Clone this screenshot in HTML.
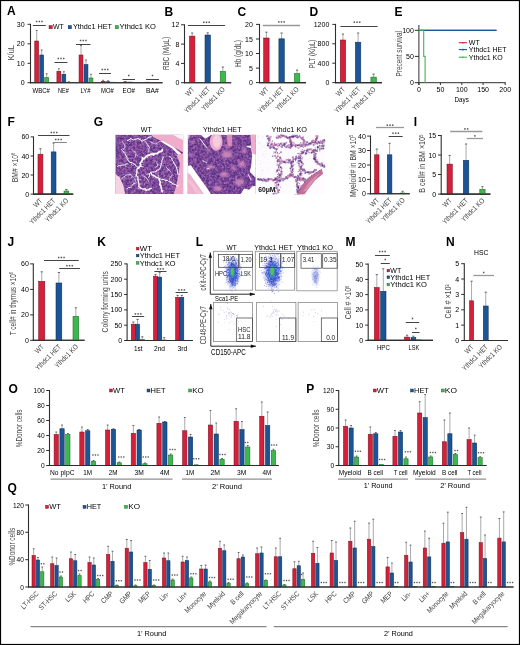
<!DOCTYPE html>
<html><head><meta charset="utf-8"><style>
html,body{margin:0;padding:0;background:#fff;}
svg{display:block; will-change:transform;}
text{font-family:"Liberation Sans", sans-serif;}
</style></head><body>
<svg width="520" height="645" viewBox="0 0 520 645">
<rect x="0" y="0" width="520" height="645" fill="#fff"/>
<text x="7.10" y="15.00" font-size="12" fill="#000" font-weight="bold">A</text>
<line x1="30.50" y1="23.80" x2="30.50" y2="83.20" stroke="#2e2e2e" stroke-width="1.1"/>
<line x1="27.50" y1="24.30" x2="30.50" y2="24.30" stroke="#2e2e2e" stroke-width="1"/>
<text x="24.60" y="26.80" font-size="7" text-anchor="end">30</text>
<line x1="27.50" y1="43.80" x2="30.50" y2="43.80" stroke="#2e2e2e" stroke-width="1"/>
<text x="24.60" y="46.30" font-size="7" text-anchor="end">20</text>
<line x1="27.50" y1="63.30" x2="30.50" y2="63.30" stroke="#2e2e2e" stroke-width="1"/>
<text x="24.60" y="65.80" font-size="7" text-anchor="end">10</text>
<line x1="27.50" y1="82.70" x2="30.50" y2="82.70" stroke="#2e2e2e" stroke-width="1"/>
<text x="24.60" y="85.20" font-size="7" text-anchor="end">0</text>
<line x1="30.00" y1="82.70" x2="162.60" y2="82.70" stroke="#2e2e2e" stroke-width="1.1"/>
<text x="14.30" y="52.70" font-size="8.5" text-anchor="middle" fill="#444" textLength="15.30" lengthAdjust="spacingAndGlyphs" transform="rotate(-90 14.30 52.70)">K/uL</text>
<line x1="36.70" y1="41.00" x2="36.70" y2="30.50" stroke="#707070" stroke-width="0.6"/>
<line x1="35.80" y1="30.50" x2="37.60" y2="30.50" stroke="#444" stroke-width="0.8"/>
<rect x="34.75" y="41.00" width="3.90" height="41.70" fill="#d4203a" stroke="#7a1020" stroke-width="0.55"/>
<line x1="41.70" y1="55.00" x2="41.70" y2="50.00" stroke="#707070" stroke-width="0.6"/>
<line x1="40.80" y1="50.00" x2="42.60" y2="50.00" stroke="#444" stroke-width="0.8"/>
<rect x="39.75" y="55.00" width="3.90" height="27.70" fill="#1c5595" stroke="#0e2f55" stroke-width="0.55"/>
<line x1="46.70" y1="77.50" x2="46.70" y2="73.75" stroke="#707070" stroke-width="0.6"/>
<line x1="45.80" y1="73.75" x2="47.60" y2="73.75" stroke="#444" stroke-width="0.8"/>
<rect x="44.75" y="77.50" width="3.90" height="5.20" fill="#3db84c" stroke="#1d6a27" stroke-width="0.55"/>
<line x1="58.85" y1="71.25" x2="58.85" y2="68.75" stroke="#707070" stroke-width="0.6"/>
<line x1="57.95" y1="68.75" x2="59.75" y2="68.75" stroke="#444" stroke-width="0.8"/>
<rect x="56.90" y="71.25" width="3.90" height="11.45" fill="#d4203a" stroke="#7a1020" stroke-width="0.55"/>
<line x1="63.85" y1="74.25" x2="63.85" y2="71.75" stroke="#707070" stroke-width="0.6"/>
<line x1="62.95" y1="71.75" x2="64.75" y2="71.75" stroke="#444" stroke-width="0.8"/>
<rect x="61.90" y="74.25" width="3.90" height="8.45" fill="#1c5595" stroke="#0e2f55" stroke-width="0.55"/>
<line x1="68.85" y1="82.20" x2="68.85" y2="81.80" stroke="#707070" stroke-width="0.6"/>
<line x1="67.95" y1="81.80" x2="69.75" y2="81.80" stroke="#444" stroke-width="0.8"/>
<rect x="66.90" y="82.20" width="3.90" height="0.50" fill="#3db84c" stroke="#1d6a27" stroke-width="0.55"/>
<line x1="81.00" y1="55.00" x2="81.00" y2="45.50" stroke="#707070" stroke-width="0.6"/>
<line x1="80.10" y1="45.50" x2="81.90" y2="45.50" stroke="#444" stroke-width="0.8"/>
<rect x="79.05" y="55.00" width="3.90" height="27.70" fill="#d4203a" stroke="#7a1020" stroke-width="0.55"/>
<line x1="86.00" y1="64.50" x2="86.00" y2="60.00" stroke="#707070" stroke-width="0.6"/>
<line x1="85.10" y1="60.00" x2="86.90" y2="60.00" stroke="#444" stroke-width="0.8"/>
<rect x="84.05" y="64.50" width="3.90" height="18.20" fill="#1c5595" stroke="#0e2f55" stroke-width="0.55"/>
<line x1="91.00" y1="78.00" x2="91.00" y2="74.25" stroke="#707070" stroke-width="0.6"/>
<line x1="90.10" y1="74.25" x2="91.90" y2="74.25" stroke="#444" stroke-width="0.8"/>
<rect x="89.05" y="78.00" width="3.90" height="4.70" fill="#3db84c" stroke="#1d6a27" stroke-width="0.55"/>
<line x1="103.15" y1="81.30" x2="103.15" y2="80.30" stroke="#707070" stroke-width="0.6"/>
<line x1="102.25" y1="80.30" x2="104.05" y2="80.30" stroke="#444" stroke-width="0.8"/>
<rect x="101.20" y="81.30" width="3.90" height="1.40" fill="#d4203a" stroke="#7a1020" stroke-width="0.55"/>
<line x1="108.15" y1="81.80" x2="108.15" y2="80.80" stroke="#707070" stroke-width="0.6"/>
<line x1="107.25" y1="80.80" x2="109.05" y2="80.80" stroke="#444" stroke-width="0.8"/>
<rect x="106.20" y="81.80" width="3.90" height="0.90" fill="#1c5595" stroke="#0e2f55" stroke-width="0.55"/>
<rect x="111.20" y="82.20" width="3.90" height="0.50" fill="#3db84c" stroke="#1d6a27" stroke-width="0.55"/>
<line x1="125.30" y1="82.00" x2="125.30" y2="81.50" stroke="#707070" stroke-width="0.6"/>
<line x1="124.40" y1="81.50" x2="126.20" y2="81.50" stroke="#444" stroke-width="0.8"/>
<rect x="123.35" y="82.00" width="3.90" height="0.70" fill="#d4203a" stroke="#7a1020" stroke-width="0.55"/>
<rect x="128.35" y="82.10" width="3.90" height="0.60" fill="#1c5595" stroke="#0e2f55" stroke-width="0.55"/>
<rect x="145.50" y="82.20" width="3.90" height="0.50" fill="#d4203a" stroke="#7a1020" stroke-width="0.55"/>
<line x1="32.80" y1="25.50" x2="45.80" y2="25.50" stroke="#444" stroke-width="1.0"/>
<rect x="35.85" y="20.75" width="1.50" height="1.50" fill="#555"/>
<rect x="38.55" y="20.75" width="1.50" height="1.50" fill="#555"/>
<rect x="41.25" y="20.75" width="1.50" height="1.50" fill="#555"/>
<line x1="54.50" y1="62.50" x2="67.50" y2="62.50" stroke="#444" stroke-width="1.0"/>
<rect x="57.55" y="57.75" width="1.50" height="1.50" fill="#555"/>
<rect x="60.25" y="57.75" width="1.50" height="1.50" fill="#555"/>
<rect x="62.95" y="57.75" width="1.50" height="1.50" fill="#555"/>
<line x1="76.00" y1="44.50" x2="90.50" y2="44.50" stroke="#444" stroke-width="1.0"/>
<rect x="79.80" y="39.75" width="1.50" height="1.50" fill="#555"/>
<rect x="82.50" y="39.75" width="1.50" height="1.50" fill="#555"/>
<rect x="85.20" y="39.75" width="1.50" height="1.50" fill="#555"/>
<line x1="99.00" y1="73.50" x2="111.00" y2="73.50" stroke="#444" stroke-width="1.0"/>
<rect x="101.55" y="68.75" width="1.50" height="1.50" fill="#555"/>
<rect x="104.25" y="68.75" width="1.50" height="1.50" fill="#555"/>
<rect x="106.95" y="68.75" width="1.50" height="1.50" fill="#555"/>
<line x1="122.50" y1="79.50" x2="135.00" y2="79.50" stroke="#444" stroke-width="1.0"/>
<rect x="128.00" y="74.75" width="1.50" height="1.50" fill="#555"/>
<line x1="146.00" y1="79.50" x2="159.00" y2="79.50" stroke="#444" stroke-width="1.0"/>
<rect x="151.75" y="74.75" width="1.50" height="1.50" fill="#555"/>
<text x="32.50" y="92.60" font-size="7" textLength="17.50" lengthAdjust="spacingAndGlyphs">WBC#</text>
<text x="58.00" y="92.60" font-size="7" textLength="10.75" lengthAdjust="spacingAndGlyphs">NE#</text>
<text x="80.50" y="92.60" font-size="7" textLength="10.00" lengthAdjust="spacingAndGlyphs">LY#</text>
<text x="101.00" y="92.60" font-size="7" textLength="12.75" lengthAdjust="spacingAndGlyphs">MO#</text>
<text x="122.50" y="92.60" font-size="7" textLength="12.50" lengthAdjust="spacingAndGlyphs">EO#</text>
<text x="146.00" y="92.60" font-size="7" textLength="12.75" lengthAdjust="spacingAndGlyphs">BA#</text>
<rect x="49.00" y="25.50" width="3.30" height="3.30" fill="#d4203a" stroke="#7a1020" stroke-width="0.4"/>
<text x="53.00" y="29.40" font-size="7.5" textLength="10.80" lengthAdjust="spacingAndGlyphs">WT</text>
<rect x="68.20" y="25.50" width="3.30" height="3.30" fill="#1c5595" stroke="#0e2f55" stroke-width="0.4"/>
<text x="72.90" y="29.40" font-size="7.5" textLength="39.10" lengthAdjust="spacingAndGlyphs">Ythdc1 HET</text>
<rect x="115.20" y="25.50" width="3.30" height="3.30" fill="#3db84c" stroke="#1d6a27" stroke-width="0.4"/>
<text x="119.50" y="29.40" font-size="7.5" textLength="36.50" lengthAdjust="spacingAndGlyphs">Ythdc1 KO</text>
<text x="164.50" y="15.50" font-size="12" fill="#000" font-weight="bold">B</text>
<line x1="184.50" y1="24.30" x2="184.50" y2="83.20" stroke="#2e2e2e" stroke-width="1.1"/>
<line x1="181.00" y1="24.80" x2="184.50" y2="24.80" stroke="#2e2e2e" stroke-width="1"/>
<text x="179.30" y="27.30" font-size="7" text-anchor="end">12</text>
<line x1="181.00" y1="44.10" x2="184.50" y2="44.10" stroke="#2e2e2e" stroke-width="1"/>
<text x="179.30" y="46.60" font-size="7" text-anchor="end">8</text>
<line x1="181.00" y1="63.40" x2="184.50" y2="63.40" stroke="#2e2e2e" stroke-width="1"/>
<text x="179.30" y="65.90" font-size="7" text-anchor="end">4</text>
<line x1="181.00" y1="82.70" x2="184.50" y2="82.70" stroke="#2e2e2e" stroke-width="1"/>
<text x="179.30" y="85.20" font-size="7" text-anchor="end">0</text>
<line x1="184.00" y1="82.70" x2="231.20" y2="82.70" stroke="#2e2e2e" stroke-width="1.1"/>
<text x="169.30" y="53.50" font-size="8.7" text-anchor="middle" fill="#444" textLength="33.20" lengthAdjust="spacingAndGlyphs" transform="rotate(-90 169.30 53.50)">RBC (M/μL)</text>
<line x1="192.20" y1="36.10" x2="192.20" y2="33.00" stroke="#707070" stroke-width="0.6"/>
<line x1="191.10" y1="33.00" x2="193.30" y2="33.00" stroke="#444" stroke-width="0.8"/>
<rect x="189.50" y="36.10" width="5.40" height="46.60" fill="#d4203a" stroke="#7a1020" stroke-width="0.55"/>
<line x1="207.70" y1="35.00" x2="207.70" y2="32.80" stroke="#707070" stroke-width="0.6"/>
<line x1="206.60" y1="32.80" x2="208.80" y2="32.80" stroke="#444" stroke-width="0.8"/>
<rect x="205.00" y="35.00" width="5.40" height="47.70" fill="#1c5595" stroke="#0e2f55" stroke-width="0.55"/>
<line x1="222.85" y1="71.30" x2="222.85" y2="67.00" stroke="#707070" stroke-width="0.6"/>
<line x1="221.75" y1="67.00" x2="223.95" y2="67.00" stroke="#444" stroke-width="0.8"/>
<rect x="220.20" y="71.30" width="5.30" height="11.40" fill="#3db84c" stroke="#1d6a27" stroke-width="0.55"/>
<line x1="187.90" y1="25.50" x2="225.10" y2="25.50" stroke="#444" stroke-width="1.0"/>
<rect x="203.05" y="21.55" width="1.50" height="1.50" fill="#555"/>
<rect x="205.75" y="21.55" width="1.50" height="1.50" fill="#555"/>
<rect x="208.45" y="21.55" width="1.50" height="1.50" fill="#555"/>
<text x="195.05" y="89.90" font-size="7.3" text-anchor="end" fill="#444" textLength="9.64" lengthAdjust="spacingAndGlyphs" transform="rotate(-45 195.05 89.90)">WT</text>
<text x="210.55" y="89.90" font-size="7.3" text-anchor="end" fill="#444" textLength="33.42" lengthAdjust="spacingAndGlyphs" transform="rotate(-45 210.55 89.90)">Ythdc1 HET</text>
<text x="225.55" y="89.90" font-size="7.3" text-anchor="end" fill="#444" textLength="29.98" lengthAdjust="spacingAndGlyphs" transform="rotate(-45 225.55 89.90)">Ythdc1 KO</text>
<text x="237.50" y="15.50" font-size="12" fill="#000" font-weight="bold">C</text>
<line x1="259.50" y1="23.90" x2="259.50" y2="83.10" stroke="#2e2e2e" stroke-width="1.1"/>
<line x1="256.00" y1="24.40" x2="259.50" y2="24.40" stroke="#2e2e2e" stroke-width="1"/>
<text x="252.90" y="26.90" font-size="7" text-anchor="end">20</text>
<line x1="256.00" y1="39.00" x2="259.50" y2="39.00" stroke="#2e2e2e" stroke-width="1"/>
<text x="252.90" y="41.50" font-size="7" text-anchor="end">15</text>
<line x1="256.00" y1="53.50" x2="259.50" y2="53.50" stroke="#2e2e2e" stroke-width="1"/>
<text x="252.90" y="56.00" font-size="7" text-anchor="end">10</text>
<line x1="256.00" y1="68.10" x2="259.50" y2="68.10" stroke="#2e2e2e" stroke-width="1"/>
<text x="252.90" y="70.60" font-size="7" text-anchor="end">5</text>
<line x1="256.00" y1="82.60" x2="259.50" y2="82.60" stroke="#2e2e2e" stroke-width="1"/>
<text x="252.90" y="85.10" font-size="7" text-anchor="end">0</text>
<line x1="259.00" y1="82.60" x2="306.00" y2="82.60" stroke="#2e2e2e" stroke-width="1.1"/>
<text x="241.30" y="53.50" font-size="8.7" text-anchor="middle" fill="#444" textLength="27.00" lengthAdjust="spacingAndGlyphs" transform="rotate(-90 241.30 53.50)">Hb (g/dL)</text>
<line x1="266.40" y1="38.00" x2="266.40" y2="32.20" stroke="#707070" stroke-width="0.6"/>
<line x1="265.30" y1="32.20" x2="267.50" y2="32.20" stroke="#444" stroke-width="0.8"/>
<rect x="263.70" y="38.00" width="5.40" height="44.60" fill="#d4203a" stroke="#7a1020" stroke-width="0.55"/>
<line x1="281.60" y1="38.80" x2="281.60" y2="33.00" stroke="#707070" stroke-width="0.6"/>
<line x1="280.50" y1="33.00" x2="282.70" y2="33.00" stroke="#444" stroke-width="0.8"/>
<rect x="278.90" y="38.80" width="5.40" height="43.80" fill="#1c5595" stroke="#0e2f55" stroke-width="0.55"/>
<line x1="297.10" y1="73.60" x2="297.10" y2="70.10" stroke="#707070" stroke-width="0.6"/>
<line x1="296.00" y1="70.10" x2="298.20" y2="70.10" stroke="#444" stroke-width="0.8"/>
<rect x="294.40" y="73.60" width="5.40" height="9.00" fill="#3db84c" stroke="#1d6a27" stroke-width="0.55"/>
<line x1="262.90" y1="25.50" x2="300.10" y2="25.50" stroke="#999" stroke-width="1.3"/>
<rect x="278.05" y="21.15" width="1.50" height="1.50" fill="#555"/>
<rect x="280.75" y="21.15" width="1.50" height="1.50" fill="#555"/>
<rect x="283.45" y="21.15" width="1.50" height="1.50" fill="#555"/>
<text x="269.30" y="89.90" font-size="7.3" text-anchor="end" fill="#444" textLength="9.64" lengthAdjust="spacingAndGlyphs" transform="rotate(-45 269.30 89.90)">WT</text>
<text x="284.40" y="89.90" font-size="7.3" text-anchor="end" fill="#444" textLength="33.42" lengthAdjust="spacingAndGlyphs" transform="rotate(-45 284.40 89.90)">Ythdc1 HET</text>
<text x="299.40" y="89.90" font-size="7.3" text-anchor="end" fill="#444" textLength="29.98" lengthAdjust="spacingAndGlyphs" transform="rotate(-45 299.40 89.90)">Ythdc1 KO</text>
<text x="309.50" y="15.50" font-size="12" fill="#000" font-weight="bold">D</text>
<line x1="335.50" y1="23.90" x2="335.50" y2="83.10" stroke="#2e2e2e" stroke-width="1.1"/>
<line x1="332.30" y1="24.40" x2="335.50" y2="24.40" stroke="#2e2e2e" stroke-width="1"/>
<text x="329.30" y="26.90" font-size="7" text-anchor="end">1200</text>
<line x1="332.30" y1="43.80" x2="335.50" y2="43.80" stroke="#2e2e2e" stroke-width="1"/>
<text x="329.30" y="46.30" font-size="7" text-anchor="end">800</text>
<line x1="332.30" y1="63.20" x2="335.50" y2="63.20" stroke="#2e2e2e" stroke-width="1"/>
<text x="329.30" y="65.70" font-size="7" text-anchor="end">400</text>
<line x1="332.30" y1="82.60" x2="335.50" y2="82.60" stroke="#2e2e2e" stroke-width="1"/>
<text x="329.30" y="85.10" font-size="7" text-anchor="end">0</text>
<line x1="335.00" y1="82.60" x2="382.00" y2="82.60" stroke="#2e2e2e" stroke-width="1.1"/>
<text x="315.20" y="53.90" font-size="8.7" text-anchor="middle" fill="#444" textLength="28.50" lengthAdjust="spacingAndGlyphs" transform="rotate(-90 315.20 53.90)">PLT (K/μL)</text>
<line x1="342.95" y1="40.00" x2="342.95" y2="34.10" stroke="#707070" stroke-width="0.6"/>
<line x1="341.85" y1="34.10" x2="344.05" y2="34.10" stroke="#444" stroke-width="0.8"/>
<rect x="340.30" y="40.00" width="5.30" height="42.60" fill="#d4203a" stroke="#7a1020" stroke-width="0.55"/>
<line x1="358.10" y1="42.20" x2="358.10" y2="33.00" stroke="#707070" stroke-width="0.6"/>
<line x1="357.00" y1="33.00" x2="359.20" y2="33.00" stroke="#444" stroke-width="0.8"/>
<rect x="355.40" y="42.20" width="5.40" height="40.40" fill="#1c5595" stroke="#0e2f55" stroke-width="0.55"/>
<line x1="373.60" y1="77.10" x2="373.60" y2="74.10" stroke="#707070" stroke-width="0.6"/>
<line x1="372.50" y1="74.10" x2="374.70" y2="74.10" stroke="#444" stroke-width="0.8"/>
<rect x="370.90" y="77.10" width="5.40" height="5.50" fill="#3db84c" stroke="#1d6a27" stroke-width="0.55"/>
<line x1="340.40" y1="26.50" x2="377.60" y2="26.50" stroke="#444" stroke-width="1.0"/>
<rect x="353.55" y="21.45" width="1.50" height="1.50" fill="#555"/>
<rect x="356.25" y="21.45" width="1.50" height="1.50" fill="#555"/>
<rect x="358.95" y="21.45" width="1.50" height="1.50" fill="#555"/>
<text x="345.70" y="89.90" font-size="7.3" text-anchor="end" fill="#444" textLength="9.64" lengthAdjust="spacingAndGlyphs" transform="rotate(-45 345.70 89.90)">WT</text>
<text x="360.90" y="89.90" font-size="7.3" text-anchor="end" fill="#444" textLength="33.42" lengthAdjust="spacingAndGlyphs" transform="rotate(-45 360.90 89.90)">Ythdc1 HET</text>
<text x="376.30" y="89.90" font-size="7.3" text-anchor="end" fill="#444" textLength="29.98" lengthAdjust="spacingAndGlyphs" transform="rotate(-45 376.30 89.90)">Ythdc1 KO</text>
<text x="394.50" y="15.50" font-size="12" fill="#000" font-weight="bold">E</text>
<line x1="418.90" y1="25.00" x2="418.90" y2="85.00" stroke="#2e2e2e" stroke-width="1"/>
<line x1="414.80" y1="30.30" x2="418.90" y2="30.30" stroke="#2e2e2e" stroke-width="1"/>
<text x="413.90" y="32.80" font-size="7" text-anchor="end">100</text>
<line x1="414.80" y1="56.40" x2="418.90" y2="56.40" stroke="#2e2e2e" stroke-width="1"/>
<text x="413.90" y="58.90" font-size="7" text-anchor="end">50</text>
<line x1="414.80" y1="82.70" x2="418.90" y2="82.70" stroke="#2e2e2e" stroke-width="1"/>
<text x="413.90" y="85.20" font-size="7" text-anchor="end">0</text>
<line x1="418.40" y1="82.70" x2="505.70" y2="82.70" stroke="#2e2e2e" stroke-width="1"/>
<line x1="418.90" y1="82.70" x2="418.90" y2="85.00" stroke="#2e2e2e" stroke-width="1"/>
<text x="418.90" y="92.00" font-size="7" text-anchor="middle">0</text>
<line x1="440.40" y1="82.70" x2="440.40" y2="85.00" stroke="#2e2e2e" stroke-width="1"/>
<text x="440.40" y="92.00" font-size="7" text-anchor="middle">50</text>
<line x1="461.80" y1="82.70" x2="461.80" y2="85.00" stroke="#2e2e2e" stroke-width="1"/>
<text x="461.80" y="92.00" font-size="7" text-anchor="middle">100</text>
<line x1="483.10" y1="82.70" x2="483.10" y2="85.00" stroke="#2e2e2e" stroke-width="1"/>
<text x="483.10" y="92.00" font-size="7" text-anchor="middle">150</text>
<line x1="505.20" y1="82.70" x2="505.20" y2="85.00" stroke="#2e2e2e" stroke-width="1"/>
<text x="505.20" y="92.00" font-size="7" text-anchor="middle">200</text>
<text x="454.60" y="101.60" font-size="7.5" textLength="14.20" lengthAdjust="spacingAndGlyphs">Days</text>
<text x="402.10" y="53.80" font-size="8.7" text-anchor="middle" fill="#444" textLength="45.30" lengthAdjust="spacingAndGlyphs" transform="rotate(-90 402.10 53.80)">Precent survival</text>
<line x1="419.40" y1="30.30" x2="496.50" y2="30.30" stroke="#d4203a" stroke-width="1.2"/>
<line x1="419.40" y1="30.30" x2="496.50" y2="30.30" stroke="#1c5595" stroke-width="1.2"/>
<path d="M419.4 30.3 H423.7 V56.4 H425.1 V82.7" fill="none" stroke="#3db84c" stroke-width="1.1"/>
<line x1="458.80" y1="42.70" x2="467.00" y2="42.70" stroke="#d4203a" stroke-width="1.1"/>
<line x1="462.90" y1="41.90" x2="462.90" y2="43.50" stroke="#d4203a" stroke-width="1.1"/>
<text x="468.80" y="45.30" font-size="7">WT</text>
<line x1="458.80" y1="49.60" x2="467.00" y2="49.60" stroke="#1c5595" stroke-width="1.1"/>
<line x1="462.90" y1="48.80" x2="462.90" y2="50.40" stroke="#1c5595" stroke-width="1.1"/>
<text x="468.80" y="52.20" font-size="7">Ythdc1 HET</text>
<line x1="458.80" y1="57.20" x2="467.00" y2="57.20" stroke="#3db84c" stroke-width="1.1"/>
<line x1="462.90" y1="56.40" x2="462.90" y2="58.00" stroke="#3db84c" stroke-width="1.1"/>
<text x="468.80" y="59.80" font-size="7">Ythdc1 KO</text>
<text x="7.50" y="125.50" font-size="12" fill="#000" font-weight="bold">F</text>
<line x1="33.50" y1="136.40" x2="33.50" y2="194.60" stroke="#2e2e2e" stroke-width="1.1"/>
<line x1="30.60" y1="136.90" x2="33.50" y2="136.90" stroke="#2e2e2e" stroke-width="1"/>
<text x="29.20" y="139.40" font-size="7" text-anchor="end">60</text>
<line x1="30.60" y1="156.00" x2="33.50" y2="156.00" stroke="#2e2e2e" stroke-width="1"/>
<text x="29.20" y="158.50" font-size="7" text-anchor="end">40</text>
<line x1="30.60" y1="175.00" x2="33.50" y2="175.00" stroke="#2e2e2e" stroke-width="1"/>
<text x="29.20" y="177.50" font-size="7" text-anchor="end">20</text>
<line x1="30.60" y1="194.10" x2="33.50" y2="194.10" stroke="#2e2e2e" stroke-width="1"/>
<text x="29.20" y="196.60" font-size="7" text-anchor="end">0</text>
<line x1="33.00" y1="194.10" x2="73.20" y2="194.10" stroke="#2e2e2e" stroke-width="1.1"/>
<text x="17.80" y="182.20" font-size="8.5" fill="#444" textLength="29.60" lengthAdjust="spacingAndGlyphs" transform="rotate(-90 17.80 182.20)">BM# ×10<tspan font-size="5.2" dy="-2.8">6</tspan></text>
<line x1="40.45" y1="154.20" x2="40.45" y2="148.75" stroke="#707070" stroke-width="0.6"/>
<line x1="39.35" y1="148.75" x2="41.55" y2="148.75" stroke="#444" stroke-width="0.8"/>
<rect x="38.00" y="154.20" width="4.90" height="39.90" fill="#d4203a" stroke="#7a1020" stroke-width="0.55"/>
<line x1="53.60" y1="151.90" x2="53.60" y2="143.00" stroke="#707070" stroke-width="0.6"/>
<line x1="52.50" y1="143.00" x2="54.70" y2="143.00" stroke="#444" stroke-width="0.8"/>
<rect x="51.20" y="151.90" width="4.80" height="42.20" fill="#1c5595" stroke="#0e2f55" stroke-width="0.55"/>
<line x1="66.40" y1="191.00" x2="66.40" y2="189.50" stroke="#707070" stroke-width="0.6"/>
<line x1="65.30" y1="189.50" x2="67.50" y2="189.50" stroke="#444" stroke-width="0.8"/>
<rect x="64.00" y="191.00" width="4.80" height="3.10" fill="#3db84c" stroke="#1d6a27" stroke-width="0.55"/>
<line x1="38.00" y1="135.50" x2="69.50" y2="135.50" stroke="#444" stroke-width="1.0"/>
<rect x="50.55" y="131.75" width="1.50" height="1.50" fill="#555"/>
<rect x="53.25" y="131.75" width="1.50" height="1.50" fill="#555"/>
<rect x="55.95" y="131.75" width="1.50" height="1.50" fill="#555"/>
<line x1="53.10" y1="142.50" x2="67.00" y2="142.50" stroke="#888" stroke-width="1.0"/>
<rect x="54.95" y="138.75" width="1.50" height="1.50" fill="#555"/>
<rect x="57.65" y="138.75" width="1.50" height="1.50" fill="#555"/>
<rect x="60.35" y="138.75" width="1.50" height="1.50" fill="#555"/>
<text x="43.05" y="201.20" font-size="7.3" text-anchor="end" fill="#444" textLength="9.64" lengthAdjust="spacingAndGlyphs" transform="rotate(-45 43.05 201.20)">WT</text>
<text x="55.90" y="201.20" font-size="7.3" text-anchor="end" fill="#444" textLength="33.42" lengthAdjust="spacingAndGlyphs" transform="rotate(-45 55.90 201.20)">Ythdc1 HET</text>
<text x="69.05" y="201.20" font-size="7.3" text-anchor="end" fill="#444" textLength="29.98" lengthAdjust="spacingAndGlyphs" transform="rotate(-45 69.05 201.20)">Ythdc1 KO</text>
<text x="345.80" y="125.40" font-size="12" fill="#000" font-weight="bold">H</text>
<line x1="370.50" y1="135.60" x2="370.50" y2="194.30" stroke="#2e2e2e" stroke-width="1.1"/>
<line x1="367.10" y1="136.10" x2="370.50" y2="136.10" stroke="#2e2e2e" stroke-width="1"/>
<text x="365.80" y="138.60" font-size="7" text-anchor="end">40</text>
<line x1="367.10" y1="150.50" x2="370.50" y2="150.50" stroke="#2e2e2e" stroke-width="1"/>
<text x="365.80" y="153.00" font-size="7" text-anchor="end">30</text>
<line x1="367.10" y1="165.00" x2="370.50" y2="165.00" stroke="#2e2e2e" stroke-width="1"/>
<text x="365.80" y="167.50" font-size="7" text-anchor="end">20</text>
<line x1="367.10" y1="179.40" x2="370.50" y2="179.40" stroke="#2e2e2e" stroke-width="1"/>
<text x="365.80" y="181.90" font-size="7" text-anchor="end">10</text>
<line x1="367.10" y1="193.80" x2="370.50" y2="193.80" stroke="#2e2e2e" stroke-width="1"/>
<text x="365.80" y="196.30" font-size="7" text-anchor="end">0</text>
<line x1="370.00" y1="193.80" x2="409.80" y2="193.80" stroke="#2e2e2e" stroke-width="1.1"/>
<text x="355.80" y="197.00" font-size="8.7" fill="#444" textLength="62.40" lengthAdjust="spacingAndGlyphs" transform="rotate(-90 355.80 197.00)">Myeloid# in BM ×10<tspan font-size="5.2" dy="-2.8">5</tspan></text>
<line x1="376.80" y1="154.80" x2="376.80" y2="149.00" stroke="#707070" stroke-width="0.6"/>
<line x1="375.70" y1="149.00" x2="377.90" y2="149.00" stroke="#444" stroke-width="0.8"/>
<rect x="374.60" y="154.80" width="4.40" height="39.00" fill="#d4203a" stroke="#7a1020" stroke-width="0.55"/>
<line x1="389.60" y1="154.80" x2="389.60" y2="143.30" stroke="#707070" stroke-width="0.6"/>
<line x1="388.50" y1="143.30" x2="390.70" y2="143.30" stroke="#444" stroke-width="0.8"/>
<rect x="387.30" y="154.80" width="4.60" height="39.00" fill="#1c5595" stroke="#0e2f55" stroke-width="0.55"/>
<line x1="402.60" y1="193.00" x2="402.60" y2="191.30" stroke="#707070" stroke-width="0.6"/>
<line x1="401.50" y1="191.30" x2="403.70" y2="191.30" stroke="#444" stroke-width="0.8"/>
<rect x="400.20" y="193.00" width="4.80" height="0.80" fill="#3db84c" stroke="#1d6a27" stroke-width="0.55"/>
<line x1="376.00" y1="127.50" x2="404.00" y2="127.50" stroke="#999" stroke-width="1.3"/>
<rect x="386.55" y="124.45" width="1.50" height="1.50" fill="#555"/>
<rect x="389.25" y="124.45" width="1.50" height="1.50" fill="#555"/>
<rect x="391.95" y="124.45" width="1.50" height="1.50" fill="#555"/>
<line x1="388.70" y1="136.50" x2="402.70" y2="136.50" stroke="#444" stroke-width="1.0"/>
<rect x="392.25" y="132.45" width="1.50" height="1.50" fill="#555"/>
<rect x="394.95" y="132.45" width="1.50" height="1.50" fill="#555"/>
<rect x="397.65" y="132.45" width="1.50" height="1.50" fill="#555"/>
<text x="379.60" y="200.70" font-size="7.3" text-anchor="end" fill="#444" textLength="9.64" lengthAdjust="spacingAndGlyphs" transform="rotate(-45 379.60 200.70)">WT</text>
<text x="392.40" y="200.70" font-size="7.3" text-anchor="end" fill="#444" textLength="33.42" lengthAdjust="spacingAndGlyphs" transform="rotate(-45 392.40 200.70)">Ythdc1 HET</text>
<text x="405.40" y="200.70" font-size="7.3" text-anchor="end" fill="#444" textLength="29.98" lengthAdjust="spacingAndGlyphs" transform="rotate(-45 405.40 200.70)">Ythdc1 KO</text>
<text x="413.80" y="125.60" font-size="12" fill="#000" font-weight="bold">I</text>
<line x1="441.20" y1="135.00" x2="441.20" y2="194.60" stroke="#2e2e2e" stroke-width="1.1"/>
<line x1="438.00" y1="135.50" x2="441.20" y2="135.50" stroke="#2e2e2e" stroke-width="1"/>
<text x="436.20" y="138.00" font-size="7" text-anchor="end">15</text>
<line x1="438.00" y1="155.00" x2="441.20" y2="155.00" stroke="#2e2e2e" stroke-width="1"/>
<text x="436.20" y="157.50" font-size="7" text-anchor="end">10</text>
<line x1="438.00" y1="174.50" x2="441.20" y2="174.50" stroke="#2e2e2e" stroke-width="1"/>
<text x="436.20" y="177.00" font-size="7" text-anchor="end">5</text>
<line x1="438.00" y1="194.10" x2="441.20" y2="194.10" stroke="#2e2e2e" stroke-width="1"/>
<text x="436.20" y="196.60" font-size="7" text-anchor="end">0</text>
<line x1="440.70" y1="194.10" x2="490.40" y2="194.10" stroke="#2e2e2e" stroke-width="1.1"/>
<text x="425.50" y="192.70" font-size="8.7" fill="#444" textLength="58.10" lengthAdjust="spacingAndGlyphs" transform="rotate(-90 425.50 192.70)">B cell# in BM ×10<tspan font-size="5.2" dy="-2.8">5</tspan></text>
<line x1="449.65" y1="164.10" x2="449.65" y2="155.40" stroke="#707070" stroke-width="0.6"/>
<line x1="448.55" y1="155.40" x2="450.75" y2="155.40" stroke="#444" stroke-width="0.8"/>
<rect x="447.00" y="164.10" width="5.30" height="30.00" fill="#d4203a" stroke="#7a1020" stroke-width="0.55"/>
<line x1="466.05" y1="160.30" x2="466.05" y2="144.00" stroke="#707070" stroke-width="0.6"/>
<line x1="464.95" y1="144.00" x2="467.15" y2="144.00" stroke="#444" stroke-width="0.8"/>
<rect x="463.30" y="160.30" width="5.50" height="33.80" fill="#1c5595" stroke="#0e2f55" stroke-width="0.55"/>
<line x1="482.45" y1="189.30" x2="482.45" y2="186.70" stroke="#707070" stroke-width="0.6"/>
<line x1="481.35" y1="186.70" x2="483.55" y2="186.70" stroke="#444" stroke-width="0.8"/>
<rect x="479.80" y="189.30" width="5.30" height="4.80" fill="#3db84c" stroke="#1d6a27" stroke-width="0.55"/>
<line x1="450.20" y1="131.50" x2="482.30" y2="131.50" stroke="#999" stroke-width="1.3"/>
<rect x="464.15" y="128.15" width="1.50" height="1.50" fill="#555"/>
<rect x="466.85" y="128.15" width="1.50" height="1.50" fill="#555"/>
<line x1="466.70" y1="138.50" x2="483.00" y2="138.50" stroke="#999" stroke-width="1.3"/>
<rect x="474.10" y="135.15" width="1.50" height="1.50" fill="#555"/>
<text x="452.40" y="201.00" font-size="7.3" text-anchor="end" fill="#444" textLength="9.64" lengthAdjust="spacingAndGlyphs" transform="rotate(-45 452.40 201.00)">WT</text>
<text x="468.80" y="201.00" font-size="7.3" text-anchor="end" fill="#444" textLength="33.42" lengthAdjust="spacingAndGlyphs" transform="rotate(-45 468.80 201.00)">Ythdc1 HET</text>
<text x="485.20" y="201.00" font-size="7.3" text-anchor="end" fill="#444" textLength="29.98" lengthAdjust="spacingAndGlyphs" transform="rotate(-45 485.20 201.00)">Ythdc1 KO</text>
<text x="7.40" y="246.40" font-size="12" fill="#000" font-weight="bold">J</text>
<line x1="33.30" y1="263.40" x2="33.30" y2="340.80" stroke="#2e2e2e" stroke-width="1.1"/>
<line x1="30.10" y1="263.90" x2="33.30" y2="263.90" stroke="#2e2e2e" stroke-width="1"/>
<text x="28.80" y="266.40" font-size="7" text-anchor="end">60</text>
<line x1="30.10" y1="289.40" x2="33.30" y2="289.40" stroke="#2e2e2e" stroke-width="1"/>
<text x="28.80" y="291.90" font-size="7" text-anchor="end">40</text>
<line x1="30.10" y1="314.90" x2="33.30" y2="314.90" stroke="#2e2e2e" stroke-width="1"/>
<text x="28.80" y="317.40" font-size="7" text-anchor="end">20</text>
<line x1="30.10" y1="340.30" x2="33.30" y2="340.30" stroke="#2e2e2e" stroke-width="1"/>
<text x="28.80" y="342.80" font-size="7" text-anchor="end">0</text>
<line x1="32.80" y1="340.30" x2="84.60" y2="340.30" stroke="#2e2e2e" stroke-width="1.1"/>
<text x="16.20" y="335.30" font-size="8.5" fill="#444" textLength="63.30" lengthAdjust="spacingAndGlyphs" transform="rotate(-90 16.20 335.30)">T cell# in thymus ×10<tspan font-size="5.2" dy="-2.8">6</tspan></text>
<line x1="41.75" y1="281.30" x2="41.75" y2="271.80" stroke="#707070" stroke-width="0.6"/>
<line x1="40.65" y1="271.80" x2="42.85" y2="271.80" stroke="#444" stroke-width="0.8"/>
<rect x="38.70" y="281.30" width="6.10" height="59.00" fill="#d4203a" stroke="#7a1020" stroke-width="0.55"/>
<line x1="58.90" y1="283.00" x2="58.90" y2="272.50" stroke="#707070" stroke-width="0.6"/>
<line x1="57.80" y1="272.50" x2="60.00" y2="272.50" stroke="#444" stroke-width="0.8"/>
<rect x="56.00" y="283.00" width="5.80" height="57.30" fill="#1c5595" stroke="#0e2f55" stroke-width="0.55"/>
<line x1="75.85" y1="316.30" x2="75.85" y2="307.80" stroke="#707070" stroke-width="0.6"/>
<line x1="74.75" y1="307.80" x2="76.95" y2="307.80" stroke="#444" stroke-width="0.8"/>
<rect x="73.00" y="316.30" width="5.70" height="24.00" fill="#3db84c" stroke="#1d6a27" stroke-width="0.55"/>
<line x1="44.00" y1="260.50" x2="78.70" y2="260.50" stroke="#444" stroke-width="1.0"/>
<rect x="57.90" y="256.75" width="1.50" height="1.50" fill="#555"/>
<rect x="60.60" y="256.75" width="1.50" height="1.50" fill="#555"/>
<rect x="63.30" y="256.75" width="1.50" height="1.50" fill="#555"/>
<line x1="59.20" y1="268.50" x2="80.00" y2="268.50" stroke="#444" stroke-width="1.0"/>
<rect x="66.15" y="264.95" width="1.50" height="1.50" fill="#555"/>
<rect x="68.85" y="264.95" width="1.50" height="1.50" fill="#555"/>
<rect x="71.55" y="264.95" width="1.50" height="1.50" fill="#555"/>
<text x="44.55" y="347.20" font-size="7.3" text-anchor="end" fill="#444" textLength="9.64" lengthAdjust="spacingAndGlyphs" transform="rotate(-45 44.55 347.20)">WT</text>
<text x="61.70" y="347.20" font-size="7.3" text-anchor="end" fill="#444" textLength="33.42" lengthAdjust="spacingAndGlyphs" transform="rotate(-45 61.70 347.20)">Ythdc1 HET</text>
<text x="78.65" y="347.20" font-size="7.3" text-anchor="end" fill="#444" textLength="29.98" lengthAdjust="spacingAndGlyphs" transform="rotate(-45 78.65 347.20)">Ythdc1 KO</text>
<text x="97.30" y="246.30" font-size="12" fill="#000" font-weight="bold">K</text>
<line x1="127.10" y1="263.40" x2="127.10" y2="341.00" stroke="#2e2e2e" stroke-width="1.1"/>
<line x1="124.10" y1="263.90" x2="127.10" y2="263.90" stroke="#2e2e2e" stroke-width="1"/>
<text x="122.20" y="266.40" font-size="7" text-anchor="end">250</text>
<line x1="124.10" y1="279.20" x2="127.10" y2="279.20" stroke="#2e2e2e" stroke-width="1"/>
<text x="122.20" y="281.70" font-size="7" text-anchor="end">200</text>
<line x1="124.10" y1="294.50" x2="127.10" y2="294.50" stroke="#2e2e2e" stroke-width="1"/>
<text x="122.20" y="297.00" font-size="7" text-anchor="end">150</text>
<line x1="124.10" y1="309.90" x2="127.10" y2="309.90" stroke="#2e2e2e" stroke-width="1"/>
<text x="122.20" y="312.40" font-size="7" text-anchor="end">100</text>
<line x1="124.10" y1="325.20" x2="127.10" y2="325.20" stroke="#2e2e2e" stroke-width="1"/>
<text x="122.20" y="327.70" font-size="7" text-anchor="end">50</text>
<line x1="124.10" y1="340.50" x2="127.10" y2="340.50" stroke="#2e2e2e" stroke-width="1"/>
<text x="122.20" y="343.00" font-size="7" text-anchor="end">0</text>
<line x1="126.60" y1="340.50" x2="193.00" y2="340.50" stroke="#2e2e2e" stroke-width="1.1"/>
<text x="107.60" y="301.80" font-size="9" text-anchor="middle" fill="#444" textLength="61.20" lengthAdjust="spacingAndGlyphs" transform="rotate(-90 107.60 301.80)">Colony forming units</text>
<line x1="133.30" y1="324.20" x2="133.30" y2="322.00" stroke="#707070" stroke-width="0.6"/>
<line x1="132.20" y1="322.00" x2="134.40" y2="322.00" stroke="#444" stroke-width="0.8"/>
<rect x="131.30" y="324.20" width="4.00" height="16.30" fill="#d4203a" stroke="#7a1020" stroke-width="0.55"/>
<line x1="137.60" y1="324.20" x2="137.60" y2="319.40" stroke="#707070" stroke-width="0.6"/>
<line x1="136.50" y1="319.40" x2="138.70" y2="319.40" stroke="#444" stroke-width="0.8"/>
<rect x="135.60" y="324.20" width="4.00" height="16.30" fill="#1c5595" stroke="#0e2f55" stroke-width="0.55"/>
<line x1="142.30" y1="339.40" x2="142.30" y2="336.80" stroke="#707070" stroke-width="0.6"/>
<line x1="141.20" y1="336.80" x2="143.40" y2="336.80" stroke="#444" stroke-width="0.8"/>
<rect x="140.30" y="339.40" width="4.00" height="1.10" fill="#3db84c" stroke="#1d6a27" stroke-width="0.55"/>
<line x1="155.50" y1="276.20" x2="155.50" y2="274.60" stroke="#707070" stroke-width="0.6"/>
<line x1="154.40" y1="274.60" x2="156.60" y2="274.60" stroke="#444" stroke-width="0.8"/>
<rect x="153.50" y="276.20" width="4.00" height="64.30" fill="#d4203a" stroke="#7a1020" stroke-width="0.55"/>
<line x1="159.70" y1="277.10" x2="159.70" y2="272.70" stroke="#707070" stroke-width="0.6"/>
<line x1="158.60" y1="272.70" x2="160.80" y2="272.70" stroke="#444" stroke-width="0.8"/>
<rect x="157.70" y="277.10" width="4.00" height="63.40" fill="#1c5595" stroke="#0e2f55" stroke-width="0.55"/>
<line x1="164.20" y1="340.00" x2="164.20" y2="337.70" stroke="#707070" stroke-width="0.6"/>
<line x1="163.10" y1="337.70" x2="165.30" y2="337.70" stroke="#444" stroke-width="0.8"/>
<rect x="162.20" y="340.00" width="4.00" height="0.50" fill="#3db84c" stroke="#1d6a27" stroke-width="0.55"/>
<line x1="177.60" y1="297.30" x2="177.60" y2="295.40" stroke="#707070" stroke-width="0.6"/>
<line x1="176.50" y1="295.40" x2="178.70" y2="295.40" stroke="#444" stroke-width="0.8"/>
<rect x="175.60" y="297.30" width="4.00" height="43.20" fill="#d4203a" stroke="#7a1020" stroke-width="0.55"/>
<line x1="181.80" y1="297.30" x2="181.80" y2="295.40" stroke="#707070" stroke-width="0.6"/>
<line x1="180.70" y1="295.40" x2="182.90" y2="295.40" stroke="#444" stroke-width="0.8"/>
<rect x="179.80" y="297.30" width="4.00" height="43.20" fill="#1c5595" stroke="#0e2f55" stroke-width="0.55"/>
<line x1="132.00" y1="316.50" x2="144.20" y2="316.50" stroke="#444" stroke-width="1.0"/>
<rect x="134.65" y="313.15" width="1.50" height="1.50" fill="#555"/>
<rect x="137.35" y="313.15" width="1.50" height="1.50" fill="#555"/>
<rect x="140.05" y="313.15" width="1.50" height="1.50" fill="#555"/>
<line x1="154.40" y1="271.50" x2="166.50" y2="271.50" stroke="#444" stroke-width="1.0"/>
<rect x="157.00" y="268.15" width="1.50" height="1.50" fill="#555"/>
<rect x="159.70" y="268.15" width="1.50" height="1.50" fill="#555"/>
<rect x="162.40" y="268.15" width="1.50" height="1.50" fill="#555"/>
<line x1="175.60" y1="292.50" x2="187.70" y2="292.50" stroke="#444" stroke-width="1.0"/>
<rect x="178.20" y="289.15" width="1.50" height="1.50" fill="#555"/>
<rect x="180.90" y="289.15" width="1.50" height="1.50" fill="#555"/>
<rect x="183.60" y="289.15" width="1.50" height="1.50" fill="#555"/>
<text x="134.00" y="350.80" font-size="7" textLength="8.50" lengthAdjust="spacingAndGlyphs">1st</text>
<text x="154.00" y="350.80" font-size="7" textLength="11.00" lengthAdjust="spacingAndGlyphs">2nd</text>
<text x="177.40" y="350.80" font-size="7" textLength="9.90" lengthAdjust="spacingAndGlyphs">3rd</text>
<rect x="136.30" y="247.30" width="2.70" height="2.70" fill="#d4203a" stroke="#7a1020" stroke-width="0.4"/>
<text x="139.80" y="251.30" font-size="7" textLength="12.20" lengthAdjust="spacingAndGlyphs">WT</text>
<rect x="136.30" y="254.20" width="2.70" height="2.70" fill="#1c5595" stroke="#0e2f55" stroke-width="0.4"/>
<text x="139.80" y="258.20" font-size="7" textLength="40.20" lengthAdjust="spacingAndGlyphs">Ythdc1 HET</text>
<rect x="136.30" y="261.60" width="2.70" height="2.70" fill="#3db84c" stroke="#1d6a27" stroke-width="0.4"/>
<text x="139.80" y="265.60" font-size="7" textLength="35.80" lengthAdjust="spacingAndGlyphs">Ythdc1 KO</text>
<text x="345.60" y="246.20" font-size="12" fill="#000" font-weight="bold">M</text>
<line x1="368.20" y1="263.60" x2="368.20" y2="340.90" stroke="#2e2e2e" stroke-width="1.1"/>
<line x1="365.20" y1="264.10" x2="368.20" y2="264.10" stroke="#2e2e2e" stroke-width="1"/>
<text x="363.20" y="266.60" font-size="7" text-anchor="end">50</text>
<line x1="365.20" y1="279.40" x2="368.20" y2="279.40" stroke="#2e2e2e" stroke-width="1"/>
<text x="363.20" y="281.90" font-size="7" text-anchor="end">40</text>
<line x1="365.20" y1="294.60" x2="368.20" y2="294.60" stroke="#2e2e2e" stroke-width="1"/>
<text x="363.20" y="297.10" font-size="7" text-anchor="end">30</text>
<line x1="365.20" y1="309.90" x2="368.20" y2="309.90" stroke="#2e2e2e" stroke-width="1"/>
<text x="363.20" y="312.40" font-size="7" text-anchor="end">20</text>
<line x1="365.20" y1="325.10" x2="368.20" y2="325.10" stroke="#2e2e2e" stroke-width="1"/>
<text x="363.20" y="327.60" font-size="7" text-anchor="end">10</text>
<line x1="365.20" y1="340.40" x2="368.20" y2="340.40" stroke="#2e2e2e" stroke-width="1"/>
<text x="363.20" y="342.90" font-size="7" text-anchor="end">0</text>
<line x1="367.70" y1="340.40" x2="433.00" y2="340.40" stroke="#2e2e2e" stroke-width="1.1"/>
<text x="351.50" y="319.20" font-size="8.7" fill="#444" textLength="33.50" lengthAdjust="spacingAndGlyphs" transform="rotate(-90 351.50 319.20)">Cell # ×10<tspan font-size="5.2" dy="-2.8">6</tspan></text>
<line x1="376.80" y1="287.50" x2="376.80" y2="274.60" stroke="#707070" stroke-width="0.6"/>
<line x1="375.70" y1="274.60" x2="377.90" y2="274.60" stroke="#444" stroke-width="0.8"/>
<rect x="374.40" y="287.50" width="4.80" height="52.90" fill="#d4203a" stroke="#7a1020" stroke-width="0.55"/>
<line x1="383.30" y1="291.30" x2="383.30" y2="268.80" stroke="#707070" stroke-width="0.6"/>
<line x1="382.20" y1="268.80" x2="384.40" y2="268.80" stroke="#444" stroke-width="0.8"/>
<rect x="380.60" y="291.30" width="5.40" height="49.10" fill="#1c5595" stroke="#0e2f55" stroke-width="0.55"/>
<line x1="407.10" y1="337.10" x2="407.10" y2="335.20" stroke="#707070" stroke-width="0.6"/>
<line x1="406.00" y1="335.20" x2="408.20" y2="335.20" stroke="#444" stroke-width="0.8"/>
<rect x="404.60" y="337.10" width="5.00" height="3.30" fill="#d4203a" stroke="#7a1020" stroke-width="0.55"/>
<line x1="413.40" y1="337.50" x2="413.40" y2="336.20" stroke="#707070" stroke-width="0.6"/>
<line x1="412.30" y1="336.20" x2="414.50" y2="336.20" stroke="#444" stroke-width="0.8"/>
<rect x="411.00" y="337.50" width="4.80" height="2.90" fill="#1c5595" stroke="#0e2f55" stroke-width="0.55"/>
<rect x="416.30" y="339.90" width="4.70" height="0.50" fill="#3db84c" stroke="#1d6a27" stroke-width="0.55"/>
<line x1="375.00" y1="255.50" x2="389.80" y2="255.50" stroke="#444" stroke-width="1.0"/>
<rect x="378.95" y="250.75" width="1.50" height="1.50" fill="#555"/>
<rect x="381.65" y="250.75" width="1.50" height="1.50" fill="#555"/>
<rect x="384.35" y="250.75" width="1.50" height="1.50" fill="#555"/>
<line x1="380.80" y1="263.50" x2="389.80" y2="263.50" stroke="#444" stroke-width="1.0"/>
<rect x="384.55" y="258.75" width="1.50" height="1.50" fill="#555"/>
<line x1="405.80" y1="322.50" x2="419.20" y2="322.50" stroke="#444" stroke-width="1.0"/>
<rect x="411.75" y="317.75" width="1.50" height="1.50" fill="#555"/>
<line x1="412.00" y1="332.50" x2="419.60" y2="332.50" stroke="#444" stroke-width="1.0"/>
<rect x="415.05" y="327.75" width="1.50" height="1.50" fill="#555"/>
<rect x="387.00" y="269.20" width="2.70" height="2.70" fill="#d4203a" stroke="#7a1020" stroke-width="0.4"/>
<text x="390.30" y="273.20" font-size="7" textLength="11.00" lengthAdjust="spacingAndGlyphs">WT</text>
<rect x="387.00" y="275.90" width="2.70" height="2.70" fill="#1c5595" stroke="#0e2f55" stroke-width="0.4"/>
<text x="390.30" y="279.90" font-size="7" textLength="39.90" lengthAdjust="spacingAndGlyphs">Ythdc1 HET</text>
<rect x="387.00" y="283.20" width="2.70" height="2.70" fill="#3db84c" stroke="#1d6a27" stroke-width="0.4"/>
<text x="390.30" y="287.20" font-size="7" textLength="36.70" lengthAdjust="spacingAndGlyphs">Ythdc1 KO</text>
<text x="376.90" y="350.20" font-size="7" textLength="12.90" lengthAdjust="spacingAndGlyphs">HPC</text>
<text x="408.50" y="350.20" font-size="7" textLength="10.70" lengthAdjust="spacingAndGlyphs">LSK</text>
<text x="445.90" y="246.10" font-size="12" fill="#000" font-weight="bold">N</text>
<text x="474.10" y="255.30" font-size="7" textLength="14.40" lengthAdjust="spacingAndGlyphs">HSC</text>
<line x1="464.30" y1="263.20" x2="464.30" y2="341.00" stroke="#2e2e2e" stroke-width="1.1"/>
<line x1="461.20" y1="263.70" x2="464.30" y2="263.70" stroke="#2e2e2e" stroke-width="1"/>
<text x="459.20" y="266.20" font-size="7" text-anchor="end">5</text>
<line x1="461.20" y1="279.00" x2="464.30" y2="279.00" stroke="#2e2e2e" stroke-width="1"/>
<text x="459.20" y="281.50" font-size="7" text-anchor="end">4</text>
<line x1="461.20" y1="294.40" x2="464.30" y2="294.40" stroke="#2e2e2e" stroke-width="1"/>
<text x="459.20" y="296.90" font-size="7" text-anchor="end">3</text>
<line x1="461.20" y1="309.80" x2="464.30" y2="309.80" stroke="#2e2e2e" stroke-width="1"/>
<text x="459.20" y="312.30" font-size="7" text-anchor="end">2</text>
<line x1="461.20" y1="325.10" x2="464.30" y2="325.10" stroke="#2e2e2e" stroke-width="1"/>
<text x="459.20" y="327.60" font-size="7" text-anchor="end">1</text>
<line x1="461.20" y1="340.50" x2="464.30" y2="340.50" stroke="#2e2e2e" stroke-width="1"/>
<text x="459.20" y="343.00" font-size="7" text-anchor="end">0</text>
<line x1="463.80" y1="340.50" x2="507.90" y2="340.50" stroke="#2e2e2e" stroke-width="1.1"/>
<text x="451.50" y="318.60" font-size="8.7" fill="#444" textLength="34.30" lengthAdjust="spacingAndGlyphs" transform="rotate(-90 451.50 318.60)">Cell # ×10<tspan font-size="5.2" dy="-2.8">3</tspan></text>
<line x1="471.55" y1="300.80" x2="471.55" y2="281.20" stroke="#707070" stroke-width="0.6"/>
<line x1="470.45" y1="281.20" x2="472.65" y2="281.20" stroke="#444" stroke-width="0.8"/>
<rect x="469.50" y="300.80" width="4.10" height="39.70" fill="#d4203a" stroke="#7a1020" stroke-width="0.55"/>
<line x1="485.75" y1="306.00" x2="485.75" y2="292.20" stroke="#707070" stroke-width="0.6"/>
<line x1="484.65" y1="292.20" x2="486.85" y2="292.20" stroke="#444" stroke-width="0.8"/>
<rect x="483.30" y="306.00" width="4.90" height="34.50" fill="#1c5595" stroke="#0e2f55" stroke-width="0.55"/>
<line x1="473.30" y1="275.50" x2="494.00" y2="275.50" stroke="#999" stroke-width="1.3"/>
<rect x="482.90" y="271.75" width="1.50" height="1.50" fill="#555"/>
<text x="474.30" y="347.50" font-size="7.3" text-anchor="end" fill="#444" textLength="9.64" lengthAdjust="spacingAndGlyphs" transform="rotate(-45 474.30 347.50)">WT</text>
<text x="488.50" y="347.50" font-size="7.3" text-anchor="end" fill="#444" textLength="33.42" lengthAdjust="spacingAndGlyphs" transform="rotate(-45 488.50 347.50)">Ythdc1 HET</text>
<text x="502.70" y="347.50" font-size="7.3" text-anchor="end" fill="#444" textLength="29.98" lengthAdjust="spacingAndGlyphs" transform="rotate(-45 502.70 347.50)">Ythdc1 KO</text>
<text x="8.50" y="392.50" font-size="12" fill="#000" font-weight="bold">O</text>
<line x1="49.50" y1="390.00" x2="49.50" y2="466.00" stroke="#2e2e2e" stroke-width="1.1"/>
<line x1="46.20" y1="390.50" x2="49.50" y2="390.50" stroke="#2e2e2e" stroke-width="1"/>
<text x="44.60" y="393.00" font-size="6.6" text-anchor="end">100</text>
<line x1="46.20" y1="405.50" x2="49.50" y2="405.50" stroke="#2e2e2e" stroke-width="1"/>
<text x="44.60" y="408.00" font-size="6.6" text-anchor="end">80</text>
<line x1="46.20" y1="420.50" x2="49.50" y2="420.50" stroke="#2e2e2e" stroke-width="1"/>
<text x="44.60" y="423.00" font-size="6.6" text-anchor="end">60</text>
<line x1="46.20" y1="435.50" x2="49.50" y2="435.50" stroke="#2e2e2e" stroke-width="1"/>
<text x="44.60" y="438.00" font-size="6.6" text-anchor="end">40</text>
<line x1="46.20" y1="450.50" x2="49.50" y2="450.50" stroke="#2e2e2e" stroke-width="1"/>
<text x="44.60" y="453.00" font-size="6.6" text-anchor="end">20</text>
<line x1="46.20" y1="465.50" x2="49.50" y2="465.50" stroke="#2e2e2e" stroke-width="1"/>
<text x="44.60" y="468.00" font-size="6.6" text-anchor="end">0</text>
<line x1="49.00" y1="465.50" x2="278.75" y2="465.50" stroke="#2e2e2e" stroke-width="1.1"/>
<text x="21.60" y="428.40" font-size="8.8" text-anchor="middle" fill="#444" textLength="37.80" lengthAdjust="spacingAndGlyphs" transform="rotate(-90 21.60 428.40)">%Donor cells</text>
<line x1="56.25" y1="434.50" x2="56.25" y2="432.00" stroke="#707070" stroke-width="0.6"/>
<line x1="55.35" y1="432.00" x2="57.15" y2="432.00" stroke="#444" stroke-width="0.8"/>
<rect x="54.10" y="434.50" width="4.30" height="31.00" fill="#d4203a" stroke="#7a1020" stroke-width="0.55"/>
<line x1="62.05" y1="428.75" x2="62.05" y2="425.00" stroke="#707070" stroke-width="0.6"/>
<line x1="61.15" y1="425.00" x2="62.95" y2="425.00" stroke="#444" stroke-width="0.8"/>
<rect x="59.90" y="428.75" width="4.30" height="36.75" fill="#1c5595" stroke="#0e2f55" stroke-width="0.55"/>
<line x1="67.85" y1="434.50" x2="67.85" y2="433.50" stroke="#707070" stroke-width="0.6"/>
<line x1="66.95" y1="433.50" x2="68.75" y2="433.50" stroke="#444" stroke-width="0.8"/>
<rect x="65.70" y="434.50" width="4.30" height="31.00" fill="#3db84c" stroke="#1d6a27" stroke-width="0.55"/>
<line x1="81.95" y1="432.00" x2="81.95" y2="427.00" stroke="#707070" stroke-width="0.6"/>
<line x1="81.05" y1="427.00" x2="82.85" y2="427.00" stroke="#444" stroke-width="0.8"/>
<rect x="79.80" y="432.00" width="4.30" height="33.50" fill="#d4203a" stroke="#7a1020" stroke-width="0.55"/>
<line x1="87.75" y1="430.75" x2="87.75" y2="429.50" stroke="#707070" stroke-width="0.6"/>
<line x1="86.85" y1="429.50" x2="88.65" y2="429.50" stroke="#444" stroke-width="0.8"/>
<rect x="85.60" y="430.75" width="4.30" height="34.75" fill="#1c5595" stroke="#0e2f55" stroke-width="0.55"/>
<line x1="93.55" y1="461.25" x2="93.55" y2="460.50" stroke="#707070" stroke-width="0.6"/>
<line x1="92.65" y1="460.50" x2="94.45" y2="460.50" stroke="#444" stroke-width="0.8"/>
<rect x="91.40" y="461.25" width="4.30" height="4.25" fill="#3db84c" stroke="#1d6a27" stroke-width="0.55"/>
<rect x="92.23" y="454.32" width="1.35" height="1.35" fill="#555"/>
<rect x="94.73" y="454.32" width="1.35" height="1.35" fill="#555"/>
<rect x="97.23" y="454.32" width="1.35" height="1.35" fill="#555"/>
<line x1="107.65" y1="430.00" x2="107.65" y2="425.00" stroke="#707070" stroke-width="0.6"/>
<line x1="106.75" y1="425.00" x2="108.55" y2="425.00" stroke="#444" stroke-width="0.8"/>
<rect x="105.50" y="430.00" width="4.30" height="35.50" fill="#d4203a" stroke="#7a1020" stroke-width="0.55"/>
<line x1="113.45" y1="429.25" x2="113.45" y2="428.75" stroke="#707070" stroke-width="0.6"/>
<line x1="112.55" y1="428.75" x2="114.35" y2="428.75" stroke="#444" stroke-width="0.8"/>
<rect x="111.30" y="429.25" width="4.30" height="36.25" fill="#1c5595" stroke="#0e2f55" stroke-width="0.55"/>
<line x1="119.25" y1="462.75" x2="119.25" y2="462.00" stroke="#707070" stroke-width="0.6"/>
<line x1="118.35" y1="462.00" x2="120.15" y2="462.00" stroke="#444" stroke-width="0.8"/>
<rect x="117.10" y="462.75" width="4.30" height="2.75" fill="#3db84c" stroke="#1d6a27" stroke-width="0.55"/>
<rect x="118.08" y="456.32" width="1.35" height="1.35" fill="#555"/>
<rect x="120.58" y="456.32" width="1.35" height="1.35" fill="#555"/>
<rect x="123.08" y="456.32" width="1.35" height="1.35" fill="#555"/>
<line x1="133.35" y1="433.25" x2="133.35" y2="425.50" stroke="#707070" stroke-width="0.6"/>
<line x1="132.45" y1="425.50" x2="134.25" y2="425.50" stroke="#444" stroke-width="0.8"/>
<rect x="131.20" y="433.25" width="4.30" height="32.25" fill="#d4203a" stroke="#7a1020" stroke-width="0.55"/>
<line x1="139.15" y1="430.00" x2="139.15" y2="429.50" stroke="#707070" stroke-width="0.6"/>
<line x1="138.25" y1="429.50" x2="140.05" y2="429.50" stroke="#444" stroke-width="0.8"/>
<rect x="137.00" y="430.00" width="4.30" height="35.50" fill="#1c5595" stroke="#0e2f55" stroke-width="0.55"/>
<line x1="144.95" y1="463.75" x2="144.95" y2="463.00" stroke="#707070" stroke-width="0.6"/>
<line x1="144.05" y1="463.00" x2="145.85" y2="463.00" stroke="#444" stroke-width="0.8"/>
<rect x="142.80" y="463.75" width="4.30" height="1.75" fill="#3db84c" stroke="#1d6a27" stroke-width="0.55"/>
<rect x="142.57" y="456.32" width="1.35" height="1.35" fill="#555"/>
<rect x="145.07" y="456.32" width="1.35" height="1.35" fill="#555"/>
<rect x="147.57" y="456.32" width="1.35" height="1.35" fill="#555"/>
<line x1="159.05" y1="423.25" x2="159.05" y2="417.00" stroke="#707070" stroke-width="0.6"/>
<line x1="158.15" y1="417.00" x2="159.95" y2="417.00" stroke="#444" stroke-width="0.8"/>
<rect x="156.90" y="423.25" width="4.30" height="42.25" fill="#d4203a" stroke="#7a1020" stroke-width="0.55"/>
<line x1="164.85" y1="422.00" x2="164.85" y2="421.50" stroke="#707070" stroke-width="0.6"/>
<line x1="163.95" y1="421.50" x2="165.75" y2="421.50" stroke="#444" stroke-width="0.8"/>
<rect x="162.70" y="422.00" width="4.30" height="43.50" fill="#1c5595" stroke="#0e2f55" stroke-width="0.55"/>
<line x1="170.65" y1="455.00" x2="170.65" y2="454.00" stroke="#707070" stroke-width="0.6"/>
<line x1="169.75" y1="454.00" x2="171.55" y2="454.00" stroke="#444" stroke-width="0.8"/>
<rect x="168.50" y="455.00" width="4.30" height="10.50" fill="#3db84c" stroke="#1d6a27" stroke-width="0.55"/>
<rect x="169.32" y="448.82" width="1.35" height="1.35" fill="#555"/>
<rect x="171.82" y="448.82" width="1.35" height="1.35" fill="#555"/>
<rect x="174.32" y="448.82" width="1.35" height="1.35" fill="#555"/>
<line x1="184.75" y1="430.75" x2="184.75" y2="417.50" stroke="#707070" stroke-width="0.6"/>
<line x1="183.85" y1="417.50" x2="185.65" y2="417.50" stroke="#444" stroke-width="0.8"/>
<rect x="182.60" y="430.75" width="4.30" height="34.75" fill="#d4203a" stroke="#7a1020" stroke-width="0.55"/>
<line x1="190.55" y1="437.00" x2="190.55" y2="434.50" stroke="#707070" stroke-width="0.6"/>
<line x1="189.65" y1="434.50" x2="191.45" y2="434.50" stroke="#444" stroke-width="0.8"/>
<rect x="188.40" y="437.00" width="4.30" height="28.50" fill="#1c5595" stroke="#0e2f55" stroke-width="0.55"/>
<rect x="194.20" y="464.80" width="4.30" height="0.70" fill="#3db84c" stroke="#1d6a27" stroke-width="0.55"/>
<rect x="193.07" y="458.07" width="1.35" height="1.35" fill="#555"/>
<rect x="195.57" y="458.07" width="1.35" height="1.35" fill="#555"/>
<rect x="198.07" y="458.07" width="1.35" height="1.35" fill="#555"/>
<line x1="210.45" y1="425.00" x2="210.45" y2="410.50" stroke="#707070" stroke-width="0.6"/>
<line x1="209.55" y1="410.50" x2="211.35" y2="410.50" stroke="#444" stroke-width="0.8"/>
<rect x="208.30" y="425.00" width="4.30" height="40.50" fill="#d4203a" stroke="#7a1020" stroke-width="0.55"/>
<line x1="216.25" y1="434.00" x2="216.25" y2="423.00" stroke="#707070" stroke-width="0.6"/>
<line x1="215.35" y1="423.00" x2="217.15" y2="423.00" stroke="#444" stroke-width="0.8"/>
<rect x="214.10" y="434.00" width="4.30" height="31.50" fill="#1c5595" stroke="#0e2f55" stroke-width="0.55"/>
<line x1="222.05" y1="459.25" x2="222.05" y2="458.50" stroke="#707070" stroke-width="0.6"/>
<line x1="221.15" y1="458.50" x2="222.95" y2="458.50" stroke="#444" stroke-width="0.8"/>
<rect x="219.90" y="459.25" width="4.30" height="6.25" fill="#3db84c" stroke="#1d6a27" stroke-width="0.55"/>
<rect x="219.32" y="453.82" width="1.35" height="1.35" fill="#555"/>
<rect x="221.82" y="453.82" width="1.35" height="1.35" fill="#555"/>
<rect x="224.32" y="453.82" width="1.35" height="1.35" fill="#555"/>
<line x1="236.15" y1="421.25" x2="236.15" y2="408.75" stroke="#707070" stroke-width="0.6"/>
<line x1="235.25" y1="408.75" x2="237.05" y2="408.75" stroke="#444" stroke-width="0.8"/>
<rect x="234.00" y="421.25" width="4.30" height="44.25" fill="#d4203a" stroke="#7a1020" stroke-width="0.55"/>
<line x1="241.95" y1="429.50" x2="241.95" y2="421.50" stroke="#707070" stroke-width="0.6"/>
<line x1="241.05" y1="421.50" x2="242.85" y2="421.50" stroke="#444" stroke-width="0.8"/>
<rect x="239.80" y="429.50" width="4.30" height="36.00" fill="#1c5595" stroke="#0e2f55" stroke-width="0.55"/>
<line x1="247.75" y1="447.00" x2="247.75" y2="445.50" stroke="#707070" stroke-width="0.6"/>
<line x1="246.85" y1="445.50" x2="248.65" y2="445.50" stroke="#444" stroke-width="0.8"/>
<rect x="245.60" y="447.00" width="4.30" height="18.50" fill="#3db84c" stroke="#1d6a27" stroke-width="0.55"/>
<rect x="244.57" y="441.82" width="1.35" height="1.35" fill="#555"/>
<rect x="247.07" y="441.82" width="1.35" height="1.35" fill="#555"/>
<line x1="261.85" y1="416.25" x2="261.85" y2="402.00" stroke="#707070" stroke-width="0.6"/>
<line x1="260.95" y1="402.00" x2="262.75" y2="402.00" stroke="#444" stroke-width="0.8"/>
<rect x="259.70" y="416.25" width="4.30" height="49.25" fill="#d4203a" stroke="#7a1020" stroke-width="0.55"/>
<line x1="267.65" y1="425.50" x2="267.65" y2="412.00" stroke="#707070" stroke-width="0.6"/>
<line x1="266.75" y1="412.00" x2="268.55" y2="412.00" stroke="#444" stroke-width="0.8"/>
<rect x="265.50" y="425.50" width="4.30" height="40.00" fill="#1c5595" stroke="#0e2f55" stroke-width="0.55"/>
<line x1="273.45" y1="450.50" x2="273.45" y2="449.25" stroke="#707070" stroke-width="0.6"/>
<line x1="272.55" y1="449.25" x2="274.35" y2="449.25" stroke="#444" stroke-width="0.8"/>
<rect x="271.30" y="450.50" width="4.30" height="15.00" fill="#3db84c" stroke="#1d6a27" stroke-width="0.55"/>
<rect x="270.93" y="444.32" width="1.35" height="1.35" fill="#555"/>
<rect x="273.43" y="444.32" width="1.35" height="1.35" fill="#555"/>
<rect x="275.93" y="444.32" width="1.35" height="1.35" fill="#555"/>
<text x="50.00" y="475.20" font-size="6.8" textLength="24.50" lengthAdjust="spacingAndGlyphs">No pIpC</text>
<text x="83.25" y="475.20" font-size="6.8" textLength="8.75" lengthAdjust="spacingAndGlyphs">1M</text>
<text x="108.75" y="475.20" font-size="6.8" textLength="8.75" lengthAdjust="spacingAndGlyphs">2M</text>
<text x="134.50" y="475.20" font-size="6.8" textLength="9.25" lengthAdjust="spacingAndGlyphs">3M</text>
<text x="160.00" y="475.20" font-size="6.8" textLength="9.50" lengthAdjust="spacingAndGlyphs">4M</text>
<text x="185.50" y="475.20" font-size="6.8" textLength="8.75" lengthAdjust="spacingAndGlyphs">1M</text>
<text x="210.50" y="475.20" font-size="6.8" textLength="9.50" lengthAdjust="spacingAndGlyphs">2M</text>
<text x="237.00" y="475.20" font-size="6.8" textLength="9.25" lengthAdjust="spacingAndGlyphs">3M</text>
<text x="262.50" y="475.20" font-size="6.8" textLength="8.75" lengthAdjust="spacingAndGlyphs">4M</text>
<line x1="50.50" y1="479.10" x2="172.50" y2="479.10" stroke="#909090" stroke-width="1.3"/>
<line x1="182.00" y1="479.10" x2="272.00" y2="479.10" stroke="#909090" stroke-width="1.3"/>
<text x="102.00" y="488.50" font-size="7.6" textLength="29.25" lengthAdjust="spacingAndGlyphs">1’ Round</text>
<text x="212.00" y="488.50" font-size="7.6" textLength="30.00" lengthAdjust="spacingAndGlyphs">2’ Round</text>
<rect x="109.50" y="389.00" width="3.00" height="3.00" fill="#d4203a" stroke="#7a1020" stroke-width="0.4"/>
<text x="113.10" y="393.20" font-size="7.2" textLength="11.90" lengthAdjust="spacingAndGlyphs">WT</text>
<rect x="147.00" y="389.00" width="3.00" height="3.00" fill="#1c5595" stroke="#0e2f55" stroke-width="0.4"/>
<text x="150.60" y="393.20" font-size="7.2" textLength="14.90" lengthAdjust="spacingAndGlyphs">HET</text>
<rect x="188.75" y="389.00" width="3.00" height="3.00" fill="#3db84c" stroke="#1d6a27" stroke-width="0.4"/>
<text x="192.35" y="393.20" font-size="7.2" textLength="11.40" lengthAdjust="spacingAndGlyphs">KO</text>
<text x="306.25" y="393.00" font-size="12" fill="#000" font-weight="bold">P</text>
<line x1="338.70" y1="390.00" x2="338.70" y2="466.00" stroke="#2e2e2e" stroke-width="1.1"/>
<line x1="335.60" y1="390.50" x2="338.70" y2="390.50" stroke="#2e2e2e" stroke-width="1"/>
<text x="334.10" y="393.00" font-size="6.6" text-anchor="end">120</text>
<line x1="335.60" y1="409.25" x2="338.70" y2="409.25" stroke="#2e2e2e" stroke-width="1"/>
<text x="334.10" y="411.75" font-size="6.6" text-anchor="end">90</text>
<line x1="335.60" y1="428.00" x2="338.70" y2="428.00" stroke="#2e2e2e" stroke-width="1"/>
<text x="334.10" y="430.50" font-size="6.6" text-anchor="end">60</text>
<line x1="335.60" y1="446.75" x2="338.70" y2="446.75" stroke="#2e2e2e" stroke-width="1"/>
<text x="334.10" y="449.25" font-size="6.6" text-anchor="end">30</text>
<line x1="335.60" y1="465.50" x2="338.70" y2="465.50" stroke="#2e2e2e" stroke-width="1"/>
<text x="334.10" y="468.00" font-size="6.6" text-anchor="end">0</text>
<line x1="338.20" y1="465.50" x2="486.50" y2="465.50" stroke="#2e2e2e" stroke-width="1.1"/>
<text x="319.40" y="428.40" font-size="8.8" text-anchor="middle" fill="#444" textLength="37.80" lengthAdjust="spacingAndGlyphs" transform="rotate(-90 319.40 428.40)">%Donor cells</text>
<line x1="345.60" y1="426.25" x2="345.60" y2="420.00" stroke="#707070" stroke-width="0.6"/>
<line x1="344.70" y1="420.00" x2="346.50" y2="420.00" stroke="#444" stroke-width="0.8"/>
<rect x="343.50" y="426.25" width="4.20" height="39.25" fill="#d4203a" stroke="#7a1020" stroke-width="0.55"/>
<line x1="351.10" y1="428.00" x2="351.10" y2="425.50" stroke="#707070" stroke-width="0.6"/>
<line x1="350.20" y1="425.50" x2="352.00" y2="425.50" stroke="#444" stroke-width="0.8"/>
<rect x="349.00" y="428.00" width="4.20" height="37.50" fill="#1c5595" stroke="#0e2f55" stroke-width="0.55"/>
<line x1="356.60" y1="457.00" x2="356.60" y2="456.00" stroke="#707070" stroke-width="0.6"/>
<line x1="355.70" y1="456.00" x2="357.50" y2="456.00" stroke="#444" stroke-width="0.8"/>
<rect x="354.50" y="457.00" width="4.20" height="8.50" fill="#3db84c" stroke="#1d6a27" stroke-width="0.55"/>
<rect x="354.72" y="450.57" width="1.35" height="1.35" fill="#555"/>
<rect x="357.22" y="450.57" width="1.35" height="1.35" fill="#555"/>
<rect x="359.72" y="450.57" width="1.35" height="1.35" fill="#555"/>
<line x1="370.30" y1="434.25" x2="370.30" y2="427.00" stroke="#707070" stroke-width="0.6"/>
<line x1="369.40" y1="427.00" x2="371.20" y2="427.00" stroke="#444" stroke-width="0.8"/>
<rect x="368.20" y="434.25" width="4.20" height="31.25" fill="#d4203a" stroke="#7a1020" stroke-width="0.55"/>
<line x1="375.80" y1="433.75" x2="375.80" y2="432.50" stroke="#707070" stroke-width="0.6"/>
<line x1="374.90" y1="432.50" x2="376.70" y2="432.50" stroke="#444" stroke-width="0.8"/>
<rect x="373.70" y="433.75" width="4.20" height="31.75" fill="#1c5595" stroke="#0e2f55" stroke-width="0.55"/>
<rect x="379.20" y="464.50" width="4.20" height="1.00" fill="#3db84c" stroke="#1d6a27" stroke-width="0.55"/>
<rect x="378.93" y="458.82" width="1.35" height="1.35" fill="#555"/>
<rect x="381.43" y="458.82" width="1.35" height="1.35" fill="#555"/>
<rect x="383.93" y="458.82" width="1.35" height="1.35" fill="#555"/>
<line x1="395.00" y1="436.25" x2="395.00" y2="430.50" stroke="#707070" stroke-width="0.6"/>
<line x1="394.10" y1="430.50" x2="395.90" y2="430.50" stroke="#444" stroke-width="0.8"/>
<rect x="392.90" y="436.25" width="4.20" height="29.25" fill="#d4203a" stroke="#7a1020" stroke-width="0.55"/>
<line x1="400.50" y1="432.00" x2="400.50" y2="430.50" stroke="#707070" stroke-width="0.6"/>
<line x1="399.60" y1="430.50" x2="401.40" y2="430.50" stroke="#444" stroke-width="0.8"/>
<rect x="398.40" y="432.00" width="4.20" height="33.50" fill="#1c5595" stroke="#0e2f55" stroke-width="0.55"/>
<line x1="406.00" y1="458.75" x2="406.00" y2="457.00" stroke="#707070" stroke-width="0.6"/>
<line x1="405.10" y1="457.00" x2="406.90" y2="457.00" stroke="#444" stroke-width="0.8"/>
<rect x="403.90" y="458.75" width="4.20" height="6.75" fill="#3db84c" stroke="#1d6a27" stroke-width="0.55"/>
<rect x="404.72" y="451.07" width="1.35" height="1.35" fill="#555"/>
<rect x="407.22" y="451.07" width="1.35" height="1.35" fill="#555"/>
<rect x="409.72" y="451.07" width="1.35" height="1.35" fill="#555"/>
<line x1="419.70" y1="413.00" x2="419.70" y2="401.75" stroke="#707070" stroke-width="0.6"/>
<line x1="418.80" y1="401.75" x2="420.60" y2="401.75" stroke="#444" stroke-width="0.8"/>
<rect x="417.60" y="413.00" width="4.20" height="52.50" fill="#d4203a" stroke="#7a1020" stroke-width="0.55"/>
<line x1="425.20" y1="417.50" x2="425.20" y2="394.50" stroke="#707070" stroke-width="0.6"/>
<line x1="424.30" y1="394.50" x2="426.10" y2="394.50" stroke="#444" stroke-width="0.8"/>
<rect x="423.10" y="417.50" width="4.20" height="48.00" fill="#1c5595" stroke="#0e2f55" stroke-width="0.55"/>
<line x1="430.70" y1="457.00" x2="430.70" y2="456.00" stroke="#707070" stroke-width="0.6"/>
<line x1="429.80" y1="456.00" x2="431.60" y2="456.00" stroke="#444" stroke-width="0.8"/>
<rect x="428.60" y="457.00" width="4.20" height="8.50" fill="#3db84c" stroke="#1d6a27" stroke-width="0.55"/>
<rect x="429.72" y="451.82" width="1.35" height="1.35" fill="#555"/>
<rect x="432.22" y="451.82" width="1.35" height="1.35" fill="#555"/>
<rect x="434.72" y="451.82" width="1.35" height="1.35" fill="#555"/>
<line x1="444.40" y1="441.75" x2="444.40" y2="420.00" stroke="#707070" stroke-width="0.6"/>
<line x1="443.50" y1="420.00" x2="445.30" y2="420.00" stroke="#444" stroke-width="0.8"/>
<rect x="442.30" y="441.75" width="4.20" height="23.75" fill="#d4203a" stroke="#7a1020" stroke-width="0.55"/>
<line x1="449.90" y1="433.75" x2="449.90" y2="413.00" stroke="#707070" stroke-width="0.6"/>
<line x1="449.00" y1="413.00" x2="450.80" y2="413.00" stroke="#444" stroke-width="0.8"/>
<rect x="447.80" y="433.75" width="4.20" height="31.75" fill="#1c5595" stroke="#0e2f55" stroke-width="0.55"/>
<line x1="455.40" y1="454.50" x2="455.40" y2="453.50" stroke="#707070" stroke-width="0.6"/>
<line x1="454.50" y1="453.50" x2="456.30" y2="453.50" stroke="#444" stroke-width="0.8"/>
<rect x="453.30" y="454.50" width="4.20" height="11.00" fill="#3db84c" stroke="#1d6a27" stroke-width="0.55"/>
<rect x="454.32" y="449.82" width="1.35" height="1.35" fill="#555"/>
<rect x="456.82" y="449.82" width="1.35" height="1.35" fill="#555"/>
<line x1="469.10" y1="439.60" x2="469.10" y2="428.00" stroke="#707070" stroke-width="0.6"/>
<line x1="468.20" y1="428.00" x2="470.00" y2="428.00" stroke="#444" stroke-width="0.8"/>
<rect x="467.00" y="439.60" width="4.20" height="25.90" fill="#d4203a" stroke="#7a1020" stroke-width="0.55"/>
<line x1="474.60" y1="443.00" x2="474.60" y2="435.10" stroke="#707070" stroke-width="0.6"/>
<line x1="473.70" y1="435.10" x2="475.50" y2="435.10" stroke="#444" stroke-width="0.8"/>
<rect x="472.50" y="443.00" width="4.20" height="22.50" fill="#1c5595" stroke="#0e2f55" stroke-width="0.55"/>
<line x1="480.10" y1="457.70" x2="480.10" y2="456.70" stroke="#707070" stroke-width="0.6"/>
<line x1="479.20" y1="456.70" x2="481.00" y2="456.70" stroke="#444" stroke-width="0.8"/>
<rect x="478.00" y="457.70" width="4.20" height="7.80" fill="#3db84c" stroke="#1d6a27" stroke-width="0.55"/>
<rect x="477.82" y="452.02" width="1.35" height="1.35" fill="#555"/>
<rect x="480.32" y="452.02" width="1.35" height="1.35" fill="#555"/>
<rect x="482.82" y="452.02" width="1.35" height="1.35" fill="#555"/>
<text x="338.75" y="475.20" font-size="6.8" textLength="22.50" lengthAdjust="spacingAndGlyphs">Myeloid</text>
<text x="367.50" y="475.20" font-size="6.8" textLength="15.50" lengthAdjust="spacingAndGlyphs">B cell</text>
<text x="393.75" y="475.20" font-size="6.8" textLength="13.75" lengthAdjust="spacingAndGlyphs">T cell</text>
<text x="413.00" y="475.20" font-size="6.8" textLength="22.75" lengthAdjust="spacingAndGlyphs">Myeloid</text>
<text x="442.00" y="475.20" font-size="6.8" textLength="15.50" lengthAdjust="spacingAndGlyphs">B cell</text>
<text x="467.40" y="475.20" font-size="6.8" textLength="14.10" lengthAdjust="spacingAndGlyphs">T cell</text>
<line x1="338.00" y1="479.10" x2="408.00" y2="479.10" stroke="#909090" stroke-width="1.3"/>
<line x1="415.00" y1="479.10" x2="486.10" y2="479.10" stroke="#909090" stroke-width="1.3"/>
<text x="363.75" y="487.60" font-size="7.6" textLength="28.75" lengthAdjust="spacingAndGlyphs">1’ Round</text>
<text x="440.20" y="487.60" font-size="7.6" textLength="29.80" lengthAdjust="spacingAndGlyphs">2’ Round</text>
<rect x="373.25" y="389.00" width="3.00" height="3.00" fill="#d4203a" stroke="#7a1020" stroke-width="0.4"/>
<text x="376.85" y="393.20" font-size="7.2" textLength="11.90" lengthAdjust="spacingAndGlyphs">WT</text>
<rect x="410.50" y="389.00" width="3.00" height="3.00" fill="#1c5595" stroke="#0e2f55" stroke-width="0.4"/>
<text x="414.10" y="393.20" font-size="7.2" textLength="14.65" lengthAdjust="spacingAndGlyphs">HET</text>
<rect x="441.25" y="389.00" width="3.00" height="3.00" fill="#3db84c" stroke="#1d6a27" stroke-width="0.4"/>
<text x="444.85" y="393.20" font-size="7.2" textLength="12.15" lengthAdjust="spacingAndGlyphs">KO</text>
<text x="7.40" y="491.50" font-size="12" fill="#000" font-weight="bold">Q</text>
<line x1="28.50" y1="504.50" x2="28.50" y2="587.50" stroke="#2e2e2e" stroke-width="1.1"/>
<line x1="25.30" y1="505.00" x2="28.50" y2="505.00" stroke="#2e2e2e" stroke-width="1"/>
<text x="23.90" y="507.50" font-size="6.6" text-anchor="end">120</text>
<line x1="25.30" y1="532.30" x2="28.50" y2="532.30" stroke="#2e2e2e" stroke-width="1"/>
<text x="23.90" y="534.80" font-size="6.6" text-anchor="end">80</text>
<line x1="25.30" y1="559.70" x2="28.50" y2="559.70" stroke="#2e2e2e" stroke-width="1"/>
<text x="23.90" y="562.20" font-size="6.6" text-anchor="end">40</text>
<line x1="25.30" y1="587.00" x2="28.50" y2="587.00" stroke="#2e2e2e" stroke-width="1"/>
<text x="23.90" y="589.50" font-size="6.6" text-anchor="end">0</text>
<line x1="28.00" y1="587.00" x2="513.50" y2="587.00" stroke="#2e2e2e" stroke-width="1.1"/>
<text x="14.90" y="546.70" font-size="8.8" text-anchor="middle" fill="#444" textLength="37.80" lengthAdjust="spacingAndGlyphs" transform="rotate(-90 14.90 546.70)">%Donor cells</text>
<line x1="33.65" y1="555.50" x2="33.65" y2="548.75" stroke="#707070" stroke-width="0.6"/>
<line x1="32.75" y1="548.75" x2="34.55" y2="548.75" stroke="#444" stroke-width="0.8"/>
<rect x="32.00" y="555.50" width="3.30" height="31.50" fill="#d4203a" stroke="#7a1020" stroke-width="0.55"/>
<line x1="37.95" y1="560.00" x2="37.95" y2="557.50" stroke="#707070" stroke-width="0.6"/>
<line x1="37.05" y1="557.50" x2="38.85" y2="557.50" stroke="#444" stroke-width="0.8"/>
<rect x="36.30" y="560.00" width="3.30" height="27.00" fill="#1c5595" stroke="#0e2f55" stroke-width="0.55"/>
<line x1="42.25" y1="571.75" x2="42.25" y2="567.00" stroke="#707070" stroke-width="0.6"/>
<line x1="41.35" y1="567.00" x2="43.15" y2="567.00" stroke="#444" stroke-width="0.8"/>
<rect x="40.60" y="571.75" width="3.30" height="15.25" fill="#3db84c" stroke="#1d6a27" stroke-width="0.55"/>
<rect x="40.68" y="563.08" width="1.35" height="1.35" fill="#555"/>
<rect x="43.18" y="563.08" width="1.35" height="1.35" fill="#555"/>
<text x="39.20" y="594.20" font-size="7.3" text-anchor="end" fill="#444" textLength="21.94" lengthAdjust="spacingAndGlyphs" transform="rotate(-45 39.20 594.20)">LT-HSC</text>
<line x1="52.28" y1="563.75" x2="52.28" y2="557.00" stroke="#707070" stroke-width="0.6"/>
<line x1="51.38" y1="557.00" x2="53.18" y2="557.00" stroke="#444" stroke-width="0.8"/>
<rect x="50.63" y="563.75" width="3.30" height="23.25" fill="#d4203a" stroke="#7a1020" stroke-width="0.55"/>
<line x1="56.58" y1="565.50" x2="56.58" y2="558.00" stroke="#707070" stroke-width="0.6"/>
<line x1="55.68" y1="558.00" x2="57.48" y2="558.00" stroke="#444" stroke-width="0.8"/>
<rect x="54.93" y="565.50" width="3.30" height="21.50" fill="#1c5595" stroke="#0e2f55" stroke-width="0.55"/>
<line x1="60.88" y1="577.00" x2="60.88" y2="576.00" stroke="#707070" stroke-width="0.6"/>
<line x1="59.98" y1="576.00" x2="61.78" y2="576.00" stroke="#444" stroke-width="0.8"/>
<rect x="59.23" y="577.00" width="3.30" height="10.00" fill="#3db84c" stroke="#1d6a27" stroke-width="0.55"/>
<rect x="59.30" y="571.33" width="1.35" height="1.35" fill="#555"/>
<rect x="61.80" y="571.33" width="1.35" height="1.35" fill="#555"/>
<text x="57.83" y="594.20" font-size="7.3" text-anchor="end" fill="#444" textLength="23.10" lengthAdjust="spacingAndGlyphs" transform="rotate(-45 57.83 594.20)">ST-HSC</text>
<line x1="70.91" y1="558.75" x2="70.91" y2="552.00" stroke="#707070" stroke-width="0.6"/>
<line x1="70.01" y1="552.00" x2="71.81" y2="552.00" stroke="#444" stroke-width="0.8"/>
<rect x="69.26" y="558.75" width="3.30" height="28.25" fill="#d4203a" stroke="#7a1020" stroke-width="0.55"/>
<line x1="75.21" y1="560.75" x2="75.21" y2="554.50" stroke="#707070" stroke-width="0.6"/>
<line x1="74.31" y1="554.50" x2="76.11" y2="554.50" stroke="#444" stroke-width="0.8"/>
<rect x="73.56" y="560.75" width="3.30" height="26.25" fill="#1c5595" stroke="#0e2f55" stroke-width="0.55"/>
<line x1="79.51" y1="575.50" x2="79.51" y2="574.00" stroke="#707070" stroke-width="0.6"/>
<line x1="78.61" y1="574.00" x2="80.41" y2="574.00" stroke="#444" stroke-width="0.8"/>
<rect x="77.86" y="575.50" width="3.30" height="11.50" fill="#3db84c" stroke="#1d6a27" stroke-width="0.55"/>
<rect x="77.93" y="569.83" width="1.35" height="1.35" fill="#555"/>
<rect x="80.43" y="569.83" width="1.35" height="1.35" fill="#555"/>
<text x="76.46" y="594.20" font-size="7.3" text-anchor="end" fill="#444" textLength="11.91" lengthAdjust="spacingAndGlyphs" transform="rotate(-45 76.46 594.20)">LSK</text>
<line x1="89.54" y1="562.50" x2="89.54" y2="557.00" stroke="#707070" stroke-width="0.6"/>
<line x1="88.64" y1="557.00" x2="90.44" y2="557.00" stroke="#444" stroke-width="0.8"/>
<rect x="87.89" y="562.50" width="3.30" height="24.50" fill="#d4203a" stroke="#7a1020" stroke-width="0.55"/>
<line x1="93.84" y1="565.00" x2="93.84" y2="558.00" stroke="#707070" stroke-width="0.6"/>
<line x1="92.94" y1="558.00" x2="94.74" y2="558.00" stroke="#444" stroke-width="0.8"/>
<rect x="92.19" y="565.00" width="3.30" height="22.00" fill="#1c5595" stroke="#0e2f55" stroke-width="0.55"/>
<line x1="98.14" y1="579.50" x2="98.14" y2="578.50" stroke="#707070" stroke-width="0.6"/>
<line x1="97.24" y1="578.50" x2="99.04" y2="578.50" stroke="#444" stroke-width="0.8"/>
<rect x="96.49" y="579.50" width="3.30" height="7.50" fill="#3db84c" stroke="#1d6a27" stroke-width="0.55"/>
<rect x="97.06" y="574.83" width="1.35" height="1.35" fill="#555"/>
<rect x="99.56" y="574.83" width="1.35" height="1.35" fill="#555"/>
<rect x="102.06" y="574.83" width="1.35" height="1.35" fill="#555"/>
<text x="95.09" y="594.20" font-size="7.3" text-anchor="end" fill="#444" textLength="13.30" lengthAdjust="spacingAndGlyphs" transform="rotate(-45 95.09 594.20)">HPC</text>
<line x1="108.17" y1="554.50" x2="108.17" y2="546.25" stroke="#707070" stroke-width="0.6"/>
<line x1="107.27" y1="546.25" x2="109.07" y2="546.25" stroke="#444" stroke-width="0.8"/>
<rect x="106.52" y="554.50" width="3.30" height="32.50" fill="#d4203a" stroke="#7a1020" stroke-width="0.55"/>
<line x1="112.47" y1="561.25" x2="112.47" y2="551.25" stroke="#707070" stroke-width="0.6"/>
<line x1="111.57" y1="551.25" x2="113.37" y2="551.25" stroke="#444" stroke-width="0.8"/>
<rect x="110.82" y="561.25" width="3.30" height="25.75" fill="#1c5595" stroke="#0e2f55" stroke-width="0.55"/>
<line x1="116.77" y1="585.50" x2="116.77" y2="585.00" stroke="#707070" stroke-width="0.6"/>
<line x1="115.87" y1="585.00" x2="117.67" y2="585.00" stroke="#444" stroke-width="0.8"/>
<rect x="115.12" y="585.50" width="3.30" height="1.50" fill="#3db84c" stroke="#1d6a27" stroke-width="0.55"/>
<rect x="115.69" y="580.08" width="1.35" height="1.35" fill="#555"/>
<rect x="118.19" y="580.08" width="1.35" height="1.35" fill="#555"/>
<rect x="120.69" y="580.08" width="1.35" height="1.35" fill="#555"/>
<text x="113.72" y="594.20" font-size="7.3" text-anchor="end" fill="#444" textLength="14.00" lengthAdjust="spacingAndGlyphs" transform="rotate(-45 113.72 594.20)">CMP</text>
<line x1="126.80" y1="548.25" x2="126.80" y2="539.50" stroke="#707070" stroke-width="0.6"/>
<line x1="125.90" y1="539.50" x2="127.70" y2="539.50" stroke="#444" stroke-width="0.8"/>
<rect x="125.15" y="548.25" width="3.30" height="38.75" fill="#d4203a" stroke="#7a1020" stroke-width="0.55"/>
<line x1="131.10" y1="552.00" x2="131.10" y2="540.50" stroke="#707070" stroke-width="0.6"/>
<line x1="130.20" y1="540.50" x2="132.00" y2="540.50" stroke="#444" stroke-width="0.8"/>
<rect x="129.45" y="552.00" width="3.30" height="35.00" fill="#1c5595" stroke="#0e2f55" stroke-width="0.55"/>
<line x1="135.40" y1="585.75" x2="135.40" y2="585.00" stroke="#707070" stroke-width="0.6"/>
<line x1="134.50" y1="585.00" x2="136.30" y2="585.00" stroke="#444" stroke-width="0.8"/>
<rect x="133.75" y="585.75" width="3.30" height="1.25" fill="#3db84c" stroke="#1d6a27" stroke-width="0.55"/>
<rect x="134.32" y="579.33" width="1.35" height="1.35" fill="#555"/>
<rect x="136.82" y="579.33" width="1.35" height="1.35" fill="#555"/>
<rect x="139.32" y="579.33" width="1.35" height="1.35" fill="#555"/>
<text x="132.35" y="594.20" font-size="7.3" text-anchor="end" fill="#444" textLength="14.35" lengthAdjust="spacingAndGlyphs" transform="rotate(-45 132.35 594.20)">GMP</text>
<line x1="145.43" y1="562.50" x2="145.43" y2="556.25" stroke="#707070" stroke-width="0.6"/>
<line x1="144.53" y1="556.25" x2="146.33" y2="556.25" stroke="#444" stroke-width="0.8"/>
<rect x="143.78" y="562.50" width="3.30" height="24.50" fill="#d4203a" stroke="#7a1020" stroke-width="0.55"/>
<line x1="149.73" y1="569.25" x2="149.73" y2="560.50" stroke="#707070" stroke-width="0.6"/>
<line x1="148.83" y1="560.50" x2="150.63" y2="560.50" stroke="#444" stroke-width="0.8"/>
<rect x="148.08" y="569.25" width="3.30" height="17.75" fill="#1c5595" stroke="#0e2f55" stroke-width="0.55"/>
<line x1="154.03" y1="585.50" x2="154.03" y2="585.00" stroke="#707070" stroke-width="0.6"/>
<line x1="153.13" y1="585.00" x2="154.93" y2="585.00" stroke="#444" stroke-width="0.8"/>
<rect x="152.38" y="585.50" width="3.30" height="1.50" fill="#3db84c" stroke="#1d6a27" stroke-width="0.55"/>
<rect x="152.95" y="579.33" width="1.35" height="1.35" fill="#555"/>
<rect x="155.45" y="579.33" width="1.35" height="1.35" fill="#555"/>
<rect x="157.95" y="579.33" width="1.35" height="1.35" fill="#555"/>
<text x="150.98" y="594.20" font-size="7.3" text-anchor="end" fill="#444" textLength="13.65" lengthAdjust="spacingAndGlyphs" transform="rotate(-45 150.98 594.20)">MEP</text>
<line x1="164.06" y1="558.00" x2="164.06" y2="553.00" stroke="#707070" stroke-width="0.6"/>
<line x1="163.16" y1="553.00" x2="164.96" y2="553.00" stroke="#444" stroke-width="0.8"/>
<rect x="162.41" y="558.00" width="3.30" height="29.00" fill="#d4203a" stroke="#7a1020" stroke-width="0.55"/>
<line x1="168.36" y1="560.75" x2="168.36" y2="553.00" stroke="#707070" stroke-width="0.6"/>
<line x1="167.46" y1="553.00" x2="169.26" y2="553.00" stroke="#444" stroke-width="0.8"/>
<rect x="166.71" y="560.75" width="3.30" height="26.25" fill="#1c5595" stroke="#0e2f55" stroke-width="0.55"/>
<line x1="172.66" y1="580.00" x2="172.66" y2="579.00" stroke="#707070" stroke-width="0.6"/>
<line x1="171.76" y1="579.00" x2="173.56" y2="579.00" stroke="#444" stroke-width="0.8"/>
<rect x="171.01" y="580.00" width="3.30" height="7.00" fill="#3db84c" stroke="#1d6a27" stroke-width="0.55"/>
<rect x="171.58" y="574.33" width="1.35" height="1.35" fill="#555"/>
<rect x="174.08" y="574.33" width="1.35" height="1.35" fill="#555"/>
<rect x="176.58" y="574.33" width="1.35" height="1.35" fill="#555"/>
<text x="169.61" y="594.20" font-size="7.3" text-anchor="end" fill="#444" textLength="10.50" lengthAdjust="spacingAndGlyphs" transform="rotate(-45 169.61 594.20)">Lin-</text>
<line x1="182.69" y1="562.00" x2="182.69" y2="556.25" stroke="#707070" stroke-width="0.6"/>
<line x1="181.79" y1="556.25" x2="183.59" y2="556.25" stroke="#444" stroke-width="0.8"/>
<rect x="181.04" y="562.00" width="3.30" height="25.00" fill="#d4203a" stroke="#7a1020" stroke-width="0.55"/>
<line x1="186.99" y1="560.50" x2="186.99" y2="557.00" stroke="#707070" stroke-width="0.6"/>
<line x1="186.09" y1="557.00" x2="187.89" y2="557.00" stroke="#444" stroke-width="0.8"/>
<rect x="185.34" y="560.50" width="3.30" height="26.50" fill="#1c5595" stroke="#0e2f55" stroke-width="0.55"/>
<line x1="191.29" y1="578.00" x2="191.29" y2="577.00" stroke="#707070" stroke-width="0.6"/>
<line x1="190.39" y1="577.00" x2="192.19" y2="577.00" stroke="#444" stroke-width="0.8"/>
<rect x="189.64" y="578.00" width="3.30" height="9.00" fill="#3db84c" stroke="#1d6a27" stroke-width="0.55"/>
<rect x="190.21" y="573.08" width="1.35" height="1.35" fill="#555"/>
<rect x="192.71" y="573.08" width="1.35" height="1.35" fill="#555"/>
<rect x="195.21" y="573.08" width="1.35" height="1.35" fill="#555"/>
<text x="188.24" y="594.20" font-size="7.3" text-anchor="end" fill="#444" textLength="12.09" lengthAdjust="spacingAndGlyphs" transform="rotate(-45 188.24 594.20)">Lin+</text>
<line x1="201.32" y1="569.00" x2="201.32" y2="565.50" stroke="#707070" stroke-width="0.6"/>
<line x1="200.42" y1="565.50" x2="202.22" y2="565.50" stroke="#444" stroke-width="0.8"/>
<rect x="199.67" y="569.00" width="3.30" height="18.00" fill="#d4203a" stroke="#7a1020" stroke-width="0.55"/>
<line x1="205.62" y1="569.00" x2="205.62" y2="565.00" stroke="#707070" stroke-width="0.6"/>
<line x1="204.72" y1="565.00" x2="206.52" y2="565.00" stroke="#444" stroke-width="0.8"/>
<rect x="203.97" y="569.00" width="3.30" height="18.00" fill="#1c5595" stroke="#0e2f55" stroke-width="0.55"/>
<line x1="209.92" y1="582.00" x2="209.92" y2="581.00" stroke="#707070" stroke-width="0.6"/>
<line x1="209.02" y1="581.00" x2="210.82" y2="581.00" stroke="#444" stroke-width="0.8"/>
<rect x="208.27" y="582.00" width="3.30" height="5.00" fill="#3db84c" stroke="#1d6a27" stroke-width="0.55"/>
<rect x="208.84" y="576.83" width="1.35" height="1.35" fill="#555"/>
<rect x="211.34" y="576.83" width="1.35" height="1.35" fill="#555"/>
<rect x="213.84" y="576.83" width="1.35" height="1.35" fill="#555"/>
<text x="206.87" y="594.20" font-size="7.3" text-anchor="end" fill="#444" textLength="27.31" lengthAdjust="spacingAndGlyphs" transform="rotate(-45 206.87 594.20)">Monocyte</text>
<line x1="219.95" y1="548.25" x2="219.95" y2="541.25" stroke="#707070" stroke-width="0.6"/>
<line x1="219.05" y1="541.25" x2="220.85" y2="541.25" stroke="#444" stroke-width="0.8"/>
<rect x="218.30" y="548.25" width="3.30" height="38.75" fill="#d4203a" stroke="#7a1020" stroke-width="0.55"/>
<line x1="224.25" y1="550.75" x2="224.25" y2="545.00" stroke="#707070" stroke-width="0.6"/>
<line x1="223.35" y1="545.00" x2="225.15" y2="545.00" stroke="#444" stroke-width="0.8"/>
<rect x="222.60" y="550.75" width="3.30" height="36.25" fill="#1c5595" stroke="#0e2f55" stroke-width="0.55"/>
<line x1="228.55" y1="583.25" x2="228.55" y2="582.50" stroke="#707070" stroke-width="0.6"/>
<line x1="227.65" y1="582.50" x2="229.45" y2="582.50" stroke="#444" stroke-width="0.8"/>
<rect x="226.90" y="583.25" width="3.30" height="3.75" fill="#3db84c" stroke="#1d6a27" stroke-width="0.55"/>
<rect x="227.47" y="578.58" width="1.35" height="1.35" fill="#555"/>
<rect x="229.97" y="578.58" width="1.35" height="1.35" fill="#555"/>
<rect x="232.47" y="578.58" width="1.35" height="1.35" fill="#555"/>
<text x="225.50" y="594.20" font-size="7.3" text-anchor="end" fill="#444" textLength="21.71" lengthAdjust="spacingAndGlyphs" transform="rotate(-45 225.50 594.20)">Myeloid</text>
<line x1="238.58" y1="558.75" x2="238.58" y2="552.50" stroke="#707070" stroke-width="0.6"/>
<line x1="237.68" y1="552.50" x2="239.48" y2="552.50" stroke="#444" stroke-width="0.8"/>
<rect x="236.93" y="558.75" width="3.30" height="28.25" fill="#d4203a" stroke="#7a1020" stroke-width="0.55"/>
<line x1="242.88" y1="557.00" x2="242.88" y2="555.00" stroke="#707070" stroke-width="0.6"/>
<line x1="241.98" y1="555.00" x2="243.78" y2="555.00" stroke="#444" stroke-width="0.8"/>
<rect x="241.23" y="557.00" width="3.30" height="30.00" fill="#1c5595" stroke="#0e2f55" stroke-width="0.55"/>
<line x1="247.18" y1="583.75" x2="247.18" y2="583.00" stroke="#707070" stroke-width="0.6"/>
<line x1="246.28" y1="583.00" x2="248.08" y2="583.00" stroke="#444" stroke-width="0.8"/>
<rect x="245.53" y="583.75" width="3.30" height="3.25" fill="#3db84c" stroke="#1d6a27" stroke-width="0.55"/>
<rect x="246.10" y="576.33" width="1.35" height="1.35" fill="#555"/>
<rect x="248.60" y="576.33" width="1.35" height="1.35" fill="#555"/>
<rect x="251.10" y="576.33" width="1.35" height="1.35" fill="#555"/>
<text x="244.13" y="594.20" font-size="7.3" text-anchor="end" fill="#444" textLength="15.41" lengthAdjust="spacingAndGlyphs" transform="rotate(-45 244.13 594.20)">B cell</text>
<line x1="257.21" y1="553.75" x2="257.21" y2="548.00" stroke="#707070" stroke-width="0.6"/>
<line x1="256.31" y1="548.00" x2="258.11" y2="548.00" stroke="#444" stroke-width="0.8"/>
<rect x="255.56" y="553.75" width="3.30" height="33.25" fill="#d4203a" stroke="#7a1020" stroke-width="0.55"/>
<line x1="261.51" y1="553.00" x2="261.51" y2="547.00" stroke="#707070" stroke-width="0.6"/>
<line x1="260.61" y1="547.00" x2="262.41" y2="547.00" stroke="#444" stroke-width="0.8"/>
<rect x="259.86" y="553.00" width="3.30" height="34.00" fill="#1c5595" stroke="#0e2f55" stroke-width="0.55"/>
<line x1="265.81" y1="580.50" x2="265.81" y2="580.00" stroke="#707070" stroke-width="0.6"/>
<line x1="264.91" y1="580.00" x2="266.71" y2="580.00" stroke="#444" stroke-width="0.8"/>
<rect x="264.16" y="580.50" width="3.30" height="6.50" fill="#3db84c" stroke="#1d6a27" stroke-width="0.55"/>
<rect x="264.74" y="573.08" width="1.35" height="1.35" fill="#555"/>
<rect x="267.24" y="573.08" width="1.35" height="1.35" fill="#555"/>
<rect x="269.74" y="573.08" width="1.35" height="1.35" fill="#555"/>
<text x="262.76" y="594.20" font-size="7.3" text-anchor="end" fill="#444" textLength="42.72" lengthAdjust="spacingAndGlyphs" transform="rotate(-45 262.76 594.20)">Megakaryocyte</text>
<line x1="275.84" y1="556.75" x2="275.84" y2="548.00" stroke="#707070" stroke-width="0.6"/>
<line x1="274.94" y1="548.00" x2="276.74" y2="548.00" stroke="#444" stroke-width="0.8"/>
<rect x="274.19" y="556.75" width="3.30" height="30.25" fill="#d4203a" stroke="#7a1020" stroke-width="0.55"/>
<line x1="280.14" y1="556.75" x2="280.14" y2="538.25" stroke="#707070" stroke-width="0.6"/>
<line x1="279.24" y1="538.25" x2="281.04" y2="538.25" stroke="#444" stroke-width="0.8"/>
<rect x="278.49" y="556.75" width="3.30" height="30.25" fill="#1c5595" stroke="#0e2f55" stroke-width="0.55"/>
<line x1="284.44" y1="585.00" x2="284.44" y2="584.50" stroke="#707070" stroke-width="0.6"/>
<line x1="283.54" y1="584.50" x2="285.34" y2="584.50" stroke="#444" stroke-width="0.8"/>
<rect x="282.79" y="585.00" width="3.30" height="2.00" fill="#3db84c" stroke="#1d6a27" stroke-width="0.55"/>
<rect x="283.37" y="579.83" width="1.35" height="1.35" fill="#555"/>
<rect x="285.87" y="579.83" width="1.35" height="1.35" fill="#555"/>
<rect x="288.37" y="579.83" width="1.35" height="1.35" fill="#555"/>
<text x="281.39" y="594.20" font-size="7.3" text-anchor="end" fill="#444" textLength="21.94" lengthAdjust="spacingAndGlyphs" transform="rotate(-45 281.39 594.20)">LT-HSC</text>
<line x1="294.47" y1="568.75" x2="294.47" y2="561.75" stroke="#707070" stroke-width="0.6"/>
<line x1="293.57" y1="561.75" x2="295.37" y2="561.75" stroke="#444" stroke-width="0.8"/>
<rect x="292.82" y="568.75" width="3.30" height="18.25" fill="#d4203a" stroke="#7a1020" stroke-width="0.55"/>
<line x1="298.77" y1="565.75" x2="298.77" y2="561.25" stroke="#707070" stroke-width="0.6"/>
<line x1="297.87" y1="561.25" x2="299.67" y2="561.25" stroke="#444" stroke-width="0.8"/>
<rect x="297.12" y="565.75" width="3.30" height="21.25" fill="#1c5595" stroke="#0e2f55" stroke-width="0.55"/>
<line x1="303.07" y1="579.25" x2="303.07" y2="573.00" stroke="#707070" stroke-width="0.6"/>
<line x1="302.17" y1="573.00" x2="303.97" y2="573.00" stroke="#444" stroke-width="0.8"/>
<rect x="301.42" y="579.25" width="3.30" height="7.75" fill="#3db84c" stroke="#1d6a27" stroke-width="0.55"/>
<rect x="300.94" y="573.83" width="1.35" height="1.35" fill="#555"/>
<text x="300.02" y="594.20" font-size="7.3" text-anchor="end" fill="#444" textLength="23.10" lengthAdjust="spacingAndGlyphs" transform="rotate(-45 300.02 594.20)">ST-HSC</text>
<line x1="313.10" y1="553.25" x2="313.10" y2="541.25" stroke="#707070" stroke-width="0.6"/>
<line x1="312.20" y1="541.25" x2="314.00" y2="541.25" stroke="#444" stroke-width="0.8"/>
<rect x="311.45" y="553.25" width="3.30" height="33.75" fill="#d4203a" stroke="#7a1020" stroke-width="0.55"/>
<line x1="317.40" y1="563.25" x2="317.40" y2="547.50" stroke="#707070" stroke-width="0.6"/>
<line x1="316.50" y1="547.50" x2="318.30" y2="547.50" stroke="#444" stroke-width="0.8"/>
<rect x="315.75" y="563.25" width="3.30" height="23.75" fill="#1c5595" stroke="#0e2f55" stroke-width="0.55"/>
<rect x="320.62" y="581.83" width="1.35" height="1.35" fill="#555"/>
<rect x="323.12" y="581.83" width="1.35" height="1.35" fill="#555"/>
<rect x="325.62" y="581.83" width="1.35" height="1.35" fill="#555"/>
<text x="318.65" y="594.20" font-size="7.3" text-anchor="end" fill="#444" textLength="11.91" lengthAdjust="spacingAndGlyphs" transform="rotate(-45 318.65 594.20)">LSK</text>
<line x1="331.73" y1="553.00" x2="331.73" y2="540.50" stroke="#707070" stroke-width="0.6"/>
<line x1="330.83" y1="540.50" x2="332.63" y2="540.50" stroke="#444" stroke-width="0.8"/>
<rect x="330.08" y="553.00" width="3.30" height="34.00" fill="#d4203a" stroke="#7a1020" stroke-width="0.55"/>
<line x1="336.03" y1="560.50" x2="336.03" y2="542.00" stroke="#707070" stroke-width="0.6"/>
<line x1="335.13" y1="542.00" x2="336.93" y2="542.00" stroke="#444" stroke-width="0.8"/>
<rect x="334.38" y="560.50" width="3.30" height="26.50" fill="#1c5595" stroke="#0e2f55" stroke-width="0.55"/>
<rect x="339.25" y="581.83" width="1.35" height="1.35" fill="#555"/>
<rect x="341.75" y="581.83" width="1.35" height="1.35" fill="#555"/>
<rect x="344.25" y="581.83" width="1.35" height="1.35" fill="#555"/>
<text x="337.28" y="594.20" font-size="7.3" text-anchor="end" fill="#444" textLength="13.30" lengthAdjust="spacingAndGlyphs" transform="rotate(-45 337.28 594.20)">HPC</text>
<line x1="350.36" y1="541.25" x2="350.36" y2="528.00" stroke="#707070" stroke-width="0.6"/>
<line x1="349.46" y1="528.00" x2="351.26" y2="528.00" stroke="#444" stroke-width="0.8"/>
<rect x="348.71" y="541.25" width="3.30" height="45.75" fill="#d4203a" stroke="#7a1020" stroke-width="0.55"/>
<line x1="354.66" y1="548.00" x2="354.66" y2="521.25" stroke="#707070" stroke-width="0.6"/>
<line x1="353.76" y1="521.25" x2="355.56" y2="521.25" stroke="#444" stroke-width="0.8"/>
<rect x="353.01" y="548.00" width="3.30" height="39.00" fill="#1c5595" stroke="#0e2f55" stroke-width="0.55"/>
<rect x="357.88" y="581.83" width="1.35" height="1.35" fill="#555"/>
<rect x="360.38" y="581.83" width="1.35" height="1.35" fill="#555"/>
<rect x="362.88" y="581.83" width="1.35" height="1.35" fill="#555"/>
<text x="355.91" y="594.20" font-size="7.3" text-anchor="end" fill="#444" textLength="14.00" lengthAdjust="spacingAndGlyphs" transform="rotate(-45 355.91 594.20)">CMP</text>
<line x1="368.99" y1="539.20" x2="368.99" y2="523.10" stroke="#707070" stroke-width="0.6"/>
<line x1="368.09" y1="523.10" x2="369.89" y2="523.10" stroke="#444" stroke-width="0.8"/>
<rect x="367.34" y="539.20" width="3.30" height="47.80" fill="#d4203a" stroke="#7a1020" stroke-width="0.55"/>
<line x1="373.29" y1="546.60" x2="373.29" y2="519.20" stroke="#707070" stroke-width="0.6"/>
<line x1="372.39" y1="519.20" x2="374.19" y2="519.20" stroke="#444" stroke-width="0.8"/>
<rect x="371.64" y="546.60" width="3.30" height="40.40" fill="#1c5595" stroke="#0e2f55" stroke-width="0.55"/>
<rect x="376.51" y="581.83" width="1.35" height="1.35" fill="#555"/>
<rect x="379.01" y="581.83" width="1.35" height="1.35" fill="#555"/>
<rect x="381.51" y="581.83" width="1.35" height="1.35" fill="#555"/>
<text x="374.54" y="594.20" font-size="7.3" text-anchor="end" fill="#444" textLength="14.35" lengthAdjust="spacingAndGlyphs" transform="rotate(-45 374.54 594.20)">GMP</text>
<line x1="387.62" y1="566.90" x2="387.62" y2="557.40" stroke="#707070" stroke-width="0.6"/>
<line x1="386.72" y1="557.40" x2="388.52" y2="557.40" stroke="#444" stroke-width="0.8"/>
<rect x="385.97" y="566.90" width="3.30" height="20.10" fill="#d4203a" stroke="#7a1020" stroke-width="0.55"/>
<line x1="391.92" y1="573.00" x2="391.92" y2="563.10" stroke="#707070" stroke-width="0.6"/>
<line x1="391.02" y1="563.10" x2="392.82" y2="563.10" stroke="#444" stroke-width="0.8"/>
<rect x="390.27" y="573.00" width="3.30" height="14.00" fill="#1c5595" stroke="#0e2f55" stroke-width="0.55"/>
<rect x="394.57" y="586.30" width="3.30" height="0.70" fill="#3db84c" stroke="#1d6a27" stroke-width="0.55"/>
<rect x="394.64" y="581.83" width="1.35" height="1.35" fill="#555"/>
<rect x="397.14" y="581.83" width="1.35" height="1.35" fill="#555"/>
<text x="393.17" y="594.20" font-size="7.3" text-anchor="end" fill="#444" textLength="13.65" lengthAdjust="spacingAndGlyphs" transform="rotate(-45 393.17 594.20)">MEP</text>
<line x1="406.25" y1="555.40" x2="406.25" y2="542.30" stroke="#707070" stroke-width="0.6"/>
<line x1="405.35" y1="542.30" x2="407.15" y2="542.30" stroke="#444" stroke-width="0.8"/>
<rect x="404.60" y="555.40" width="3.30" height="31.60" fill="#d4203a" stroke="#7a1020" stroke-width="0.55"/>
<line x1="410.55" y1="562.00" x2="410.55" y2="545.10" stroke="#707070" stroke-width="0.6"/>
<line x1="409.65" y1="545.10" x2="411.45" y2="545.10" stroke="#444" stroke-width="0.8"/>
<rect x="408.90" y="562.00" width="3.30" height="25.00" fill="#1c5595" stroke="#0e2f55" stroke-width="0.55"/>
<rect x="413.20" y="586.30" width="3.30" height="0.70" fill="#3db84c" stroke="#1d6a27" stroke-width="0.55"/>
<rect x="413.77" y="581.83" width="1.35" height="1.35" fill="#555"/>
<rect x="416.27" y="581.83" width="1.35" height="1.35" fill="#555"/>
<rect x="418.77" y="581.83" width="1.35" height="1.35" fill="#555"/>
<text x="411.80" y="594.20" font-size="7.3" text-anchor="end" fill="#444" textLength="10.50" lengthAdjust="spacingAndGlyphs" transform="rotate(-45 411.80 594.20)">Lin-</text>
<line x1="424.88" y1="548.00" x2="424.88" y2="531.10" stroke="#707070" stroke-width="0.6"/>
<line x1="423.98" y1="531.10" x2="425.78" y2="531.10" stroke="#444" stroke-width="0.8"/>
<rect x="423.23" y="548.00" width="3.30" height="39.00" fill="#d4203a" stroke="#7a1020" stroke-width="0.55"/>
<line x1="429.18" y1="556.90" x2="429.18" y2="538.20" stroke="#707070" stroke-width="0.6"/>
<line x1="428.28" y1="538.20" x2="430.08" y2="538.20" stroke="#444" stroke-width="0.8"/>
<rect x="427.53" y="556.90" width="3.30" height="30.10" fill="#1c5595" stroke="#0e2f55" stroke-width="0.55"/>
<rect x="431.83" y="586.50" width="3.30" height="0.50" fill="#3db84c" stroke="#1d6a27" stroke-width="0.55"/>
<rect x="431.90" y="581.83" width="1.35" height="1.35" fill="#555"/>
<rect x="434.40" y="581.83" width="1.35" height="1.35" fill="#555"/>
<text x="430.43" y="594.20" font-size="7.3" text-anchor="end" fill="#444" textLength="12.09" lengthAdjust="spacingAndGlyphs" transform="rotate(-45 430.43 594.20)">Lin+</text>
<line x1="443.51" y1="543.20" x2="443.51" y2="523.20" stroke="#707070" stroke-width="0.6"/>
<line x1="442.61" y1="523.20" x2="444.41" y2="523.20" stroke="#444" stroke-width="0.8"/>
<rect x="441.86" y="543.20" width="3.30" height="43.80" fill="#d4203a" stroke="#7a1020" stroke-width="0.55"/>
<line x1="447.81" y1="541.90" x2="447.81" y2="512.20" stroke="#707070" stroke-width="0.6"/>
<line x1="446.91" y1="512.20" x2="448.71" y2="512.20" stroke="#444" stroke-width="0.8"/>
<rect x="446.16" y="541.90" width="3.30" height="45.10" fill="#1c5595" stroke="#0e2f55" stroke-width="0.55"/>
<rect x="450.46" y="586.50" width="3.30" height="0.50" fill="#3db84c" stroke="#1d6a27" stroke-width="0.55"/>
<rect x="450.53" y="581.83" width="1.35" height="1.35" fill="#555"/>
<rect x="453.03" y="581.83" width="1.35" height="1.35" fill="#555"/>
<text x="449.06" y="594.20" font-size="7.3" text-anchor="end" fill="#444" textLength="27.31" lengthAdjust="spacingAndGlyphs" transform="rotate(-45 449.06 594.20)">Monocyte</text>
<line x1="462.14" y1="532.70" x2="462.14" y2="513.50" stroke="#707070" stroke-width="0.6"/>
<line x1="461.24" y1="513.50" x2="463.04" y2="513.50" stroke="#444" stroke-width="0.8"/>
<rect x="460.49" y="532.70" width="3.30" height="54.30" fill="#d4203a" stroke="#7a1020" stroke-width="0.55"/>
<line x1="466.44" y1="539.20" x2="466.44" y2="507.30" stroke="#707070" stroke-width="0.6"/>
<line x1="465.54" y1="507.30" x2="467.34" y2="507.30" stroke="#444" stroke-width="0.8"/>
<rect x="464.79" y="539.20" width="3.30" height="47.80" fill="#1c5595" stroke="#0e2f55" stroke-width="0.55"/>
<rect x="469.66" y="581.83" width="1.35" height="1.35" fill="#555"/>
<rect x="472.16" y="581.83" width="1.35" height="1.35" fill="#555"/>
<rect x="474.66" y="581.83" width="1.35" height="1.35" fill="#555"/>
<text x="467.69" y="594.20" font-size="7.3" text-anchor="end" fill="#444" textLength="21.71" lengthAdjust="spacingAndGlyphs" transform="rotate(-45 467.69 594.20)">Myeloid</text>
<line x1="480.77" y1="542.70" x2="480.77" y2="517.00" stroke="#707070" stroke-width="0.6"/>
<line x1="479.87" y1="517.00" x2="481.67" y2="517.00" stroke="#444" stroke-width="0.8"/>
<rect x="479.12" y="542.70" width="3.30" height="44.30" fill="#d4203a" stroke="#7a1020" stroke-width="0.55"/>
<line x1="485.07" y1="558.50" x2="485.07" y2="535.00" stroke="#707070" stroke-width="0.6"/>
<line x1="484.17" y1="535.00" x2="485.97" y2="535.00" stroke="#444" stroke-width="0.8"/>
<rect x="483.42" y="558.50" width="3.30" height="28.50" fill="#1c5595" stroke="#0e2f55" stroke-width="0.55"/>
<rect x="487.80" y="581.83" width="1.35" height="1.35" fill="#555"/>
<rect x="490.30" y="581.83" width="1.35" height="1.35" fill="#555"/>
<text x="486.32" y="594.20" font-size="7.3" text-anchor="end" fill="#444" textLength="15.41" lengthAdjust="spacingAndGlyphs" transform="rotate(-45 486.32 594.20)">B cell</text>
<line x1="499.40" y1="538.10" x2="499.40" y2="518.50" stroke="#707070" stroke-width="0.6"/>
<line x1="498.50" y1="518.50" x2="500.30" y2="518.50" stroke="#444" stroke-width="0.8"/>
<rect x="497.75" y="538.10" width="3.30" height="48.90" fill="#d4203a" stroke="#7a1020" stroke-width="0.55"/>
<line x1="503.70" y1="541.90" x2="503.70" y2="511.90" stroke="#707070" stroke-width="0.6"/>
<line x1="502.80" y1="511.90" x2="504.60" y2="511.90" stroke="#444" stroke-width="0.8"/>
<rect x="502.05" y="541.90" width="3.30" height="45.10" fill="#1c5595" stroke="#0e2f55" stroke-width="0.55"/>
<rect x="506.93" y="581.83" width="1.35" height="1.35" fill="#555"/>
<rect x="509.43" y="581.83" width="1.35" height="1.35" fill="#555"/>
<rect x="511.93" y="581.83" width="1.35" height="1.35" fill="#555"/>
<text x="504.95" y="594.20" font-size="7.3" text-anchor="end" fill="#444" textLength="42.72" lengthAdjust="spacingAndGlyphs" transform="rotate(-45 504.95 594.20)">Megakaryocyte</text>
<line x1="30.50" y1="626.60" x2="266.50" y2="626.60" stroke="#888" stroke-width="1.2"/>
<line x1="273.75" y1="626.60" x2="507.70" y2="626.60" stroke="#888" stroke-width="1.2"/>
<text x="137.00" y="636.00" font-size="7.5" textLength="29.25" lengthAdjust="spacingAndGlyphs">1’ Round</text>
<text x="384.00" y="636.00" font-size="7.5" textLength="28.90" lengthAdjust="spacingAndGlyphs">2’ Round</text>
<rect x="45.50" y="505.30" width="3.10" height="3.10" fill="#d4203a" stroke="#7a1020" stroke-width="0.4"/>
<text x="49.20" y="509.40" font-size="7.2" textLength="11.60" lengthAdjust="spacingAndGlyphs">WT</text>
<rect x="83.00" y="505.30" width="3.10" height="3.10" fill="#1c5595" stroke="#0e2f55" stroke-width="0.4"/>
<text x="86.70" y="509.40" font-size="7.2" textLength="14.55" lengthAdjust="spacingAndGlyphs">HET</text>
<rect x="124.50" y="505.30" width="3.10" height="3.10" fill="#3db84c" stroke="#1d6a27" stroke-width="0.4"/>
<text x="128.20" y="509.40" font-size="7.2" textLength="11.80" lengthAdjust="spacingAndGlyphs">KO</text>
<text x="93.80" y="125.50" font-size="12" fill="#000" font-weight="bold">G</text>
<text x="140.80" y="132.40" font-size="7.2" textLength="11.00" lengthAdjust="spacingAndGlyphs">WT</text>
<text x="203.00" y="132.40" font-size="7.2" textLength="38.50" lengthAdjust="spacingAndGlyphs">Ythdc1 HET</text>
<text x="271.60" y="132.40" font-size="7.2" textLength="35.40" lengthAdjust="spacingAndGlyphs">Ythdc1 KO</text>
<defs>
<filter id="mot" x="0" y="0" width="1" height="1" color-interpolation-filters="sRGB">
 <feTurbulence type="fractalNoise" baseFrequency="0.32" numOctaves="2" seed="4" result="n"/>
 <feColorMatrix in="n" type="matrix" values="0 0 0 0 0.70  0 0 0 0 0.46  0 0 0 0 0.78  3.2 0 0 0 -1.3" result="d"/>
 <feComposite in="d" in2="SourceGraphic" operator="in"/>
</filter>
<filter id="mot2" x="0" y="0" width="1" height="1" color-interpolation-filters="sRGB">
 <feTurbulence type="fractalNoise" baseFrequency="0.5" numOctaves="2" seed="9" result="n"/>
 <feColorMatrix in="n" type="matrix" values="0 0 0 0 0.32  0 0 0 0 0.15  0 0 0 0 0.50  0 3.0 0 0 -1.3" result="d"/>
 <feComposite in="d" in2="SourceGraphic" operator="in"/>
</filter>
<filter id="mot3" x="0" y="0" width="1" height="1" color-interpolation-filters="sRGB">
 <feTurbulence type="fractalNoise" baseFrequency="0.9" numOctaves="1" seed="2" result="n"/>
 <feColorMatrix in="n" type="matrix" values="0 0 0 0 0.92  0 0 0 0 0.85  0 0 0 0 0.95  0 0 4 0 -2.45" result="d"/>
 <feComposite in="d" in2="SourceGraphic" operator="in"/>
</filter>
<filter id="mot4" x="0" y="0" width="1" height="1" color-interpolation-filters="sRGB">
 <feTurbulence type="fractalNoise" baseFrequency="0.45" numOctaves="2" seed="13" result="n"/>
 <feColorMatrix in="n" type="matrix" values="0 0 0 0 0.86  0 0 0 0 0.52  0 0 0 0 0.74  0 0 3.6 0 -1.55" result="d"/>
 <feComposite in="d" in2="SourceGraphic" operator="in"/>
</filter>
<filter id="blur1"><feGaussianBlur stdDeviation="0.5"/></filter>
<filter id="blur06"><feGaussianBlur stdDeviation="0.35"/></filter>
<filter id="blur2"><feGaussianBlur stdDeviation="1.2"/></filter>
<filter id="blurz" x="-0.1" y="-0.1" width="1.2" height="1.2"><feGaussianBlur stdDeviation="4"/></filter>
<clipPath id="cwt"><rect x="115.4" y="134.7" width="67.8" height="59.3"/></clipPath>
<clipPath id="chet"><rect x="187.7" y="134.8" width="68" height="59.2"/></clipPath>
<clipPath id="cko"><rect x="257.0" y="134.5" width="68.6" height="60"/></clipPath>
</defs>
<g clip-path="url(#cwt)">
<rect x="115.40" y="134.70" width="67.80" height="59.30" fill="#673d8e"/>
<rect x="115.4" y="134.7" width="67.8" height="59.3" fill="#000" filter="url(#mot)" opacity="0.6"/>
<rect x="115.4" y="134.7" width="67.8" height="59.3" fill="#000" filter="url(#mot2)" opacity="1.0"/>
<rect x="115.4" y="134.7" width="67.8" height="59.3" fill="#000" filter="url(#mot4)" opacity="0.45"/>
<rect x="115.4" y="134.7" width="67.8" height="59.3" fill="#000" filter="url(#mot3)" opacity="0.5"/>
<g transform="translate(114 133) scale(0.1385)">
<polygon points="255,0 520,0 520,150 460,118 400,88 330,52 285,30" fill="#efadcb" filter="url(#blurz)"/>
<polygon points="390,0 520,0 520,55 470,38 425,12" fill="#fcf5f8"/>
<polygon points="330,58 360,76 420,112 468,160 486,150 428,100 356,60" fill="#fff" filter="url(#blurz)"/>
<polygon points="452,160 520,140 520,460 425,460 450,380 465,300 476,220" fill="#efadcb" filter="url(#blurz)"/>
<polygon points="0,290 40,318 68,380 84,460 0,460" fill="#f6d3e3" filter="url(#blurz)"/>
<g fill="none" stroke="#fff" stroke-linecap="round" stroke-linejoin="round" filter="url(#blur06)">
<path d="M95,55 L109,50 L120,40 L133,47 L142,49 L150,48 L158,44 L175,40 L188,49 L196,51 L200,62 L212,53 L225,48 L235,43 L245,36 L253,29 L270,28" stroke-width="7"/>
<path d="M120,40 L116,60" stroke-width="3.1"/>
<path d="M150,48 L151,38" stroke-width="3.1"/>
<path d="M188,49 L191,39" stroke-width="3.1"/>
<path d="M212,53 L205,46" stroke-width="3.1"/>
<path d="M245,36 L265,36" stroke-width="3.1"/>
<path d="M55,120 L61,127 L72,140 L83,152 L82,161 L90,165 L94,177 L94,189 L100,195 L109,208 L115,212 L131,215 L137,219 L150,228 L156,232 L167,245 L178,252" stroke-width="7"/>
<path d="M72,140 L89,140" stroke-width="3.1"/>
<path d="M90,165 L84,176" stroke-width="3.1"/>
<path d="M100,195 L106,182" stroke-width="3.1"/>
<path d="M131,215 L125,229" stroke-width="3.1"/>
<path d="M156,232 L153,223" stroke-width="3.1"/>
<path d="M178,252 L191,235 L192,240 L192,225 L188,220 L198,206 L205,195 L205,180 L216,187 L230,172 L245,160 L252,160 L270,152 L287,159 L287,148 L300,150 L311,149 L322,138 L325,136 L346,131 L350,118" stroke-width="12"/>
<path d="M192,240 L212,245" stroke-width="5.4"/>
<path d="M198,206 L209,213" stroke-width="5.4"/>
<path d="M216,187 L200,174" stroke-width="5.4"/>
<path d="M252,160 L241,178" stroke-width="5.4"/>
<path d="M287,148 L276,145" stroke-width="5.4"/>
<path d="M322,138 L318,148" stroke-width="5.4"/>
<path d="M178,252 L166,259 L165,275 L165,294 L160,300 L160,304 L174,320 L172,330 L173,337 L177,354 L178,360 L181,370 L179,387 L188,392 L193,398 L210,405 L224,402 L233,414 L240,410 L252,410 L255,403 L270,400" stroke-width="9"/>
<path d="M165,275 L177,291" stroke-width="4.0"/>
<path d="M160,304 L156,318" stroke-width="4.0"/>
<path d="M173,337 L193,337" stroke-width="4.0"/>
<path d="M181,370 L195,368" stroke-width="4.0"/>
<path d="M193,398 L175,400" stroke-width="4.0"/>
<path d="M233,414 L221,416" stroke-width="4.0"/>
<path d="M255,403 L247,408" stroke-width="4.0"/>
<path d="M265,285 L273,302 L285,305 L301,315 L305,322 L317,324 L330,330 L325,337 L335,355 L332,360 L332,374 L340,383 L338,390 L344,405 L344,416 L350,425" stroke-width="10"/>
<path d="M285,305 L282,320" stroke-width="4.5"/>
<path d="M317,324 L320,306" stroke-width="4.5"/>
<path d="M335,355 L330,376" stroke-width="4.5"/>
<path d="M340,383 L330,370" stroke-width="4.5"/>
<path d="M344,416 L360,417" stroke-width="4.5"/>
<path d="M330,330 L340,334 L355,335 L365,340 L376,343 L385,342 L394,349 L407,356 L415,358 L426,368 L440,372 L455,380 L462,385" stroke-width="7"/>
<path d="M355,335 L376,332" stroke-width="3.1"/>
<path d="M385,342 L370,340" stroke-width="3.1"/>
<path d="M415,358 L425,375" stroke-width="3.1"/>
<path d="M455,380 L468,375" stroke-width="3.1"/>
<path d="M355,170 L354,182 L351,187 L345,200 L346,211 L343,219 L340,230 L336,247 L330,258 L323,267 L309,268 L305,278 L292,281 L278,282 L268,282" stroke-width="7"/>
<path d="M351,187 L345,180" stroke-width="3.1"/>
<path d="M343,219 L332,221" stroke-width="3.1"/>
<path d="M330,258 L339,261" stroke-width="3.1"/>
<path d="M305,278 L301,288" stroke-width="3.1"/>
<path d="M25,242 L34,235 L48,234 L60,232 L71,230 L78,230 L86,224 L100,222" stroke-width="6"/>
<path d="M48,234 L46,248" stroke-width="2.7"/>
<path d="M78,230 L93,243" stroke-width="2.7"/>
<path d="M402,168 L407,173 L416,184 L422,198 L428,206 L435,222 L440,228 L449,241 L452,255 L458,268 L456,274 L460,289 L462,300" stroke-width="7"/>
<path d="M416,184 L437,178" stroke-width="3.1"/>
<path d="M435,222 L425,214" stroke-width="3.1"/>
<path d="M452,255 L458,250" stroke-width="3.1"/>
<path d="M460,289 L473,299" stroke-width="3.1"/>
<path d="M95,402 L106,393 L116,394 L125,385 L132,377 L139,368 L150,362" stroke-width="6"/>
<path d="M116,394 L129,392" stroke-width="2.7"/>
<path d="M139,368 L160,363" stroke-width="2.7"/>
<path d="M55,330 L66,320 L78,313 L85,305 L96,302 L112,302 L120,300" stroke-width="5"/>
<path d="M78,313 L75,328" stroke-width="2.5"/>
<path d="M112,302 L124,313" stroke-width="2.5"/>
<path d="M225,60 L231,67 L239,78 L240,84 L247,95 L255,100 L255,108 L250,118 L253,129 L248,140" stroke-width="5"/>
<path d="M239,78 L228,69" stroke-width="2.5"/>
<path d="M255,100 L245,87" stroke-width="2.5"/>
<path d="M253,129 L253,119" stroke-width="2.5"/>
<path d="M378,250 L388,257 L395,265 L402,274 L412,282" stroke-width="5"/>
<path d="M395,265 L383,268" stroke-width="2.5"/>
<path d="M250,320 L257,309 L255,294 L265,285" stroke-width="7"/>
<path d="M255,294 L235,300" stroke-width="3.1"/>
<path d="M120,300 L130,308 L132,317 L142,323 L150,330 L154,341 L157,352 L160,360" stroke-width="4"/>
<path d="M132,317 L122,325" stroke-width="2.5"/>
<path d="M154,341 L161,332" stroke-width="2.5"/>
<path d="M60,60 L66,72 L71,82 L80,90 L78,100 L72,112 L70,120" stroke-width="4"/>
<path d="M71,82 L79,77" stroke-width="2.5"/>
<path d="M72,112 L57,114" stroke-width="2.5"/>
<path d="M300,200 L307,209 L311,220 L320,230 L312,238 L300,250" stroke-width="4"/>
<path d="M311,220 L314,240" stroke-width="2.5"/>
<path d="M200,300 L212,308 L217,315 L230,320 L239,333 L244,337 L250,350" stroke-width="4"/>
<path d="M217,315 L223,305" stroke-width="2.5"/>
<path d="M244,337 L231,321" stroke-width="2.5"/>
<path d="M420,300 L415,308 L406,322 L400,330 L401,341 L406,348 L410,360" stroke-width="4"/>
<path d="M406,322 L399,316" stroke-width="2.5"/>
<path d="M406,348 L417,356" stroke-width="2.5"/>
<path d="M130,120 L135,125 L145,136 L155,140 L160,150 L156,159 L154,170 L150,180" stroke-width="4"/>
<path d="M145,136 L158,131" stroke-width="2.5"/>
<path d="M156,159 L173,165" stroke-width="2.5"/>
<path d="M260,60 L268,66 L280,72 L290,76 L300,80 L309,74 L319,68 L330,60" stroke-width="4"/>
<path d="M280,72 L270,71" stroke-width="2.5"/>
<path d="M309,74 L310,87" stroke-width="2.5"/>
</g></g></g>
<g clip-path="url(#chet)">
<rect x="187.70" y="134.80" width="68.00" height="59.20" fill="#623a8c"/>
<rect x="187.7" y="134.8" width="68" height="59.2" fill="#000" filter="url(#mot)" opacity="0.55"/>
<rect x="187.7" y="134.8" width="68" height="59.2" fill="#000" filter="url(#mot2)" opacity="1.0"/>
<rect x="187.7" y="134.8" width="68" height="59.2" fill="#000" filter="url(#mot4)" opacity="0.4"/>
<rect x="187.7" y="134.8" width="68" height="59.2" fill="#000" filter="url(#mot3)" opacity="0.4"/>
<g transform="translate(186 133) scale(0.1385)">
<filter id="blurh" x="-0.5" y="-0.5" width="2" height="2"><feGaussianBlur stdDeviation="9"/></filter>
<g fill="#d890c0" filter="url(#blurh)" opacity="0.8">
<ellipse cx="50" cy="65" rx="14" ry="14"/>
<ellipse cx="295" cy="155" rx="40" ry="28"/>
<ellipse cx="295" cy="100" rx="18" ry="12"/>
<ellipse cx="315" cy="40" rx="16" ry="22"/>
<ellipse cx="175" cy="245" rx="25" ry="15"/>
<ellipse cx="275" cy="300" rx="28" ry="20"/>
<ellipse cx="385" cy="355" rx="35" ry="25"/>
<ellipse cx="405" cy="225" rx="25" ry="25"/>
<ellipse cx="125" cy="400" rx="25" ry="20"/>
<ellipse cx="230" cy="400" rx="30" ry="20"/>
<ellipse cx="40" cy="160" rx="14" ry="12"/>
<ellipse cx="340" cy="250" rx="18" ry="15"/>
<ellipse cx="160" cy="120" rx="15" ry="12"/>
<ellipse cx="420" cy="130" rx="15" ry="20"/>
</g>
<ellipse cx="218" cy="62" rx="46" ry="66" fill="#efadcb" filter="url(#blurz)"/>
<ellipse cx="222" cy="60" rx="28" ry="46" fill="#f3cde0" filter="url(#blurz)"/>
<polygon points="295,0 335,0 330,100 300,90" fill="#d98cb8" filter="url(#blurz)"/>
<polygon points="462,0 520,0 520,170 478,160" fill="#efadcb" filter="url(#blurz)"/>
<polygon points="430,95 470,110 478,160 470,240 460,280 500,320 520,320 520,160 480,150 470,90" fill="#fff" filter="url(#blurz)"/>
<polygon points="95,0 180,0 175,20 140,40 120,25" fill="#fff" filter="url(#blurz)"/>
<polygon points="0,0 30,0 25,40 0,50" fill="#fff" filter="url(#blurz)" opacity="0.6"/>
<polygon points="0,255 25,262 40,248 60,270 160,440 180,470 0,470" fill="#efadcb" filter="url(#blurz)"/>
<polygon points="0,240 35,232 55,262 175,432 190,470 150,470 30,300 0,280" fill="#fff" filter="url(#blurz)"/>
<polygon points="0,300 30,305 130,455 0,460" fill="#eeb2cc"/>
<g stroke="#f9dbe8" stroke-width="4" opacity="0.7">
<line x1="0" y1="320" x2="100" y2="470"/>
<line x1="10" y1="328" x2="110" y2="470"/>
<line x1="20" y1="336" x2="120" y2="470"/>
<line x1="30" y1="344" x2="130" y2="470"/>
<line x1="40" y1="352" x2="140" y2="470"/>
</g>
<polygon points="395,440 420,400 455,410 480,385 520,380 520,470 390,470" fill="#fff" filter="url(#blurz)"/>
<g fill="none" stroke="#fff" stroke-linecap="round" filter="url(#blur1)">
<path d="M100,40 L130,80 L150,105" stroke-width="7"/>
<path d="M150,260 L165,255" stroke-width="6"/>
<path d="M120,200 L150,215" stroke-width="5"/>
<path d="M450,300 L470,340" stroke-width="6"/>
</g></g></g>
<g clip-path="url(#cko)">
<rect x="257.00" y="134.50" width="68.60" height="60.00" fill="#fdfbfd"/>
<g transform="translate(255 133) scale(0.1404)">
<g fill="#ece3f0" opacity="0.5" filter="url(#blurz)">
<circle cx="63" cy="212" r="3.6" fill="#b9a3d6" opacity="0.6"/>
<circle cx="39" cy="219" r="3.8" fill="#b9a3d6" opacity="0.6"/>
<circle cx="92" cy="70" r="3.3" fill="#b9a3d6" opacity="0.6"/>
<circle cx="67" cy="171" r="3.9" fill="#b9a3d6" opacity="0.6"/>
<circle cx="60" cy="152" r="3.9" fill="#b9a3d6" opacity="0.6"/>
<circle cx="69" cy="106" r="2.6" fill="#b9a3d6" opacity="0.6"/>
<circle cx="57" cy="27" r="3.2" fill="#b9a3d6" opacity="0.6"/>
<circle cx="78" cy="146" r="3.7" fill="#b9a3d6" opacity="0.6"/>
<circle cx="94" cy="188" r="3.4" fill="#b9a3d6" opacity="0.6"/>
<circle cx="25" cy="28" r="4.0" fill="#b9a3d6" opacity="0.6"/>
<circle cx="39" cy="78" r="3.8" fill="#b9a3d6" opacity="0.6"/>
<circle cx="79" cy="49" r="2.6" fill="#b9a3d6" opacity="0.6"/>
<circle cx="36" cy="97" r="2.0" fill="#b9a3d6" opacity="0.6"/>
<circle cx="60" cy="107" r="2.8" fill="#b9a3d6" opacity="0.6"/>
<circle cx="31" cy="45" r="2.1" fill="#b9a3d6" opacity="0.6"/>
<circle cx="89" cy="249" r="3.1" fill="#b9a3d6" opacity="0.6"/>
<circle cx="26" cy="58" r="2.2" fill="#b9a3d6" opacity="0.6"/>
<circle cx="42" cy="28" r="2.6" fill="#b9a3d6" opacity="0.6"/>
<circle cx="32" cy="72" r="3.3" fill="#b9a3d6" opacity="0.6"/>
<circle cx="54" cy="162" r="2.7" fill="#b9a3d6" opacity="0.6"/>
<circle cx="61" cy="261" r="2.6" fill="#b9a3d6" opacity="0.6"/>
<circle cx="21" cy="164" r="2.8" fill="#b9a3d6" opacity="0.6"/>
<circle cx="81" cy="46" r="3.7" fill="#b9a3d6" opacity="0.6"/>
<circle cx="16" cy="184" r="2.9" fill="#b9a3d6" opacity="0.6"/>
<circle cx="42" cy="294" r="3.4" fill="#b9a3d6" opacity="0.6"/>
<circle cx="29" cy="168" r="3.2" fill="#b9a3d6" opacity="0.6"/>
<circle cx="18" cy="38" r="3.2" fill="#b9a3d6" opacity="0.6"/>
<circle cx="77" cy="158" r="2.8" fill="#b9a3d6" opacity="0.6"/>
<circle cx="58" cy="93" r="3.8" fill="#b9a3d6" opacity="0.6"/>
<circle cx="97" cy="164" r="2.0" fill="#b9a3d6" opacity="0.6"/>
<circle cx="49" cy="267" r="2.6" fill="#b9a3d6" opacity="0.6"/>
<circle cx="24" cy="69" r="3.4" fill="#b9a3d6" opacity="0.6"/>
<circle cx="68" cy="102" r="3.2" fill="#b9a3d6" opacity="0.6"/>
<circle cx="80" cy="319" r="3.7" fill="#b9a3d6" opacity="0.6"/>
<circle cx="52" cy="269" r="3.9" fill="#b9a3d6" opacity="0.6"/>
<circle cx="89" cy="250" r="3.2" fill="#b9a3d6" opacity="0.6"/>
<circle cx="58" cy="282" r="3.3" fill="#b9a3d6" opacity="0.6"/>
<circle cx="76" cy="83" r="2.2" fill="#b9a3d6" opacity="0.6"/>
<circle cx="38" cy="197" r="3.1" fill="#b9a3d6" opacity="0.6"/>
<circle cx="32" cy="70" r="3.9" fill="#b9a3d6" opacity="0.6"/>
<circle cx="21" cy="306" r="3.5" fill="#b9a3d6" opacity="0.6"/>
<circle cx="64" cy="329" r="3.4" fill="#b9a3d6" opacity="0.6"/>
<circle cx="16" cy="311" r="2.8" fill="#b9a3d6" opacity="0.6"/>
<circle cx="93" cy="270" r="2.3" fill="#b9a3d6" opacity="0.6"/>
<circle cx="18" cy="17" r="3.6" fill="#b9a3d6" opacity="0.6"/>
<circle cx="82" cy="83" r="2.2" fill="#b9a3d6" opacity="0.6"/>
<circle cx="46" cy="266" r="3.5" fill="#b9a3d6" opacity="0.6"/>
<circle cx="89" cy="320" r="3.5" fill="#b9a3d6" opacity="0.6"/>
<circle cx="86" cy="15" r="2.0" fill="#b9a3d6" opacity="0.6"/>
<circle cx="88" cy="208" r="2.7" fill="#b9a3d6" opacity="0.6"/>
<circle cx="26" cy="116" r="2.7" fill="#b9a3d6" opacity="0.6"/>
<circle cx="57" cy="154" r="2.4" fill="#b9a3d6" opacity="0.6"/>
<circle cx="22" cy="75" r="2.3" fill="#b9a3d6" opacity="0.6"/>
<circle cx="24" cy="143" r="2.3" fill="#b9a3d6" opacity="0.6"/>
<circle cx="83" cy="184" r="2.9" fill="#b9a3d6" opacity="0.6"/>
<circle cx="69" cy="85" r="2.0" fill="#b9a3d6" opacity="0.6"/>
<circle cx="22" cy="118" r="2.7" fill="#b9a3d6" opacity="0.6"/>
<circle cx="36" cy="108" r="3.7" fill="#b9a3d6" opacity="0.6"/>
<circle cx="16" cy="154" r="2.8" fill="#b9a3d6" opacity="0.6"/>
<circle cx="39" cy="242" r="2.4" fill="#b9a3d6" opacity="0.6"/>
</g>
<g><circle cx="91" cy="21" r="6.4" fill="#9a6fb3" opacity="0.89"/><circle cx="85" cy="24" r="8.0" fill="#9a6fb3" opacity="0.87"/><circle cx="114" cy="25" r="4.6" fill="#4e2f8a" opacity="0.56"/><circle cx="102" cy="29" r="7.7" fill="#d88fb0" opacity="0.58"/><circle cx="99" cy="33" r="4.5" fill="#4e2f8a" opacity="0.72"/><circle cx="109" cy="35" r="8.0" fill="#d88fb0" opacity="0.80"/><circle cx="91" cy="40" r="5.7" fill="#5e3f95" opacity="0.81"/><circle cx="99" cy="42" r="7.7" fill="#4e2f8a" opacity="0.61"/><circle cx="99" cy="46" r="7.7" fill="#9a6fb3" opacity="0.61"/><circle cx="108" cy="48" r="6.8" fill="#d88fb0" opacity="0.74"/><circle cx="101" cy="52" r="7.4" fill="#7d58a8" opacity="0.58"/><circle cx="99" cy="55" r="4.4" fill="#5e3f95" opacity="0.60"/><circle cx="125" cy="57" r="4.4" fill="#6d4b9c" opacity="0.91"/><circle cx="100" cy="62" r="5.3" fill="#c7799f" opacity="0.93"/><circle cx="114" cy="64" r="5.7" fill="#b8608e" opacity="0.56"/><circle cx="104" cy="68" r="3.9" fill="#9a6fb3" opacity="0.55"/><circle cx="89" cy="72" r="5.8" fill="#c7799f" opacity="0.77"/><circle cx="97" cy="75" r="6.3" fill="#6d4b9c" opacity="0.82"/><circle cx="120" cy="76" r="5.0" fill="#b8608e" opacity="0.65"/><circle cx="120" cy="79" r="4.3" fill="#6d4b9c" opacity="0.86"/><circle cx="117" cy="83" r="6.5" fill="#7d58a8" opacity="0.71"/><circle cx="92" cy="88" r="8.0" fill="#4e2f8a" opacity="0.90"/><circle cx="113" cy="81" r="4.6" fill="#7d58a8" opacity="0.61"/><circle cx="107" cy="93" r="3.8" fill="#d88fb0" opacity="0.86"/><circle cx="125" cy="77" r="3.7" fill="#b8608e" opacity="0.81"/><circle cx="111" cy="98" r="3.7" fill="#7d58a8" opacity="0.62"/><circle cx="108" cy="106" r="7.5" fill="#6d4b9c" opacity="0.85"/><circle cx="114" cy="104" r="5.7" fill="#b8608e" opacity="0.61"/><circle cx="129" cy="91" r="5.7" fill="#7d58a8" opacity="0.91"/><circle cx="136" cy="89" r="5.1" fill="#6d4b9c" opacity="0.90"/><circle cx="131" cy="99" r="6.1" fill="#9a6fb3" opacity="0.67"/><circle cx="131" cy="103" r="5.9" fill="#b8608e" opacity="0.61"/><circle cx="130" cy="109" r="4.1" fill="#4e2f8a" opacity="0.66"/><circle cx="139" cy="105" r="5.0" fill="#7d58a8" opacity="0.89"/><circle cx="139" cy="109" r="5.3" fill="#6d4b9c" opacity="0.60"/><circle cx="139" cy="114" r="3.9" fill="#5e3f95" opacity="0.62"/><circle cx="147" cy="110" r="3.8" fill="#5e3f95" opacity="0.81"/><circle cx="151" cy="109" r="4.1" fill="#c7799f" opacity="0.71"/><circle cx="134" cy="133" r="4.3" fill="#d88fb0" opacity="0.63"/><circle cx="152" cy="118" r="6.8" fill="#4e2f8a" opacity="0.79"/><circle cx="161" cy="113" r="3.8" fill="#4e2f8a" opacity="0.71"/><circle cx="151" cy="130" r="7.4" fill="#d88fb0" opacity="0.86"/><circle cx="143" cy="136" r="4.6" fill="#c7799f" opacity="0.85"/><circle cx="136" cy="141" r="4.6" fill="#6d4b9c" opacity="0.67"/><circle cx="146" cy="141" r="5.8" fill="#9a6fb3" opacity="0.93"/><circle cx="160" cy="140" r="3.9" fill="#4e2f8a" opacity="0.75"/><circle cx="158" cy="144" r="4.9" fill="#7d58a8" opacity="0.58"/><circle cx="185" cy="137" r="7.2" fill="#7d58a8" opacity="0.69"/><circle cx="172" cy="145" r="4.0" fill="#5e3f95" opacity="0.81"/><circle cx="126" cy="165" r="6.3" fill="#9a6fb3" opacity="0.75"/><circle cx="143" cy="162" r="6.7" fill="#9a6fb3" opacity="0.76"/><circle cx="166" cy="157" r="5.3" fill="#d88fb0" opacity="0.58"/><circle cx="145" cy="168" r="3.7" fill="#b8608e" opacity="0.83"/><circle cx="160" cy="166" r="7.2" fill="#d88fb0" opacity="0.73"/><circle cx="163" cy="168" r="5.7" fill="#5e3f95" opacity="0.56"/><circle cx="154" cy="175" r="4.3" fill="#c7799f" opacity="0.84"/><circle cx="151" cy="179" r="6.3" fill="#b8608e" opacity="0.65"/><circle cx="179" cy="172" r="7.6" fill="#d88fb0" opacity="0.67"/><circle cx="178" cy="176" r="6.7" fill="#4e2f8a" opacity="0.61"/><circle cx="160" cy="186" r="4.4" fill="#d88fb0" opacity="0.84"/><circle cx="164" cy="188" r="5.9" fill="#d88fb0" opacity="0.85"/><circle cx="167" cy="190" r="5.6" fill="#5e3f95" opacity="0.95"/><circle cx="166" cy="193" r="6.6" fill="#c7799f" opacity="0.81"/><circle cx="163" cy="198" r="6.6" fill="#b8608e" opacity="0.58"/><circle cx="161" cy="202" r="7.8" fill="#6d4b9c" opacity="0.91"/><circle cx="172" cy="200" r="5.8" fill="#7d58a8" opacity="0.79"/><circle cx="177" cy="203" r="7.7" fill="#9a6fb3" opacity="0.71"/><circle cx="163" cy="205" r="5.6" fill="#b8608e" opacity="0.82"/><circle cx="183" cy="210" r="3.9" fill="#7d58a8" opacity="0.56"/><circle cx="189" cy="213" r="7.1" fill="#c7799f" opacity="0.56"/><circle cx="177" cy="216" r="6.2" fill="#9a6fb3" opacity="0.65"/><circle cx="174" cy="218" r="3.5" fill="#6d4b9c" opacity="0.59"/><circle cx="178" cy="222" r="7.5" fill="#c7799f" opacity="0.62"/><circle cx="161" cy="224" r="6.1" fill="#d88fb0" opacity="0.76"/><circle cx="166" cy="227" r="5.3" fill="#7d58a8" opacity="0.64"/><circle cx="171" cy="231" r="7.1" fill="#9a6fb3" opacity="0.90"/><circle cx="157" cy="233" r="3.9" fill="#7d58a8" opacity="0.61"/><circle cx="171" cy="237" r="5.7" fill="#9a6fb3" opacity="0.74"/><circle cx="169" cy="240" r="4.7" fill="#c7799f" opacity="0.67"/><circle cx="183" cy="244" r="6.4" fill="#4e2f8a" opacity="0.91"/><circle cx="168" cy="246" r="5.8" fill="#7d58a8" opacity="0.69"/><circle cx="170" cy="249" r="5.1" fill="#6d4b9c" opacity="0.56"/><circle cx="190" cy="253" r="6.4" fill="#6d4b9c" opacity="0.56"/><circle cx="171" cy="255" r="4.5" fill="#c7799f" opacity="0.77"/><circle cx="187" cy="259" r="6.8" fill="#d88fb0" opacity="0.58"/><circle cx="161" cy="261" r="7.2" fill="#7d58a8" opacity="0.75"/><circle cx="173" cy="265" r="6.3" fill="#6d4b9c" opacity="0.56"/><circle cx="187" cy="269" r="5.2" fill="#9a6fb3" opacity="0.61"/><circle cx="158" cy="270" r="7.6" fill="#4e2f8a" opacity="0.64"/><circle cx="188" cy="275" r="7.0" fill="#5e3f95" opacity="0.94"/><circle cx="192" cy="278" r="7.7" fill="#c7799f" opacity="0.55"/><circle cx="152" cy="277" r="5.1" fill="#b8608e" opacity="0.79"/><circle cx="169" cy="283" r="4.2" fill="#d88fb0" opacity="0.63"/><circle cx="186" cy="289" r="8.0" fill="#b8608e" opacity="0.86"/><circle cx="170" cy="289" r="5.1" fill="#5e3f95" opacity="0.65"/><circle cx="192" cy="296" r="6.2" fill="#c7799f" opacity="0.77"/><circle cx="163" cy="294" r="4.1" fill="#4e2f8a" opacity="0.91"/><circle cx="177" cy="300" r="7.8" fill="#4e2f8a" opacity="0.94"/><circle cx="168" cy="301" r="4.5" fill="#c7799f" opacity="0.91"/><circle cx="185" cy="307" r="5.8" fill="#5e3f95" opacity="0.61"/><circle cx="174" cy="308" r="5.6" fill="#9a6fb3" opacity="0.85"/><circle cx="179" cy="312" r="6.4" fill="#b8608e" opacity="0.62"/><circle cx="161" cy="312" r="5.6" fill="#4e2f8a" opacity="0.77"/><circle cx="171" cy="317" r="5.6" fill="#4e2f8a" opacity="0.87"/><circle cx="170" cy="320" r="4.9" fill="#6d4b9c" opacity="0.84"/><circle cx="152" cy="320" r="8.0" fill="#d88fb0" opacity="0.61"/><circle cx="143" cy="322" r="7.4" fill="#b8608e" opacity="0.78"/><circle cx="158" cy="327" r="8.0" fill="#7d58a8" opacity="0.74"/><circle cx="151" cy="329" r="6.9" fill="#4e2f8a" opacity="0.56"/><circle cx="172" cy="336" r="7.6" fill="#6d4b9c" opacity="0.75"/><circle cx="172" cy="339" r="6.3" fill="#5e3f95" opacity="0.90"/><circle cx="157" cy="340" r="6.9" fill="#c7799f" opacity="0.81"/><circle cx="161" cy="343" r="4.1" fill="#7d58a8" opacity="0.79"/><circle cx="172" cy="348" r="5.0" fill="#5e3f95" opacity="0.85"/><circle cx="159" cy="349" r="6.9" fill="#b8608e" opacity="0.59"/><circle cx="153" cy="352" r="6.3" fill="#7d58a8" opacity="0.76"/><circle cx="145" cy="354" r="5.7" fill="#4e2f8a" opacity="0.82"/><circle cx="143" cy="357" r="5.0" fill="#c7799f" opacity="0.55"/><circle cx="152" cy="361" r="4.7" fill="#d88fb0" opacity="0.57"/><circle cx="166" cy="366" r="6.9" fill="#4e2f8a" opacity="0.95"/><circle cx="155" cy="368" r="5.7" fill="#c7799f" opacity="0.72"/><circle cx="139" cy="369" r="3.6" fill="#c7799f" opacity="0.61"/><circle cx="167" cy="375" r="6.4" fill="#7d58a8" opacity="0.73"/><circle cx="149" cy="377" r="4.5" fill="#9a6fb3" opacity="0.89"/><circle cx="152" cy="380" r="6.9" fill="#c7799f" opacity="0.75"/><circle cx="181" cy="386" r="4.2" fill="#b8608e" opacity="0.68"/><circle cx="159" cy="387" r="3.7" fill="#6d4b9c" opacity="0.63"/><circle cx="148" cy="389" r="3.5" fill="#6d4b9c" opacity="0.89"/><circle cx="154" cy="393" r="5.9" fill="#5e3f95" opacity="0.80"/><circle cx="149" cy="396" r="4.1" fill="#5e3f95" opacity="0.63"/><circle cx="159" cy="400" r="3.9" fill="#7d58a8" opacity="0.64"/><circle cx="168" cy="404" r="6.1" fill="#7d58a8" opacity="0.63"/><circle cx="173" cy="408" r="5.8" fill="#4e2f8a" opacity="0.71"/><circle cx="163" cy="410" r="7.8" fill="#c7799f" opacity="0.90"/><circle cx="166" cy="413" r="3.7" fill="#d88fb0" opacity="0.86"/><circle cx="145" cy="414" r="6.1" fill="#6d4b9c" opacity="0.57"/><circle cx="165" cy="419" r="4.7" fill="#9a6fb3" opacity="0.84"/><circle cx="168" cy="423" r="5.9" fill="#6d4b9c" opacity="0.67"/><circle cx="161" cy="425" r="4.7" fill="#b8608e" opacity="0.57"/><circle cx="141" cy="427" r="4.8" fill="#5e3f95" opacity="0.74"/><circle cx="148" cy="430" r="6.7" fill="#b8608e" opacity="0.67"/><circle cx="156" cy="434" r="4.0" fill="#9a6fb3" opacity="0.91"/><circle cx="132" cy="435" r="7.2" fill="#5e3f95" opacity="0.80"/><circle cx="100" cy="95" r="5.6" fill="#c7799f" opacity="0.84"/><circle cx="104" cy="102" r="6.2" fill="#d88fb0" opacity="0.62"/><circle cx="106" cy="93" r="7.6" fill="#d88fb0" opacity="0.75"/><circle cx="109" cy="93" r="4.2" fill="#c7799f" opacity="0.56"/><circle cx="113" cy="95" r="7.0" fill="#9a6fb3" opacity="0.65"/><circle cx="115" cy="78" r="4.4" fill="#6d4b9c" opacity="0.83"/><circle cx="119" cy="103" r="5.7" fill="#c7799f" opacity="0.70"/><circle cx="122" cy="99" r="4.8" fill="#5e3f95" opacity="0.90"/><circle cx="124" cy="81" r="4.6" fill="#b8608e" opacity="0.68"/><circle cx="127" cy="70" r="4.3" fill="#d88fb0" opacity="0.56"/><circle cx="132" cy="105" r="6.1" fill="#b8608e" opacity="0.63"/><circle cx="135" cy="103" r="4.5" fill="#5e3f95" opacity="0.90"/><circle cx="137" cy="86" r="7.5" fill="#d88fb0" opacity="0.94"/><circle cx="139" cy="73" r="5.8" fill="#6d4b9c" opacity="0.81"/><circle cx="143" cy="87" r="5.4" fill="#b8608e" opacity="0.86"/><circle cx="146" cy="84" r="6.7" fill="#5e3f95" opacity="0.62"/><circle cx="149" cy="87" r="4.0" fill="#9a6fb3" opacity="0.57"/><circle cx="152" cy="84" r="5.8" fill="#b8608e" opacity="0.81"/><circle cx="155" cy="83" r="7.4" fill="#b8608e" opacity="0.72"/><circle cx="158" cy="75" r="4.0" fill="#c7799f" opacity="0.55"/><circle cx="162" cy="95" r="5.3" fill="#b8608e" opacity="0.74"/><circle cx="166" cy="102" r="4.7" fill="#c7799f" opacity="0.60"/><circle cx="167" cy="75" r="5.1" fill="#c7799f" opacity="0.63"/><circle cx="171" cy="88" r="7.1" fill="#6d4b9c" opacity="0.55"/><circle cx="174" cy="89" r="5.0" fill="#6d4b9c" opacity="0.87"/><circle cx="177" cy="81" r="3.7" fill="#4e2f8a" opacity="0.62"/><circle cx="181" cy="75" r="6.1" fill="#7d58a8" opacity="0.89"/><circle cx="182" cy="93" r="4.3" fill="#7d58a8" opacity="0.59"/><circle cx="188" cy="76" r="7.7" fill="#b8608e" opacity="0.71"/><circle cx="190" cy="80" r="5.2" fill="#b8608e" opacity="0.85"/><circle cx="190" cy="100" r="6.8" fill="#7d58a8" opacity="0.67"/><circle cx="195" cy="90" r="7.0" fill="#7d58a8" opacity="0.95"/><circle cx="196" cy="104" r="3.9" fill="#9a6fb3" opacity="0.73"/><circle cx="202" cy="82" r="4.3" fill="#9a6fb3" opacity="0.94"/><circle cx="206" cy="74" r="7.5" fill="#9a6fb3" opacity="0.58"/><circle cx="208" cy="87" r="7.6" fill="#6d4b9c" opacity="0.88"/><circle cx="212" cy="79" r="7.6" fill="#4e2f8a" opacity="0.84"/><circle cx="212" cy="97" r="4.1" fill="#4e2f8a" opacity="0.80"/><circle cx="216" cy="92" r="3.8" fill="#9a6fb3" opacity="0.59"/><circle cx="223" cy="69" r="7.4" fill="#9a6fb3" opacity="0.75"/><circle cx="221" cy="105" r="4.7" fill="#b8608e" opacity="0.81"/><circle cx="225" cy="99" r="7.7" fill="#6d4b9c" opacity="0.61"/><circle cx="229" cy="91" r="5.3" fill="#c7799f" opacity="0.77"/><circle cx="232" cy="93" r="6.9" fill="#c7799f" opacity="0.76"/><circle cx="236" cy="84" r="3.7" fill="#5e3f95" opacity="0.81"/><circle cx="237" cy="101" r="5.6" fill="#7d58a8" opacity="0.81"/><circle cx="242" cy="87" r="5.6" fill="#7d58a8" opacity="0.82"/><circle cx="245" cy="89" r="6.9" fill="#d88fb0" opacity="0.85"/><circle cx="245" cy="106" r="6.3" fill="#b8608e" opacity="0.63"/><circle cx="250" cy="100" r="7.8" fill="#6d4b9c" opacity="0.59"/><circle cx="254" cy="105" r="6.8" fill="#b8608e" opacity="0.88"/><circle cx="255" cy="82" r="4.7" fill="#b8608e" opacity="0.58"/><circle cx="259" cy="96" r="6.2" fill="#5e3f95" opacity="0.89"/><circle cx="262" cy="91" r="8.0" fill="#6d4b9c" opacity="0.83"/><circle cx="265" cy="93" r="5.8" fill="#7d58a8" opacity="0.81"/><circle cx="268" cy="84" r="7.3" fill="#d88fb0" opacity="0.65"/><circle cx="270" cy="65" r="6.6" fill="#d88fb0" opacity="0.63"/><circle cx="274" cy="88" r="5.4" fill="#b8608e" opacity="0.92"/><circle cx="276" cy="70" r="6.3" fill="#d88fb0" opacity="0.75"/><circle cx="280" cy="77" r="3.8" fill="#c7799f" opacity="0.65"/><circle cx="283" cy="83" r="7.8" fill="#d88fb0" opacity="0.76"/><circle cx="287" cy="92" r="7.5" fill="#6d4b9c" opacity="0.59"/><circle cx="290" cy="98" r="6.4" fill="#7d58a8" opacity="0.62"/><circle cx="293" cy="85" r="5.9" fill="#5e3f95" opacity="0.56"/><circle cx="296" cy="88" r="3.7" fill="#9a6fb3" opacity="0.88"/><circle cx="299" cy="87" r="7.8" fill="#d88fb0" opacity="0.88"/><circle cx="302" cy="89" r="5.6" fill="#4e2f8a" opacity="0.94"/><circle cx="306" cy="104" r="5.2" fill="#9a6fb3" opacity="0.62"/><circle cx="310" cy="108" r="7.1" fill="#d88fb0" opacity="0.69"/><circle cx="311" cy="88" r="5.8" fill="#6d4b9c" opacity="0.59"/><circle cx="314" cy="86" r="7.9" fill="#4e2f8a" opacity="0.60"/><circle cx="317" cy="81" r="6.0" fill="#9a6fb3" opacity="0.66"/><circle cx="321" cy="100" r="7.2" fill="#d88fb0" opacity="0.57"/><circle cx="324" cy="92" r="6.1" fill="#6d4b9c" opacity="0.69"/><circle cx="326" cy="70" r="5.7" fill="#c7799f" opacity="0.89"/><circle cx="328" cy="81" r="5.5" fill="#9a6fb3" opacity="0.85"/><circle cx="334" cy="92" r="7.5" fill="#4e2f8a" opacity="0.71"/><circle cx="336" cy="87" r="7.1" fill="#b8608e" opacity="0.65"/><circle cx="339" cy="86" r="4.7" fill="#d88fb0" opacity="0.64"/><circle cx="345" cy="101" r="5.5" fill="#c7799f" opacity="0.91"/><circle cx="344" cy="81" r="7.4" fill="#7d58a8" opacity="0.68"/><circle cx="349" cy="90" r="7.2" fill="#9a6fb3" opacity="0.56"/><circle cx="350" cy="79" r="6.3" fill="#b8608e" opacity="0.58"/><circle cx="357" cy="92" r="6.4" fill="#c7799f" opacity="0.87"/><circle cx="359" cy="91" r="7.9" fill="#c7799f" opacity="0.71"/><circle cx="360" cy="80" r="7.3" fill="#6d4b9c" opacity="0.77"/><circle cx="364" cy="82" r="7.7" fill="#7d58a8" opacity="0.70"/><circle cx="365" cy="72" r="7.8" fill="#d88fb0" opacity="0.75"/><circle cx="372" cy="87" r="7.6" fill="#6d4b9c" opacity="0.58"/><circle cx="370" cy="64" r="6.7" fill="#9a6fb3" opacity="0.63"/><circle cx="373" cy="65" r="7.1" fill="#7d58a8" opacity="0.66"/><circle cx="380" cy="80" r="6.8" fill="#4e2f8a" opacity="0.68"/><circle cx="384" cy="83" r="5.3" fill="#7d58a8" opacity="0.78"/><circle cx="387" cy="84" r="3.9" fill="#b8608e" opacity="0.90"/><circle cx="388" cy="74" r="6.9" fill="#4e2f8a" opacity="0.83"/><circle cx="393" cy="80" r="5.7" fill="#d88fb0" opacity="0.72"/><circle cx="394" cy="70" r="3.8" fill="#9a6fb3" opacity="0.85"/><circle cx="398" cy="75" r="7.5" fill="#4e2f8a" opacity="0.94"/><circle cx="402" cy="76" r="6.0" fill="#d88fb0" opacity="0.68"/><circle cx="404" cy="70" r="7.6" fill="#b8608e" opacity="0.88"/><circle cx="405" cy="59" r="6.6" fill="#b8608e" opacity="0.85"/><circle cx="410" cy="67" r="4.1" fill="#6d4b9c" opacity="0.78"/><circle cx="417" cy="85" r="7.2" fill="#6d4b9c" opacity="0.71"/><circle cx="413" cy="55" r="7.9" fill="#b8608e" opacity="0.72"/><circle cx="419" cy="68" r="6.4" fill="#5e3f95" opacity="0.87"/><circle cx="422" cy="64" r="7.0" fill="#b8608e" opacity="0.58"/><circle cx="428" cy="77" r="7.9" fill="#c7799f" opacity="0.65"/><circle cx="428" cy="65" r="4.2" fill="#9a6fb3" opacity="0.83"/><circle cx="431" cy="62" r="6.4" fill="#d88fb0" opacity="0.93"/><circle cx="437" cy="72" r="5.7" fill="#b8608e" opacity="0.93"/><circle cx="441" cy="75" r="3.8" fill="#6d4b9c" opacity="0.65"/><circle cx="445" cy="77" r="6.5" fill="#7d58a8" opacity="0.74"/><circle cx="445" cy="67" r="6.4" fill="#7d58a8" opacity="0.63"/><circle cx="446" cy="56" r="3.7" fill="#6d4b9c" opacity="0.60"/><circle cx="453" cy="70" r="5.1" fill="#d88fb0" opacity="0.82"/><circle cx="453" cy="60" r="5.2" fill="#6d4b9c" opacity="0.90"/><circle cx="459" cy="69" r="7.4" fill="#4e2f8a" opacity="0.90"/><circle cx="460" cy="59" r="6.4" fill="#d88fb0" opacity="0.64"/><circle cx="466" cy="70" r="6.2" fill="#c7799f" opacity="0.61"/><circle cx="469" cy="70" r="6.1" fill="#9a6fb3" opacity="0.61"/><circle cx="469" cy="58" r="6.5" fill="#9a6fb3" opacity="0.89"/><circle cx="476" cy="70" r="5.5" fill="#7d58a8" opacity="0.61"/><circle cx="480" cy="75" r="7.4" fill="#4e2f8a" opacity="0.69"/><circle cx="481" cy="64" r="5.8" fill="#c7799f" opacity="0.66"/><circle cx="483" cy="62" r="7.7" fill="#b8608e" opacity="0.91"/><circle cx="484" cy="53" r="7.2" fill="#6d4b9c" opacity="0.58"/><circle cx="490" cy="61" r="5.0" fill="#c7799f" opacity="0.73"/><circle cx="495" cy="70" r="5.1" fill="#9a6fb3" opacity="0.64"/><circle cx="493" cy="50" r="6.4" fill="#6d4b9c" opacity="0.94"/><circle cx="498" cy="56" r="5.7" fill="#5e3f95" opacity="0.70"/><circle cx="176" cy="186" r="3.8" fill="#6d4b9c" opacity="0.87"/><circle cx="178" cy="202" r="6.0" fill="#9a6fb3" opacity="0.70"/><circle cx="182" cy="181" r="4.9" fill="#7d58a8" opacity="0.70"/><circle cx="185" cy="184" r="5.8" fill="#c7799f" opacity="0.70"/><circle cx="188" cy="193" r="6.5" fill="#c7799f" opacity="0.79"/><circle cx="190" cy="215" r="3.5" fill="#b8608e" opacity="0.73"/><circle cx="194" cy="203" r="7.1" fill="#6d4b9c" opacity="0.82"/><circle cx="197" cy="201" r="4.6" fill="#d88fb0" opacity="0.58"/><circle cx="200" cy="199" r="6.3" fill="#d88fb0" opacity="0.61"/><circle cx="203" cy="205" r="6.1" fill="#9a6fb3" opacity="0.71"/><circle cx="206" cy="212" r="3.7" fill="#9a6fb3" opacity="0.82"/><circle cx="209" cy="207" r="7.0" fill="#4e2f8a" opacity="0.95"/><circle cx="213" cy="198" r="6.0" fill="#c7799f" opacity="0.60"/><circle cx="216" cy="208" r="7.6" fill="#5e3f95" opacity="0.67"/><circle cx="218" cy="219" r="5.4" fill="#d88fb0" opacity="0.58"/><circle cx="223" cy="189" r="5.9" fill="#d88fb0" opacity="0.67"/><circle cx="226" cy="194" r="6.4" fill="#d88fb0" opacity="0.64"/><circle cx="228" cy="211" r="5.7" fill="#9a6fb3" opacity="0.89"/><circle cx="232" cy="206" r="4.8" fill="#c7799f" opacity="0.70"/><circle cx="236" cy="189" r="6.2" fill="#4e2f8a" opacity="0.67"/><circle cx="239" cy="188" r="5.7" fill="#d88fb0" opacity="0.90"/><circle cx="241" cy="210" r="7.3" fill="#6d4b9c" opacity="0.69"/><circle cx="245" cy="197" r="7.8" fill="#4e2f8a" opacity="0.90"/><circle cx="248" cy="202" r="7.1" fill="#c7799f" opacity="0.60"/><circle cx="251" cy="190" r="5.3" fill="#6d4b9c" opacity="0.69"/><circle cx="253" cy="210" r="4.1" fill="#9a6fb3" opacity="0.75"/><circle cx="256" cy="220" r="4.7" fill="#6d4b9c" opacity="0.61"/><circle cx="265" cy="213" r="5.5" fill="#b8608e" opacity="0.87"/><circle cx="262" cy="202" r="6.4" fill="#5e3f95" opacity="0.64"/><circle cx="266" cy="203" r="7.7" fill="#6d4b9c" opacity="0.74"/><circle cx="274" cy="210" r="3.8" fill="#b8608e" opacity="0.62"/><circle cx="273" cy="202" r="6.2" fill="#4e2f8a" opacity="0.81"/><circle cx="272" cy="194" r="4.7" fill="#b8608e" opacity="0.63"/><circle cx="272" cy="188" r="6.4" fill="#7d58a8" opacity="0.58"/><circle cx="275" cy="187" r="7.1" fill="#9a6fb3" opacity="0.70"/><circle cx="271" cy="174" r="7.8" fill="#b8608e" opacity="0.80"/><circle cx="288" cy="196" r="4.7" fill="#7d58a8" opacity="0.82"/><circle cx="287" cy="188" r="3.5" fill="#c7799f" opacity="0.93"/><circle cx="288" cy="185" r="7.6" fill="#5e3f95" opacity="0.77"/><circle cx="290" cy="181" r="5.8" fill="#5e3f95" opacity="0.89"/><circle cx="301" cy="193" r="4.9" fill="#9a6fb3" opacity="0.55"/><circle cx="297" cy="181" r="7.4" fill="#9a6fb3" opacity="0.92"/><circle cx="294" cy="169" r="7.9" fill="#6d4b9c" opacity="0.72"/><circle cx="315" cy="199" r="5.8" fill="#9a6fb3" opacity="0.87"/><circle cx="306" cy="177" r="4.4" fill="#6d4b9c" opacity="0.66"/><circle cx="311" cy="180" r="4.6" fill="#6d4b9c" opacity="0.94"/><circle cx="310" cy="172" r="5.2" fill="#6d4b9c" opacity="0.78"/><circle cx="318" cy="179" r="3.6" fill="#5e3f95" opacity="0.89"/><circle cx="313" cy="164" r="5.3" fill="#5e3f95" opacity="0.73"/><circle cx="315" cy="167" r="4.5" fill="#9a6fb3" opacity="0.62"/><circle cx="328" cy="170" r="5.2" fill="#4e2f8a" opacity="0.70"/><circle cx="340" cy="173" r="4.1" fill="#6d4b9c" opacity="0.67"/><circle cx="325" cy="162" r="4.7" fill="#c7799f" opacity="0.79"/><circle cx="324" cy="158" r="6.7" fill="#b8608e" opacity="0.68"/><circle cx="307" cy="146" r="5.3" fill="#4e2f8a" opacity="0.70"/><circle cx="318" cy="148" r="7.5" fill="#d88fb0" opacity="0.74"/><circle cx="322" cy="146" r="4.0" fill="#b8608e" opacity="0.59"/><circle cx="330" cy="147" r="5.8" fill="#9a6fb3" opacity="0.83"/><circle cx="335" cy="145" r="5.3" fill="#5e3f95" opacity="0.58"/><circle cx="339" cy="144" r="7.9" fill="#4e2f8a" opacity="0.74"/><circle cx="337" cy="139" r="6.7" fill="#b8608e" opacity="0.92"/><circle cx="330" cy="132" r="7.2" fill="#6d4b9c" opacity="0.61"/><circle cx="344" cy="136" r="7.8" fill="#5e3f95" opacity="0.78"/><circle cx="339" cy="117" r="3.9" fill="#7d58a8" opacity="0.75"/><circle cx="343" cy="127" r="4.6" fill="#5e3f95" opacity="0.56"/><circle cx="347" cy="136" r="5.2" fill="#4e2f8a" opacity="0.93"/><circle cx="349" cy="132" r="4.6" fill="#d88fb0" opacity="0.87"/><circle cx="352" cy="131" r="3.8" fill="#d88fb0" opacity="0.80"/><circle cx="355" cy="124" r="4.5" fill="#6d4b9c" opacity="0.94"/><circle cx="360" cy="150" r="7.9" fill="#9a6fb3" opacity="0.59"/><circle cx="363" cy="144" r="6.2" fill="#4e2f8a" opacity="0.94"/><circle cx="366" cy="145" r="7.0" fill="#5e3f95" opacity="0.64"/><circle cx="368" cy="128" r="6.9" fill="#5e3f95" opacity="0.84"/><circle cx="371" cy="133" r="6.9" fill="#9a6fb3" opacity="0.64"/><circle cx="373" cy="121" r="7.6" fill="#4e2f8a" opacity="0.78"/><circle cx="376" cy="117" r="6.7" fill="#9a6fb3" opacity="0.73"/><circle cx="380" cy="132" r="4.5" fill="#c7799f" opacity="0.92"/><circle cx="384" cy="139" r="5.0" fill="#9a6fb3" opacity="0.69"/><circle cx="386" cy="118" r="7.2" fill="#9a6fb3" opacity="0.90"/><circle cx="390" cy="140" r="4.4" fill="#c7799f" opacity="0.76"/><circle cx="392" cy="116" r="7.2" fill="#b8608e" opacity="0.61"/><circle cx="395" cy="121" r="4.0" fill="#d88fb0" opacity="0.86"/><circle cx="399" cy="143" r="4.6" fill="#b8608e" opacity="0.75"/><circle cx="401" cy="114" r="6.1" fill="#6d4b9c" opacity="0.58"/><circle cx="405" cy="139" r="7.2" fill="#4e2f8a" opacity="0.85"/><circle cx="407" cy="123" r="6.3" fill="#c7799f" opacity="0.79"/><circle cx="411" cy="128" r="7.2" fill="#d88fb0" opacity="0.62"/><circle cx="414" cy="130" r="5.9" fill="#5e3f95" opacity="0.90"/><circle cx="417" cy="127" r="7.5" fill="#7d58a8" opacity="0.69"/><circle cx="419" cy="123" r="7.2" fill="#4e2f8a" opacity="0.88"/><circle cx="424" cy="128" r="3.7" fill="#7d58a8" opacity="0.73"/><circle cx="427" cy="127" r="4.6" fill="#b8608e" opacity="0.83"/><circle cx="429" cy="122" r="7.4" fill="#5e3f95" opacity="0.62"/><circle cx="430" cy="114" r="4.2" fill="#5e3f95" opacity="0.66"/><circle cx="429" cy="102" r="4.3" fill="#c7799f" opacity="0.57"/><circle cx="441" cy="128" r="6.9" fill="#9a6fb3" opacity="0.92"/><circle cx="444" cy="129" r="4.1" fill="#5e3f95" opacity="0.66"/><circle cx="444" cy="117" r="4.5" fill="#9a6fb3" opacity="0.94"/><circle cx="443" cy="106" r="4.2" fill="#d88fb0" opacity="0.80"/><circle cx="447" cy="108" r="5.0" fill="#d88fb0" opacity="0.88"/><circle cx="448" cy="101" r="7.8" fill="#4e2f8a" opacity="0.90"/><circle cx="461" cy="132" r="3.7" fill="#d88fb0" opacity="0.67"/><circle cx="461" cy="120" r="6.0" fill="#6d4b9c" opacity="0.72"/><circle cx="462" cy="113" r="5.5" fill="#9a6fb3" opacity="0.86"/><circle cx="463" cy="106" r="6.9" fill="#c7799f" opacity="0.75"/><circle cx="461" cy="90" r="6.4" fill="#6d4b9c" opacity="0.82"/><circle cx="472" cy="114" r="7.8" fill="#d88fb0" opacity="0.82"/><circle cx="474" cy="111" r="4.0" fill="#b8608e" opacity="0.59"/><circle cx="477" cy="109" r="6.3" fill="#6d4b9c" opacity="0.85"/><circle cx="476" cy="95" r="6.7" fill="#d88fb0" opacity="0.93"/><circle cx="478" cy="91" r="7.7" fill="#5e3f95" opacity="0.60"/><circle cx="487" cy="110" r="7.0" fill="#6d4b9c" opacity="0.93"/><circle cx="486" cy="97" r="4.9" fill="#5e3f95" opacity="0.92"/><circle cx="488" cy="92" r="3.7" fill="#6d4b9c" opacity="0.56"/><circle cx="490" cy="89" r="6.6" fill="#5e3f95" opacity="0.70"/><circle cx="494" cy="90" r="4.0" fill="#d88fb0" opacity="0.73"/><circle cx="267" cy="205" r="5.8" fill="#b8608e" opacity="0.56"/><circle cx="260" cy="208" r="6.8" fill="#7d58a8" opacity="0.92"/><circle cx="259" cy="211" r="7.2" fill="#5e3f95" opacity="0.95"/><circle cx="257" cy="215" r="7.0" fill="#9a6fb3" opacity="0.92"/><circle cx="254" cy="218" r="5.1" fill="#7d58a8" opacity="0.87"/><circle cx="268" cy="220" r="4.1" fill="#d88fb0" opacity="0.80"/><circle cx="259" cy="224" r="4.1" fill="#5e3f95" opacity="0.69"/><circle cx="275" cy="226" r="7.6" fill="#d88fb0" opacity="0.79"/><circle cx="260" cy="230" r="5.0" fill="#7d58a8" opacity="0.77"/><circle cx="260" cy="233" r="4.9" fill="#5e3f95" opacity="0.86"/><circle cx="267" cy="236" r="7.5" fill="#7d58a8" opacity="0.82"/><circle cx="258" cy="240" r="5.5" fill="#5e3f95" opacity="0.79"/><circle cx="265" cy="242" r="6.3" fill="#5e3f95" opacity="0.56"/><circle cx="259" cy="246" r="4.2" fill="#7d58a8" opacity="0.72"/><circle cx="250" cy="250" r="5.3" fill="#c7799f" opacity="0.71"/><circle cx="253" cy="253" r="6.0" fill="#5e3f95" opacity="0.85"/><circle cx="273" cy="254" r="6.5" fill="#d88fb0" opacity="0.66"/><circle cx="268" cy="258" r="6.8" fill="#6d4b9c" opacity="0.79"/><circle cx="267" cy="261" r="4.0" fill="#5e3f95" opacity="0.78"/><circle cx="255" cy="265" r="5.0" fill="#9a6fb3" opacity="0.85"/><circle cx="267" cy="267" r="5.3" fill="#5e3f95" opacity="0.80"/><circle cx="258" cy="271" r="4.4" fill="#b8608e" opacity="0.83"/><circle cx="272" cy="273" r="4.2" fill="#9a6fb3" opacity="0.93"/><circle cx="259" cy="277" r="7.6" fill="#c7799f" opacity="0.63"/><circle cx="265" cy="280" r="6.6" fill="#4e2f8a" opacity="0.65"/><circle cx="263" cy="282" r="6.3" fill="#b8608e" opacity="0.93"/><circle cx="271" cy="293" r="7.1" fill="#9a6fb3" opacity="0.75"/><circle cx="270" cy="297" r="3.9" fill="#9a6fb3" opacity="0.86"/><circle cx="263" cy="294" r="5.9" fill="#d88fb0" opacity="0.61"/><circle cx="256" cy="293" r="4.9" fill="#6d4b9c" opacity="0.60"/><circle cx="252" cy="293" r="8.0" fill="#9a6fb3" opacity="0.85"/><circle cx="260" cy="305" r="7.1" fill="#d88fb0" opacity="0.87"/><circle cx="250" cy="300" r="5.8" fill="#4e2f8a" opacity="0.59"/><circle cx="242" cy="297" r="4.4" fill="#c7799f" opacity="0.75"/><circle cx="244" cy="303" r="4.8" fill="#6d4b9c" opacity="0.87"/><circle cx="249" cy="311" r="6.2" fill="#b8608e" opacity="0.87"/><circle cx="234" cy="303" r="5.9" fill="#9a6fb3" opacity="0.76"/><circle cx="236" cy="309" r="4.9" fill="#7d58a8" opacity="0.67"/><circle cx="239" cy="315" r="3.9" fill="#9a6fb3" opacity="0.68"/><circle cx="235" cy="316" r="5.0" fill="#b8608e" opacity="0.71"/><circle cx="234" cy="319" r="6.1" fill="#b8608e" opacity="0.61"/><circle cx="231" cy="326" r="5.7" fill="#6d4b9c" opacity="0.77"/><circle cx="227" cy="322" r="8.0" fill="#7d58a8" opacity="0.67"/><circle cx="223" cy="313" r="7.0" fill="#7d58a8" opacity="0.90"/><circle cx="221" cy="321" r="3.8" fill="#9a6fb3" opacity="0.93"/><circle cx="217" cy="314" r="4.5" fill="#7d58a8" opacity="0.59"/><circle cx="216" cy="326" r="5.8" fill="#6d4b9c" opacity="0.85"/><circle cx="213" cy="328" r="4.1" fill="#6d4b9c" opacity="0.83"/><circle cx="210" cy="329" r="4.0" fill="#7d58a8" opacity="0.77"/><circle cx="206" cy="324" r="7.4" fill="#c7799f" opacity="0.76"/><circle cx="205" cy="334" r="5.1" fill="#7d58a8" opacity="0.84"/><circle cx="200" cy="324" r="4.7" fill="#b8608e" opacity="0.71"/><circle cx="199" cy="340" r="4.9" fill="#4e2f8a" opacity="0.83"/><circle cx="194" cy="328" r="7.5" fill="#9a6fb3" opacity="0.79"/><circle cx="190" cy="323" r="4.5" fill="#9a6fb3" opacity="0.66"/><circle cx="188" cy="326" r="4.1" fill="#5e3f95" opacity="0.71"/><circle cx="184" cy="321" r="7.2" fill="#d88fb0" opacity="0.94"/><circle cx="183" cy="332" r="4.0" fill="#7d58a8" opacity="0.86"/><circle cx="181" cy="340" r="7.3" fill="#5e3f95" opacity="0.85"/><circle cx="176" cy="331" r="3.8" fill="#b8608e" opacity="0.58"/><circle cx="171" cy="320" r="5.2" fill="#c7799f" opacity="0.68"/><circle cx="317" cy="170" r="7.5" fill="#b8608e" opacity="0.58"/><circle cx="320" cy="173" r="5.7" fill="#7d58a8" opacity="0.63"/><circle cx="323" cy="176" r="5.9" fill="#4e2f8a" opacity="0.76"/><circle cx="322" cy="179" r="6.2" fill="#7d58a8" opacity="0.64"/><circle cx="313" cy="183" r="4.7" fill="#4e2f8a" opacity="0.63"/><circle cx="334" cy="184" r="5.7" fill="#7d58a8" opacity="0.82"/><circle cx="323" cy="188" r="4.8" fill="#c7799f" opacity="0.70"/><circle cx="315" cy="193" r="4.7" fill="#6d4b9c" opacity="0.76"/><circle cx="325" cy="195" r="5.5" fill="#4e2f8a" opacity="0.94"/><circle cx="311" cy="199" r="6.8" fill="#5e3f95" opacity="0.69"/><circle cx="321" cy="201" r="7.0" fill="#5e3f95" opacity="0.70"/><circle cx="333" cy="203" r="6.0" fill="#b8608e" opacity="0.83"/><circle cx="302" cy="210" r="7.1" fill="#d88fb0" opacity="0.70"/><circle cx="331" cy="210" r="7.0" fill="#4e2f8a" opacity="0.92"/><circle cx="311" cy="215" r="4.5" fill="#5e3f95" opacity="0.93"/><circle cx="314" cy="218" r="5.7" fill="#4e2f8a" opacity="0.60"/><circle cx="339" cy="218" r="7.0" fill="#b8608e" opacity="0.61"/><circle cx="343" cy="221" r="5.0" fill="#7d58a8" opacity="0.91"/><circle cx="328" cy="226" r="3.8" fill="#9a6fb3" opacity="0.79"/><circle cx="315" cy="230" r="7.9" fill="#9a6fb3" opacity="0.71"/><circle cx="336" cy="231" r="4.7" fill="#5e3f95" opacity="0.56"/><circle cx="333" cy="235" r="5.4" fill="#4e2f8a" opacity="0.72"/><circle cx="317" cy="239" r="6.3" fill="#d88fb0" opacity="0.93"/><circle cx="327" cy="242" r="6.4" fill="#6d4b9c" opacity="0.82"/><circle cx="329" cy="244" r="6.3" fill="#5e3f95" opacity="0.85"/><circle cx="325" cy="248" r="7.7" fill="#6d4b9c" opacity="0.65"/><circle cx="327" cy="251" r="6.8" fill="#b8608e" opacity="0.91"/><circle cx="328" cy="254" r="4.5" fill="#4e2f8a" opacity="0.88"/><circle cx="326" cy="257" r="3.7" fill="#4e2f8a" opacity="0.56"/><circle cx="328" cy="259" r="6.3" fill="#b8608e" opacity="0.91"/><circle cx="340" cy="268" r="6.9" fill="#c7799f" opacity="0.58"/><circle cx="318" cy="262" r="7.1" fill="#b8608e" opacity="0.72"/><circle cx="321" cy="266" r="5.8" fill="#d88fb0" opacity="0.85"/><circle cx="317" cy="268" r="3.6" fill="#6d4b9c" opacity="0.59"/><circle cx="328" cy="277" r="5.7" fill="#9a6fb3" opacity="0.89"/><circle cx="324" cy="278" r="5.9" fill="#6d4b9c" opacity="0.58"/><circle cx="308" cy="275" r="4.2" fill="#5e3f95" opacity="0.77"/><circle cx="333" cy="289" r="6.5" fill="#7d58a8" opacity="0.60"/><circle cx="324" cy="289" r="6.2" fill="#7d58a8" opacity="0.91"/><circle cx="318" cy="289" r="6.1" fill="#9a6fb3" opacity="0.58"/><circle cx="323" cy="295" r="8.0" fill="#4e2f8a" opacity="0.93"/><circle cx="331" cy="302" r="6.9" fill="#d88fb0" opacity="0.75"/><circle cx="323" cy="302" r="5.2" fill="#9a6fb3" opacity="0.89"/><circle cx="315" cy="302" r="4.0" fill="#c7799f" opacity="0.56"/><circle cx="304" cy="301" r="5.3" fill="#6d4b9c" opacity="0.65"/><circle cx="304" cy="304" r="4.8" fill="#9a6fb3" opacity="0.60"/><circle cx="309" cy="310" r="7.2" fill="#5e3f95" opacity="0.90"/><circle cx="311" cy="314" r="5.3" fill="#9a6fb3" opacity="0.72"/><circle cx="316" cy="320" r="4.2" fill="#4e2f8a" opacity="0.86"/><circle cx="316" cy="323" r="5.7" fill="#b8608e" opacity="0.64"/><circle cx="308" cy="323" r="4.7" fill="#7d58a8" opacity="0.63"/><circle cx="302" cy="324" r="4.6" fill="#d88fb0" opacity="0.84"/><circle cx="317" cy="334" r="5.9" fill="#4e2f8a" opacity="0.84"/><circle cx="293" cy="331" r="3.6" fill="#7d58a8" opacity="0.81"/><circle cx="289" cy="334" r="4.9" fill="#5e3f95" opacity="0.82"/><circle cx="303" cy="336" r="7.8" fill="#9a6fb3" opacity="0.94"/><circle cx="300" cy="339" r="5.7" fill="#6d4b9c" opacity="0.71"/><circle cx="325" cy="340" r="6.9" fill="#9a6fb3" opacity="0.56"/><circle cx="293" cy="346" r="5.2" fill="#4e2f8a" opacity="0.95"/><circle cx="298" cy="349" r="5.0" fill="#c7799f" opacity="0.71"/><circle cx="307" cy="352" r="3.6" fill="#9a6fb3" opacity="0.69"/><circle cx="304" cy="355" r="4.5" fill="#5e3f95" opacity="0.66"/><circle cx="300" cy="358" r="6.3" fill="#9a6fb3" opacity="0.91"/><circle cx="315" cy="360" r="5.0" fill="#c7799f" opacity="0.93"/><circle cx="297" cy="365" r="4.1" fill="#9a6fb3" opacity="0.93"/><circle cx="299" cy="368" r="5.9" fill="#9a6fb3" opacity="0.91"/><circle cx="299" cy="371" r="5.6" fill="#6d4b9c" opacity="0.64"/><circle cx="305" cy="374" r="5.9" fill="#7d58a8" opacity="0.84"/><circle cx="321" cy="376" r="7.0" fill="#d88fb0" opacity="0.78"/><circle cx="297" cy="381" r="7.1" fill="#b8608e" opacity="0.85"/><circle cx="306" cy="383" r="7.1" fill="#5e3f95" opacity="0.75"/><circle cx="308" cy="386" r="7.6" fill="#5e3f95" opacity="0.83"/><circle cx="308" cy="390" r="7.2" fill="#4e2f8a" opacity="0.94"/><circle cx="303" cy="393" r="4.9" fill="#9a6fb3" opacity="0.84"/><circle cx="313" cy="395" r="3.7" fill="#4e2f8a" opacity="0.58"/><circle cx="323" cy="398" r="5.9" fill="#7d58a8" opacity="0.87"/><circle cx="298" cy="403" r="6.0" fill="#4e2f8a" opacity="0.76"/><circle cx="314" cy="405" r="6.5" fill="#4e2f8a" opacity="0.91"/><circle cx="308" cy="408" r="6.7" fill="#c7799f" opacity="0.60"/><circle cx="312" cy="411" r="7.8" fill="#c7799f" opacity="0.85"/><circle cx="304" cy="415" r="7.5" fill="#4e2f8a" opacity="0.90"/><circle cx="313" cy="418" r="4.1" fill="#7d58a8" opacity="0.78"/><circle cx="303" cy="422" r="7.2" fill="#6d4b9c" opacity="0.90"/><circle cx="322" cy="423" r="3.8" fill="#9a6fb3" opacity="0.58"/><circle cx="330" cy="425" r="4.9" fill="#c7799f" opacity="0.58"/><circle cx="304" cy="431" r="7.5" fill="#d88fb0" opacity="0.83"/><circle cx="314" cy="433" r="6.3" fill="#4e2f8a" opacity="0.69"/><circle cx="286" cy="439" r="4.6" fill="#4e2f8a" opacity="0.83"/><circle cx="416" cy="125" r="7.9" fill="#b8608e" opacity="0.85"/><circle cx="434" cy="126" r="5.6" fill="#4e2f8a" opacity="0.71"/><circle cx="412" cy="132" r="6.1" fill="#9a6fb3" opacity="0.72"/><circle cx="428" cy="134" r="4.3" fill="#b8608e" opacity="0.61"/><circle cx="420" cy="138" r="5.7" fill="#5e3f95" opacity="0.70"/><circle cx="421" cy="141" r="5.5" fill="#7d58a8" opacity="0.92"/><circle cx="423" cy="144" r="3.6" fill="#d88fb0" opacity="0.71"/><circle cx="433" cy="146" r="6.2" fill="#6d4b9c" opacity="0.89"/><circle cx="433" cy="149" r="4.8" fill="#d88fb0" opacity="0.55"/><circle cx="421" cy="153" r="6.1" fill="#c7799f" opacity="0.91"/><circle cx="431" cy="155" r="6.2" fill="#6d4b9c" opacity="0.70"/><circle cx="427" cy="159" r="6.4" fill="#b8608e" opacity="0.88"/><circle cx="419" cy="163" r="5.0" fill="#6d4b9c" opacity="0.67"/><circle cx="422" cy="166" r="4.5" fill="#d88fb0" opacity="0.74"/><circle cx="423" cy="169" r="7.9" fill="#b8608e" opacity="0.70"/><circle cx="432" cy="171" r="7.3" fill="#c7799f" opacity="0.79"/><circle cx="426" cy="175" r="7.0" fill="#9a6fb3" opacity="0.83"/><circle cx="430" cy="178" r="7.4" fill="#6d4b9c" opacity="0.79"/><circle cx="419" cy="182" r="6.7" fill="#4e2f8a" opacity="0.83"/><circle cx="424" cy="185" r="6.6" fill="#4e2f8a" opacity="0.82"/><circle cx="428" cy="188" r="7.0" fill="#4e2f8a" opacity="0.70"/><circle cx="428" cy="191" r="6.2" fill="#4e2f8a" opacity="0.58"/><circle cx="441" cy="192" r="5.6" fill="#4e2f8a" opacity="0.72"/><circle cx="433" cy="196" r="3.5" fill="#5e3f95" opacity="0.77"/><circle cx="431" cy="199" r="3.9" fill="#c7799f" opacity="0.61"/><circle cx="430" cy="205" r="6.4" fill="#b8608e" opacity="0.84"/><circle cx="435" cy="203" r="4.9" fill="#4e2f8a" opacity="0.69"/><circle cx="437" cy="206" r="6.7" fill="#d88fb0" opacity="0.78"/><circle cx="441" cy="205" r="7.9" fill="#6d4b9c" opacity="0.83"/><circle cx="447" cy="204" r="6.0" fill="#9a6fb3" opacity="0.93"/><circle cx="445" cy="211" r="5.7" fill="#b8608e" opacity="0.89"/><circle cx="444" cy="217" r="3.6" fill="#6d4b9c" opacity="0.82"/><circle cx="442" cy="224" r="5.7" fill="#d88fb0" opacity="0.82"/><circle cx="450" cy="218" r="7.2" fill="#9a6fb3" opacity="0.93"/><circle cx="454" cy="219" r="7.0" fill="#d88fb0" opacity="0.56"/><circle cx="458" cy="219" r="6.4" fill="#7d58a8" opacity="0.56"/><circle cx="464" cy="216" r="4.7" fill="#d88fb0" opacity="0.58"/><circle cx="462" cy="224" r="7.4" fill="#5e3f95" opacity="0.58"/><circle cx="462" cy="229" r="6.2" fill="#d88fb0" opacity="0.77"/><circle cx="476" cy="216" r="7.7" fill="#9a6fb3" opacity="0.87"/><circle cx="472" cy="226" r="7.4" fill="#9a6fb3" opacity="0.88"/><circle cx="467" cy="236" r="4.2" fill="#d88fb0" opacity="0.76"/><circle cx="477" cy="230" r="4.7" fill="#b8608e" opacity="0.66"/><circle cx="481" cy="229" r="5.6" fill="#4e2f8a" opacity="0.93"/><circle cx="479" cy="236" r="6.1" fill="#6d4b9c" opacity="0.66"/><circle cx="477" cy="234" r="3.6" fill="#9a6fb3" opacity="0.76"/><circle cx="482" cy="237" r="3.8" fill="#d88fb0" opacity="0.63"/><circle cx="483" cy="232" r="6.2" fill="#5e3f95" opacity="0.62"/><circle cx="492" cy="243" r="6.4" fill="#7d58a8" opacity="0.75"/><circle cx="491" cy="233" r="6.2" fill="#7d58a8" opacity="0.82"/><circle cx="497" cy="239" r="7.2" fill="#5e3f95" opacity="0.57"/><circle cx="494" cy="225" r="5.3" fill="#d88fb0" opacity="0.62"/><circle cx="150" cy="29" r="4.5" fill="#b8608e" opacity="0.60"/><circle cx="154" cy="35" r="6.5" fill="#4e2f8a" opacity="0.56"/><circle cx="156" cy="30" r="4.4" fill="#9a6fb3" opacity="0.74"/><circle cx="158" cy="21" r="4.6" fill="#d88fb0" opacity="0.86"/><circle cx="164" cy="36" r="7.5" fill="#7d58a8" opacity="0.62"/><circle cx="166" cy="28" r="4.7" fill="#9a6fb3" opacity="0.94"/><circle cx="167" cy="18" r="5.0" fill="#d88fb0" opacity="0.62"/><circle cx="171" cy="23" r="7.4" fill="#b8608e" opacity="0.95"/><circle cx="175" cy="25" r="4.1" fill="#7d58a8" opacity="0.69"/><circle cx="180" cy="32" r="7.8" fill="#7d58a8" opacity="0.80"/><circle cx="182" cy="26" r="5.8" fill="#d88fb0" opacity="0.69"/><circle cx="185" cy="26" r="7.7" fill="#d88fb0" opacity="0.90"/><circle cx="186" cy="13" r="7.9" fill="#5e3f95" opacity="0.80"/><circle cx="190" cy="17" r="5.0" fill="#7d58a8" opacity="0.59"/><circle cx="195" cy="27" r="5.2" fill="#c7799f" opacity="0.71"/><circle cx="197" cy="21" r="6.8" fill="#c7799f" opacity="0.70"/><circle cx="201" cy="18" r="6.5" fill="#4e2f8a" opacity="0.77"/><circle cx="203" cy="20" r="7.1" fill="#7d58a8" opacity="0.57"/><circle cx="208" cy="18" r="5.1" fill="#c7799f" opacity="0.74"/><circle cx="211" cy="18" r="4.6" fill="#c7799f" opacity="0.65"/><circle cx="211" cy="26" r="4.7" fill="#9a6fb3" opacity="0.93"/><circle cx="215" cy="26" r="3.8" fill="#c7799f" opacity="0.74"/><circle cx="221" cy="19" r="3.7" fill="#4e2f8a" opacity="0.75"/><circle cx="221" cy="28" r="6.9" fill="#9a6fb3" opacity="0.87"/><circle cx="225" cy="26" r="5.3" fill="#6d4b9c" opacity="0.89"/><circle cx="226" cy="32" r="3.8" fill="#7d58a8" opacity="0.59"/><circle cx="228" cy="35" r="4.3" fill="#4e2f8a" opacity="0.65"/><circle cx="233" cy="32" r="5.6" fill="#7d58a8" opacity="0.79"/><circle cx="234" cy="36" r="6.7" fill="#4e2f8a" opacity="0.79"/><circle cx="239" cy="33" r="6.7" fill="#d88fb0" opacity="0.90"/><circle cx="242" cy="34" r="7.3" fill="#6d4b9c" opacity="0.78"/><circle cx="242" cy="43" r="5.1" fill="#d88fb0" opacity="0.79"/><circle cx="249" cy="34" r="4.7" fill="#b8608e" opacity="0.59"/><circle cx="251" cy="42" r="5.6" fill="#d88fb0" opacity="0.89"/><circle cx="245" cy="27" r="4.1" fill="#4e2f8a" opacity="0.87"/><circle cx="251" cy="30" r="7.2" fill="#4e2f8a" opacity="0.67"/><circle cx="254" cy="30" r="6.4" fill="#7d58a8" opacity="0.90"/><circle cx="256" cy="27" r="5.4" fill="#b8608e" opacity="0.63"/><circle cx="261" cy="30" r="7.4" fill="#c7799f" opacity="0.68"/><circle cx="261" cy="24" r="6.8" fill="#5e3f95" opacity="0.79"/><circle cx="269" cy="30" r="7.0" fill="#b8608e" opacity="0.92"/><circle cx="269" cy="25" r="7.4" fill="#5e3f95" opacity="0.93"/><circle cx="271" cy="22" r="3.9" fill="#7d58a8" opacity="0.89"/><circle cx="276" cy="25" r="6.6" fill="#4e2f8a" opacity="0.92"/><circle cx="271" cy="11" r="4.2" fill="#5e3f95" opacity="0.62"/><circle cx="282" cy="11" r="3.6" fill="#c7799f" opacity="0.80"/><circle cx="284" cy="17" r="4.1" fill="#5e3f95" opacity="0.67"/><circle cx="286" cy="23" r="5.4" fill="#4e2f8a" opacity="0.74"/><circle cx="289" cy="24" r="5.8" fill="#6d4b9c" opacity="0.72"/><circle cx="293" cy="18" r="5.5" fill="#7d58a8" opacity="0.86"/><circle cx="294" cy="29" r="6.3" fill="#d88fb0" opacity="0.56"/><circle cx="300" cy="17" r="6.5" fill="#9a6fb3" opacity="0.92"/><circle cx="301" cy="31" r="8.0" fill="#7d58a8" opacity="0.72"/><circle cx="304" cy="32" r="8.0" fill="#7d58a8" opacity="0.63"/><circle cx="308" cy="28" r="5.1" fill="#b8608e" opacity="0.79"/><circle cx="311" cy="27" r="3.7" fill="#9a6fb3" opacity="0.72"/><circle cx="315" cy="23" r="4.6" fill="#7d58a8" opacity="0.59"/><circle cx="319" cy="21" r="5.7" fill="#6d4b9c" opacity="0.83"/><circle cx="321" cy="28" r="3.6" fill="#6d4b9c" opacity="0.80"/><circle cx="324" cy="29" r="4.5" fill="#d88fb0" opacity="0.91"/><circle cx="326" cy="33" r="6.5" fill="#b8608e" opacity="0.64"/><circle cx="20" cy="331" r="5.6" fill="#d88fb0" opacity="0.92"/><circle cx="23" cy="327" r="7.2" fill="#4e2f8a" opacity="0.82"/><circle cx="26" cy="331" r="3.7" fill="#c7799f" opacity="0.92"/><circle cx="29" cy="333" r="6.6" fill="#4e2f8a" opacity="0.77"/><circle cx="33" cy="330" r="4.8" fill="#d88fb0" opacity="0.68"/><circle cx="36" cy="331" r="3.7" fill="#4e2f8a" opacity="0.70"/><circle cx="39" cy="331" r="8.0" fill="#4e2f8a" opacity="0.86"/><circle cx="42" cy="330" r="5.8" fill="#b8608e" opacity="0.88"/><circle cx="45" cy="333" r="6.5" fill="#b8608e" opacity="0.68"/><circle cx="48" cy="335" r="3.9" fill="#6d4b9c" opacity="0.57"/><circle cx="51" cy="335" r="6.0" fill="#4e2f8a" opacity="0.94"/><circle cx="55" cy="334" r="4.9" fill="#c7799f" opacity="0.63"/><circle cx="59" cy="324" r="4.7" fill="#4e2f8a" opacity="0.58"/><circle cx="61" cy="337" r="5.0" fill="#d88fb0" opacity="0.79"/><circle cx="64" cy="335" r="7.3" fill="#c7799f" opacity="0.79"/><circle cx="68" cy="330" r="6.6" fill="#6d4b9c" opacity="0.91"/><circle cx="70" cy="336" r="4.8" fill="#9a6fb3" opacity="0.92"/><circle cx="74" cy="335" r="6.8" fill="#6d4b9c" opacity="0.63"/><circle cx="77" cy="337" r="7.9" fill="#9a6fb3" opacity="0.80"/><circle cx="80" cy="342" r="6.9" fill="#7d58a8" opacity="0.87"/><circle cx="83" cy="336" r="5.5" fill="#7d58a8" opacity="0.81"/><circle cx="86" cy="334" r="6.2" fill="#c7799f" opacity="0.92"/><circle cx="89" cy="331" r="6.9" fill="#c7799f" opacity="0.70"/><circle cx="93" cy="338" r="7.9" fill="#d88fb0" opacity="0.82"/><circle cx="95" cy="326" r="7.1" fill="#7d58a8" opacity="0.77"/><circle cx="98" cy="332" r="6.1" fill="#6d4b9c" opacity="0.87"/><circle cx="101" cy="326" r="4.5" fill="#4e2f8a" opacity="0.59"/><circle cx="105" cy="332" r="5.9" fill="#b8608e" opacity="0.66"/><circle cx="108" cy="332" r="5.4" fill="#b8608e" opacity="0.73"/><circle cx="110" cy="325" r="4.4" fill="#c7799f" opacity="0.89"/><circle cx="114" cy="330" r="4.0" fill="#c7799f" opacity="0.67"/><circle cx="117" cy="331" r="6.4" fill="#d88fb0" opacity="0.72"/><circle cx="120" cy="328" r="5.4" fill="#6d4b9c" opacity="0.62"/><circle cx="123" cy="333" r="5.5" fill="#d88fb0" opacity="0.87"/><circle cx="126" cy="333" r="7.6" fill="#d88fb0" opacity="0.87"/><circle cx="130" cy="340" r="7.5" fill="#b8608e" opacity="0.63"/><circle cx="133" cy="335" r="7.4" fill="#9a6fb3" opacity="0.65"/><circle cx="136" cy="334" r="5.9" fill="#5e3f95" opacity="0.74"/><circle cx="138" cy="332" r="4.6" fill="#b8608e" opacity="0.87"/><circle cx="142" cy="337" r="4.4" fill="#4e2f8a" opacity="0.75"/><circle cx="144" cy="328" r="4.4" fill="#5e3f95" opacity="0.87"/><circle cx="148" cy="332" r="7.1" fill="#4e2f8a" opacity="0.83"/><circle cx="150" cy="323" r="6.0" fill="#7d58a8" opacity="0.62"/><circle cx="154" cy="330" r="7.5" fill="#6d4b9c" opacity="0.57"/><circle cx="157" cy="329" r="7.4" fill="#9a6fb3" opacity="0.79"/><circle cx="259" cy="302" r="7.9" fill="#5e3f95" opacity="0.58"/><circle cx="264" cy="299" r="7.5" fill="#7d58a8" opacity="0.60"/><circle cx="267" cy="301" r="4.8" fill="#b8608e" opacity="0.57"/><circle cx="268" cy="306" r="5.6" fill="#5e3f95" opacity="0.67"/><circle cx="271" cy="308" r="8.0" fill="#c7799f" opacity="0.68"/><circle cx="274" cy="307" r="5.0" fill="#d88fb0" opacity="0.61"/><circle cx="275" cy="314" r="7.4" fill="#c7799f" opacity="0.66"/><circle cx="280" cy="311" r="5.3" fill="#c7799f" opacity="0.76"/><circle cx="284" cy="309" r="6.4" fill="#d88fb0" opacity="0.60"/><circle cx="284" cy="316" r="6.3" fill="#4e2f8a" opacity="0.94"/><circle cx="291" cy="309" r="5.3" fill="#9a6fb3" opacity="0.92"/><circle cx="292" cy="314" r="5.3" fill="#6d4b9c" opacity="0.77"/><circle cx="295" cy="315" r="4.5" fill="#c7799f" opacity="0.59"/><circle cx="297" cy="319" r="5.7" fill="#9a6fb3" opacity="0.90"/><circle cx="298" cy="324" r="3.9" fill="#7d58a8" opacity="0.69"/><circle cx="303" cy="321" r="4.1" fill="#b8608e" opacity="0.84"/><circle cx="305" cy="324" r="6.7" fill="#4e2f8a" opacity="0.76"/><circle cx="310" cy="321" r="6.6" fill="#5e3f95" opacity="0.80"/><circle cx="312" cy="324" r="7.6" fill="#c7799f" opacity="0.90"/><circle cx="313" cy="330" r="4.6" fill="#c7799f" opacity="0.76"/><circle cx="318" cy="325" r="5.0" fill="#5e3f95" opacity="0.58"/><circle cx="325" cy="318" r="7.9" fill="#c7799f" opacity="0.72"/><circle cx="324" cy="327" r="4.5" fill="#9a6fb3" opacity="0.66"/><circle cx="328" cy="327" r="6.0" fill="#b8608e" opacity="0.69"/><circle cx="329" cy="334" r="7.2" fill="#c7799f" opacity="0.91"/><circle cx="334" cy="328" r="7.5" fill="#d88fb0" opacity="0.92"/><circle cx="340" cy="323" r="6.8" fill="#b8608e" opacity="0.90"/><circle cx="340" cy="331" r="7.7" fill="#9a6fb3" opacity="0.94"/><circle cx="346" cy="324" r="6.4" fill="#4e2f8a" opacity="0.84"/><circle cx="343" cy="340" r="6.2" fill="#b8608e" opacity="0.63"/><circle cx="348" cy="337" r="7.5" fill="#c7799f" opacity="0.73"/><circle cx="349" cy="342" r="4.8" fill="#c7799f" opacity="0.58"/><circle cx="357" cy="330" r="7.3" fill="#5e3f95" opacity="0.72"/><circle cx="355" cy="345" r="6.3" fill="#4e2f8a" opacity="0.59"/><circle cx="362" cy="336" r="5.1" fill="#9a6fb3" opacity="0.83"/><circle cx="361" cy="346" r="7.0" fill="#d88fb0" opacity="0.63"/><circle cx="363" cy="349" r="4.7" fill="#4e2f8a" opacity="0.56"/><circle cx="367" cy="349" r="6.1" fill="#5e3f95" opacity="0.57"/><circle cx="372" cy="343" r="7.2" fill="#c7799f" opacity="0.82"/><circle cx="377" cy="341" r="7.0" fill="#7d58a8" opacity="0.63"/><circle cx="377" cy="350" r="6.9" fill="#5e3f95" opacity="0.91"/><circle cx="332" cy="254" r="7.5" fill="#c7799f" opacity="0.74"/><circle cx="333" cy="261" r="4.0" fill="#b8608e" opacity="0.57"/><circle cx="337" cy="259" r="5.8" fill="#4e2f8a" opacity="0.57"/><circle cx="339" cy="264" r="5.2" fill="#5e3f95" opacity="0.57"/><circle cx="341" cy="267" r="5.3" fill="#7d58a8" opacity="0.93"/><circle cx="348" cy="258" r="7.2" fill="#7d58a8" opacity="0.73"/><circle cx="346" cy="270" r="4.4" fill="#9a6fb3" opacity="0.64"/><circle cx="353" cy="263" r="6.2" fill="#7d58a8" opacity="0.78"/><circle cx="354" cy="269" r="7.9" fill="#7d58a8" opacity="0.59"/><circle cx="356" cy="272" r="3.7" fill="#c7799f" opacity="0.67"/><circle cx="360" cy="271" r="4.3" fill="#6d4b9c" opacity="0.62"/><circle cx="358" cy="285" r="7.3" fill="#5e3f95" opacity="0.75"/><circle cx="363" cy="279" r="3.6" fill="#4e2f8a" opacity="0.60"/><circle cx="367" cy="279" r="5.3" fill="#6d4b9c" opacity="0.71"/><circle cx="371" cy="277" r="3.6" fill="#b8608e" opacity="0.74"/><circle cx="373" cy="279" r="4.2" fill="#c7799f" opacity="0.63"/><circle cx="376" cy="281" r="6.4" fill="#5e3f95" opacity="0.84"/><circle cx="380" cy="280" r="7.3" fill="#5e3f95" opacity="0.87"/><circle cx="384" cy="277" r="6.3" fill="#9a6fb3" opacity="0.72"/><circle cx="388" cy="277" r="4.9" fill="#b8608e" opacity="0.80"/><circle cx="386" cy="290" r="6.1" fill="#b8608e" opacity="0.76"/><circle cx="393" cy="282" r="5.1" fill="#b8608e" opacity="0.95"/><circle cx="397" cy="288" r="3.7" fill="#b8608e" opacity="0.63"/><circle cx="396" cy="281" r="6.9" fill="#7d58a8" opacity="0.72"/><circle cx="405" cy="291" r="5.2" fill="#9a6fb3" opacity="0.57"/><circle cx="401" cy="278" r="7.5" fill="#c7799f" opacity="0.56"/><circle cx="405" cy="277" r="4.9" fill="#5e3f95" opacity="0.73"/><circle cx="409" cy="279" r="5.1" fill="#9a6fb3" opacity="0.58"/><circle cx="413" cy="280" r="7.2" fill="#b8608e" opacity="0.88"/><circle cx="415" cy="277" r="4.8" fill="#9a6fb3" opacity="0.60"/><circle cx="417" cy="275" r="4.4" fill="#5e3f95" opacity="0.67"/><circle cx="419" cy="272" r="6.0" fill="#4e2f8a" opacity="0.73"/><circle cx="427" cy="279" r="4.2" fill="#d88fb0" opacity="0.87"/><circle cx="427" cy="274" r="5.2" fill="#d88fb0" opacity="0.62"/><circle cx="425" cy="264" r="6.0" fill="#7d58a8" opacity="0.81"/><circle cx="425" cy="259" r="3.6" fill="#7d58a8" opacity="0.82"/><circle cx="432" cy="265" r="7.2" fill="#c7799f" opacity="0.75"/><circle cx="434" cy="262" r="6.7" fill="#9a6fb3" opacity="0.68"/><circle cx="438" cy="263" r="4.6" fill="#c7799f" opacity="0.80"/><circle cx="251" cy="40" r="4.8" fill="#6d4b9c" opacity="0.66"/><circle cx="249" cy="44" r="4.4" fill="#9a6fb3" opacity="0.70"/><circle cx="252" cy="46" r="6.8" fill="#d88fb0" opacity="0.65"/><circle cx="250" cy="50" r="5.5" fill="#5e3f95" opacity="0.94"/><circle cx="255" cy="52" r="6.8" fill="#c7799f" opacity="0.85"/><circle cx="251" cy="56" r="7.4" fill="#d88fb0" opacity="0.67"/><circle cx="252" cy="59" r="7.2" fill="#6d4b9c" opacity="0.88"/><circle cx="256" cy="61" r="5.6" fill="#7d58a8" opacity="0.73"/><circle cx="252" cy="66" r="7.3" fill="#6d4b9c" opacity="0.85"/><circle cx="259" cy="67" r="7.6" fill="#c7799f" opacity="0.95"/><circle cx="256" cy="71" r="4.8" fill="#b8608e" opacity="0.81"/><circle cx="259" cy="74" r="7.4" fill="#6d4b9c" opacity="0.79"/><circle cx="256" cy="78" r="5.3" fill="#4e2f8a" opacity="0.76"/><circle cx="257" cy="81" r="3.9" fill="#5e3f95" opacity="0.64"/><circle cx="258" cy="84" r="7.8" fill="#4e2f8a" opacity="0.70"/><circle cx="260" cy="87" r="7.1" fill="#6d4b9c" opacity="0.64"/><circle cx="343" cy="29" r="6.1" fill="#9a6fb3" opacity="0.79"/><circle cx="338" cy="34" r="4.1" fill="#5e3f95" opacity="0.71"/><circle cx="334" cy="38" r="7.8" fill="#6d4b9c" opacity="0.65"/><circle cx="334" cy="41" r="7.6" fill="#c7799f" opacity="0.82"/><circle cx="346" cy="42" r="4.2" fill="#b8608e" opacity="0.83"/><circle cx="341" cy="46" r="4.8" fill="#6d4b9c" opacity="0.87"/><circle cx="349" cy="48" r="4.0" fill="#7d58a8" opacity="0.92"/><circle cx="346" cy="51" r="5.4" fill="#6d4b9c" opacity="0.56"/><circle cx="350" cy="54" r="7.3" fill="#9a6fb3" opacity="0.81"/><circle cx="344" cy="58" r="4.7" fill="#9a6fb3" opacity="0.74"/><circle cx="358" cy="59" r="5.8" fill="#9a6fb3" opacity="0.65"/><circle cx="350" cy="64" r="6.0" fill="#b8608e" opacity="0.86"/><circle cx="346" cy="68" r="7.4" fill="#9a6fb3" opacity="0.85"/><circle cx="349" cy="70" r="3.6" fill="#d88fb0" opacity="0.70"/><circle cx="345" cy="74" r="5.1" fill="#9a6fb3" opacity="0.88"/><circle cx="347" cy="77" r="4.0" fill="#d88fb0" opacity="0.72"/><circle cx="446" cy="21" r="6.9" fill="#c7799f" opacity="0.77"/><circle cx="435" cy="22" r="7.5" fill="#c7799f" opacity="0.61"/><circle cx="444" cy="27" r="7.8" fill="#c7799f" opacity="0.76"/><circle cx="438" cy="29" r="4.7" fill="#9a6fb3" opacity="0.59"/><circle cx="439" cy="33" r="4.7" fill="#b8608e" opacity="0.77"/><circle cx="443" cy="37" r="6.4" fill="#7d58a8" opacity="0.91"/><circle cx="437" cy="39" r="6.0" fill="#c7799f" opacity="0.81"/><circle cx="441" cy="43" r="4.5" fill="#b8608e" opacity="0.82"/><circle cx="434" cy="45" r="7.6" fill="#4e2f8a" opacity="0.80"/><circle cx="434" cy="48" r="7.1" fill="#6d4b9c" opacity="0.68"/><circle cx="434" cy="51" r="7.5" fill="#9a6fb3" opacity="0.75"/><circle cx="434" cy="55" r="4.1" fill="#7d58a8" opacity="0.70"/><circle cx="425" cy="56" r="6.5" fill="#d88fb0" opacity="0.92"/><circle cx="429" cy="60" r="4.5" fill="#7d58a8" opacity="0.66"/><circle cx="432" cy="64" r="5.5" fill="#5e3f95" opacity="0.75"/><circle cx="428" cy="66" r="3.6" fill="#4e2f8a" opacity="0.92"/></g>
<polygon points="300,440 330,380 380,320 440,280 475,258 485,290 430,335 385,392 350,440" fill="#c36f95"/>
<polygon points="340,420 385,350 440,300 460,290 420,340 370,410" fill="#d88fb0"/>
<path d="M300,440 L330,380 L380,320 L440,280 L475,258" fill="none" stroke="#6d4b9c" stroke-width="7" stroke-dasharray="8 6"/>
</g></g>
<line x1="262.00" y1="181.60" x2="269.00" y2="181.60" stroke="#999" stroke-width="0.6"/>
<text x="258.20" y="191.80" font-size="7.6" fill="#111" font-weight="bold" textLength="17.30" lengthAdjust="spacingAndGlyphs">60μM</text>
<text x="195.80" y="246.10" font-size="12" fill="#000" font-weight="bold">L</text>
<text x="226.60" y="249.60" font-size="7" textLength="10.30" lengthAdjust="spacingAndGlyphs">WT</text>
<text x="254.30" y="249.60" font-size="7" textLength="38.60" lengthAdjust="spacingAndGlyphs">Ythdc1 HET</text>
<text x="297.00" y="249.60" font-size="7" textLength="36.00" lengthAdjust="spacingAndGlyphs">Ythdc1 KO</text>
<g>
<ellipse cx="232.8" cy="272.5" rx="7.475" ry="15.400000000000002" fill="#8fa0e8" opacity="0.35" filter="url(#blur2)"/>
<ellipse cx="232.8" cy="273.0" rx="4.875" ry="11.200000000000001" fill="#3450d0" opacity="0.50" filter="url(#blur2)"/>
<path d="M228.8 279.3h.7v.7h-.7zM232.9 264.9h.7v.7h-.7zM231.4 273.2h.7v.7h-.7zM230.0 276.3h.7v.7h-.7zM232.8 280.1h.7v.7h-.7zM232.9 274.1h.7v.7h-.7zM231.7 278.9h.7v.7h-.7zM233.2 271.0h.7v.7h-.7zM234.4 264.9h.7v.7h-.7zM235.0 273.1h.7v.7h-.7zM233.5 272.1h.7v.7h-.7zM230.9 263.1h.7v.7h-.7zM232.6 286.4h.7v.7h-.7zM237.8 266.9h.7v.7h-.7zM231.6 279.3h.7v.7h-.7zM230.3 269.6h.7v.7h-.7zM229.3 282.5h.7v.7h-.7zM232.3 270.9h.7v.7h-.7zM229.7 274.6h.7v.7h-.7zM231.0 262.1h.7v.7h-.7zM235.5 267.2h.7v.7h-.7zM229.0 274.0h.7v.7h-.7zM232.9 270.8h.7v.7h-.7zM234.1 269.1h.7v.7h-.7zM232.3 284.4h.7v.7h-.7zM231.1 275.8h.7v.7h-.7zM231.7 281.3h.7v.7h-.7zM236.9 271.4h.7v.7h-.7zM233.0 284.7h.7v.7h-.7zM229.8 281.2h.7v.7h-.7zM232.2 263.6h.7v.7h-.7zM234.5 285.8h.7v.7h-.7zM236.3 275.1h.7v.7h-.7zM235.3 268.5h.7v.7h-.7zM229.3 265.6h.7v.7h-.7zM233.2 277.5h.7v.7h-.7zM227.5 276.3h.7v.7h-.7zM229.1 278.2h.7v.7h-.7zM232.9 273.7h.7v.7h-.7zM234.4 272.5h.7v.7h-.7zM233.9 271.0h.7v.7h-.7zM232.4 268.3h.7v.7h-.7zM229.2 270.7h.7v.7h-.7zM232.9 271.0h.7v.7h-.7zM233.9 268.5h.7v.7h-.7zM230.8 279.3h.7v.7h-.7zM228.4 262.3h.7v.7h-.7zM233.0 276.4h.7v.7h-.7zM236.6 278.3h.7v.7h-.7zM232.1 267.8h.7v.7h-.7zM229.2 275.0h.7v.7h-.7zM230.0 268.3h.7v.7h-.7zM237.3 268.2h.7v.7h-.7zM231.2 283.2h.7v.7h-.7zM233.2 272.5h.7v.7h-.7zM233.9 285.1h.7v.7h-.7zM231.9 268.6h.7v.7h-.7zM232.1 283.3h.7v.7h-.7zM235.1 267.8h.7v.7h-.7zM229.5 269.1h.7v.7h-.7zM235.3 280.7h.7v.7h-.7zM232.8 266.3h.7v.7h-.7zM232.4 273.6h.7v.7h-.7zM234.8 269.9h.7v.7h-.7zM229.9 280.4h.7v.7h-.7zM232.6 277.6h.7v.7h-.7zM233.7 276.2h.7v.7h-.7zM237.9 275.2h.7v.7h-.7zM230.4 276.1h.7v.7h-.7zM232.3 269.4h.7v.7h-.7zM235.0 285.1h.7v.7h-.7zM230.3 275.5h.7v.7h-.7zM229.8 273.9h.7v.7h-.7zM234.1 273.0h.7v.7h-.7zM230.5 279.5h.7v.7h-.7zM233.6 267.1h.7v.7h-.7zM232.4 273.0h.7v.7h-.7zM233.6 275.4h.7v.7h-.7zM233.3 277.5h.7v.7h-.7zM233.6 269.4h.7v.7h-.7zM238.1 273.1h.7v.7h-.7zM231.3 278.3h.7v.7h-.7zM231.5 277.4h.7v.7h-.7zM233.0 269.3h.7v.7h-.7zM232.9 273.5h.7v.7h-.7zM237.2 269.8h.7v.7h-.7zM233.9 271.5h.7v.7h-.7zM237.0 274.6h.7v.7h-.7zM231.2 262.2h.7v.7h-.7zM236.9 272.0h.7v.7h-.7zM234.1 272.6h.7v.7h-.7zM232.5 280.1h.7v.7h-.7zM235.6 270.3h.7v.7h-.7zM228.0 281.0h.7v.7h-.7zM236.6 268.1h.7v.7h-.7zM231.3 268.2h.7v.7h-.7zM234.1 272.6h.7v.7h-.7zM233.3 275.0h.7v.7h-.7zM238.7 269.4h.7v.7h-.7zM231.4 275.1h.7v.7h-.7zM231.6 273.3h.7v.7h-.7zM237.3 278.1h.7v.7h-.7zM230.4 275.2h.7v.7h-.7zM231.7 275.5h.7v.7h-.7zM233.3 278.5h.7v.7h-.7zM227.8 272.2h.7v.7h-.7zM233.6 268.8h.7v.7h-.7zM230.5 269.9h.7v.7h-.7zM231.8 284.9h.7v.7h-.7zM230.8 259.3h.7v.7h-.7zM234.8 267.5h.7v.7h-.7zM233.4 282.5h.7v.7h-.7zM232.3 270.2h.7v.7h-.7zM234.0 274.8h.7v.7h-.7zM230.1 275.9h.7v.7h-.7zM231.2 268.6h.7v.7h-.7zM232.0 264.4h.7v.7h-.7zM235.0 262.6h.7v.7h-.7zM236.5 273.1h.7v.7h-.7zM236.0 273.6h.7v.7h-.7zM232.0 271.2h.7v.7h-.7zM227.4 269.1h.7v.7h-.7zM228.3 281.7h.7v.7h-.7zM231.9 268.6h.7v.7h-.7zM236.8 274.3h.7v.7h-.7zM234.1 282.5h.7v.7h-.7zM236.3 267.6h.7v.7h-.7zM231.9 272.2h.7v.7h-.7zM228.8 276.0h.7v.7h-.7zM226.9 274.7h.7v.7h-.7zM229.3 270.2h.7v.7h-.7zM232.3 279.3h.7v.7h-.7zM233.7 268.7h.7v.7h-.7zM236.9 283.2h.7v.7h-.7zM235.4 279.4h.7v.7h-.7zM234.5 276.8h.7v.7h-.7zM232.5 272.5h.7v.7h-.7zM233.1 271.2h.7v.7h-.7zM236.9 270.6h.7v.7h-.7zM231.4 267.9h.7v.7h-.7zM227.4 275.8h.7v.7h-.7zM231.6 264.7h.7v.7h-.7zM228.7 273.6h.7v.7h-.7zM234.3 271.8h.7v.7h-.7zM235.9 281.1h.7v.7h-.7zM231.8 284.1h.7v.7h-.7zM235.4 277.9h.7v.7h-.7zM236.6 269.4h.7v.7h-.7zM232.8 272.2h.7v.7h-.7zM233.8 266.8h.7v.7h-.7zM228.2 274.7h.7v.7h-.7zM230.1 268.4h.7v.7h-.7zM232.9 278.1h.7v.7h-.7zM229.4 282.2h.7v.7h-.7zM232.5 280.3h.7v.7h-.7zM236.2 262.8h.7v.7h-.7zM234.7 271.0h.7v.7h-.7zM232.1 266.0h.7v.7h-.7zM235.2 266.8h.7v.7h-.7zM229.9 278.5h.7v.7h-.7zM230.1 281.8h.7v.7h-.7zM228.1 272.2h.7v.7h-.7zM230.2 267.6h.7v.7h-.7zM228.8 279.3h.7v.7h-.7zM230.8 267.4h.7v.7h-.7zM237.1 280.1h.7v.7h-.7zM233.0 270.4h.7v.7h-.7zM229.4 272.3h.7v.7h-.7zM232.3 271.7h.7v.7h-.7zM231.4 282.6h.7v.7h-.7zM228.4 268.9h.7v.7h-.7zM238.9 276.3h.7v.7h-.7zM235.0 284.3h.7v.7h-.7zM236.0 266.8h.7v.7h-.7zM236.6 277.5h.7v.7h-.7zM230.5 274.7h.7v.7h-.7zM236.9 273.5h.7v.7h-.7zM226.9 276.0h.7v.7h-.7zM232.1 273.5h.7v.7h-.7zM230.7 268.1h.7v.7h-.7zM227.2 273.4h.7v.7h-.7zM231.3 269.5h.7v.7h-.7zM231.1 268.2h.7v.7h-.7zM234.1 275.0h.7v.7h-.7zM237.5 265.0h.7v.7h-.7zM227.5 270.3h.7v.7h-.7zM234.6 278.0h.7v.7h-.7zM233.9 276.1h.7v.7h-.7zM233.7 283.2h.7v.7h-.7zM232.0 281.9h.7v.7h-.7zM231.5 274.3h.7v.7h-.7zM234.5 278.3h.7v.7h-.7zM234.2 269.4h.7v.7h-.7zM229.7 275.8h.7v.7h-.7zM237.6 275.1h.7v.7h-.7zM234.1 284.5h.7v.7h-.7zM235.8 269.6h.7v.7h-.7zM231.4 278.7h.7v.7h-.7zM230.9 272.7h.7v.7h-.7zM233.0 276.4h.7v.7h-.7zM233.8 278.9h.7v.7h-.7zM234.6 259.5h.7v.7h-.7zM233.0 274.9h.7v.7h-.7zM233.4 277.9h.7v.7h-.7zM233.2 273.9h.7v.7h-.7zM227.8 272.1h.7v.7h-.7zM229.9 268.9h.7v.7h-.7zM232.1 282.3h.7v.7h-.7zM236.8 266.9h.7v.7h-.7zM232.6 270.0h.7v.7h-.7zM234.0 268.5h.7v.7h-.7zM235.4 263.3h.7v.7h-.7zM227.6 272.0h.7v.7h-.7zM230.3 284.5h.7v.7h-.7zM233.2 275.4h.7v.7h-.7zM233.5 265.9h.7v.7h-.7zM233.6 280.8h.7v.7h-.7zM234.9 277.4h.7v.7h-.7zM232.3 273.7h.7v.7h-.7zM235.3 283.1h.7v.7h-.7zM233.4 279.2h.7v.7h-.7zM234.4 271.1h.7v.7h-.7zM227.3 277.3h.7v.7h-.7zM234.0 267.8h.7v.7h-.7zM235.5 269.4h.7v.7h-.7zM231.8 281.4h.7v.7h-.7zM229.7 268.1h.7v.7h-.7zM226.5 270.0h.7v.7h-.7zM234.7 271.4h.7v.7h-.7zM232.6 269.4h.7v.7h-.7zM232.3 270.6h.7v.7h-.7zM230.4 269.0h.7v.7h-.7zM235.3 268.8h.7v.7h-.7zM232.8 263.9h.7v.7h-.7zM231.5 277.8h.7v.7h-.7zM231.2 273.7h.7v.7h-.7zM227.3 269.1h.7v.7h-.7zM231.4 281.9h.7v.7h-.7zM234.3 274.5h.7v.7h-.7zM236.1 262.9h.7v.7h-.7zM234.9 279.6h.7v.7h-.7zM234.3 276.8h.7v.7h-.7zM232.6 269.7h.7v.7h-.7zM229.4 278.4h.7v.7h-.7zM232.3 273.5h.7v.7h-.7zM229.1 278.8h.7v.7h-.7zM230.4 279.8h.7v.7h-.7zM230.9 278.3h.7v.7h-.7zM226.7 270.6h.7v.7h-.7zM235.0 272.3h.7v.7h-.7zM229.0 273.6h.7v.7h-.7zM232.3 270.8h.7v.7h-.7zM233.4 268.1h.7v.7h-.7zM232.5 272.2h.7v.7h-.7zM232.2 281.1h.7v.7h-.7zM231.4 264.4h.7v.7h-.7zM230.6 268.4h.7v.7h-.7zM232.6 263.2h.7v.7h-.7zM232.5 276.6h.7v.7h-.7zM232.7 283.9h.7v.7h-.7zM235.4 267.7h.7v.7h-.7zM230.3 280.7h.7v.7h-.7zM230.6 284.6h.7v.7h-.7zM234.4 260.3h.7v.7h-.7zM229.1 272.5h.7v.7h-.7zM233.3 269.1h.7v.7h-.7zM233.1 271.3h.7v.7h-.7zM232.2 261.1h.7v.7h-.7zM235.5 261.4h.7v.7h-.7zM229.0 270.7h.7v.7h-.7zM231.4 271.9h.7v.7h-.7zM232.4 277.4h.7v.7h-.7zM236.5 272.3h.7v.7h-.7zM236.4 263.5h.7v.7h-.7zM234.8 280.7h.7v.7h-.7zM231.4 264.3h.7v.7h-.7zM231.6 265.6h.7v.7h-.7zM234.4 276.5h.7v.7h-.7zM233.7 260.2h.7v.7h-.7zM228.2 274.9h.7v.7h-.7zM236.3 264.5h.7v.7h-.7zM231.6 274.5h.7v.7h-.7zM231.7 276.4h.7v.7h-.7zM236.6 270.5h.7v.7h-.7zM232.1 267.8h.7v.7h-.7zM236.2 268.3h.7v.7h-.7zM232.5 282.7h.7v.7h-.7zM232.3 277.9h.7v.7h-.7zM235.2 261.5h.7v.7h-.7zM235.3 273.3h.7v.7h-.7zM233.8 269.4h.7v.7h-.7zM230.9 263.7h.7v.7h-.7zM231.7 263.1h.7v.7h-.7zM234.3 267.6h.7v.7h-.7zM235.1 272.0h.7v.7h-.7zM233.4 266.2h.7v.7h-.7zM238.2 278.5h.7v.7h-.7zM232.5 270.1h.7v.7h-.7zM228.2 268.8h.7v.7h-.7zM231.2 277.2h.7v.7h-.7zM234.3 270.7h.7v.7h-.7zM234.2 272.4h.7v.7h-.7zM228.6 269.9h.7v.7h-.7zM234.9 273.2h.7v.7h-.7zM230.8 278.0h.7v.7h-.7zM233.1 278.4h.7v.7h-.7zM233.9 276.8h.7v.7h-.7zM232.6 278.9h.7v.7h-.7zM232.7 271.0h.7v.7h-.7zM234.6 275.9h.7v.7h-.7zM231.9 271.7h.7v.7h-.7zM231.3 272.0h.7v.7h-.7zM233.8 272.2h.7v.7h-.7zM235.1 277.0h.7v.7h-.7zM230.8 269.1h.7v.7h-.7zM236.8 271.3h.7v.7h-.7zM231.9 278.7h.7v.7h-.7zM230.6 277.4h.7v.7h-.7zM229.8 266.3h.7v.7h-.7zM232.0 265.7h.7v.7h-.7zM229.4 266.6h.7v.7h-.7zM232.7 268.2h.7v.7h-.7zM234.7 264.4h.7v.7h-.7zM236.8 271.4h.7v.7h-.7zM233.7 269.8h.7v.7h-.7zM229.1 267.5h.7v.7h-.7zM229.0 278.7h.7v.7h-.7zM233.3 278.4h.7v.7h-.7zM237.8 281.1h.7v.7h-.7zM231.3 276.0h.7v.7h-.7zM230.6 276.2h.7v.7h-.7zM237.4 279.8h.7v.7h-.7zM233.4 269.2h.7v.7h-.7zM237.7 271.2h.7v.7h-.7zM232.5 271.8h.7v.7h-.7zM230.9 281.3h.7v.7h-.7zM228.6 274.2h.7v.7h-.7zM231.6 279.1h.7v.7h-.7zM233.8 280.0h.7v.7h-.7zM232.7 272.4h.7v.7h-.7zM233.9 275.4h.7v.7h-.7zM235.0 269.1h.7v.7h-.7zM230.6 281.1h.7v.7h-.7zM230.7 274.7h.7v.7h-.7zM236.9 273.1h.7v.7h-.7zM237.0 279.1h.7v.7h-.7zM233.8 279.5h.7v.7h-.7zM238.9 269.0h.7v.7h-.7zM228.2 269.4h.7v.7h-.7zM234.2 282.3h.7v.7h-.7zM236.6 277.2h.7v.7h-.7zM237.6 266.5h.7v.7h-.7zM231.1 274.7h.7v.7h-.7zM234.4 277.6h.7v.7h-.7zM227.5 265.7h.7v.7h-.7zM233.6 264.5h.7v.7h-.7zM230.7 271.7h.7v.7h-.7zM231.5 263.7h.7v.7h-.7zM231.3 274.6h.7v.7h-.7zM233.3 273.8h.7v.7h-.7zM237.4 277.4h.7v.7h-.7zM230.3 274.2h.7v.7h-.7zM232.0 285.4h.7v.7h-.7zM233.1 279.5h.7v.7h-.7zM233.0 271.9h.7v.7h-.7zM234.9 269.7h.7v.7h-.7zM230.6 265.3h.7v.7h-.7zM227.8 269.2h.7v.7h-.7zM232.2 267.4h.7v.7h-.7zM235.6 279.9h.7v.7h-.7zM230.8 263.2h.7v.7h-.7zM232.5 277.6h.7v.7h-.7zM232.1 278.3h.7v.7h-.7zM235.3 264.4h.7v.7h-.7zM230.0 270.9h.7v.7h-.7zM234.2 264.7h.7v.7h-.7zM235.5 276.0h.7v.7h-.7zM238.1 276.4h.7v.7h-.7zM235.9 277.8h.7v.7h-.7zM228.5 274.4h.7v.7h-.7zM234.4 270.5h.7v.7h-.7zM235.1 269.2h.7v.7h-.7zM234.1 274.7h.7v.7h-.7zM237.9 276.7h.7v.7h-.7zM235.9 274.9h.7v.7h-.7zM230.6 264.6h.7v.7h-.7zM236.8 275.8h.7v.7h-.7zM231.7 273.0h.7v.7h-.7zM236.6 264.7h.7v.7h-.7zM235.4 278.5h.7v.7h-.7zM236.0 272.9h.7v.7h-.7zM230.9 275.1h.7v.7h-.7zM236.4 267.5h.7v.7h-.7zM230.9 274.7h.7v.7h-.7zM238.9 269.3h.7v.7h-.7zM228.6 263.7h.7v.7h-.7zM234.5 284.8h.7v.7h-.7zM235.9 283.4h.7v.7h-.7zM235.0 272.6h.7v.7h-.7zM236.7 283.5h.7v.7h-.7zM230.1 275.4h.7v.7h-.7zM236.1 279.9h.7v.7h-.7zM232.8 276.1h.7v.7h-.7zM229.7 273.1h.7v.7h-.7zM231.0 268.3h.7v.7h-.7zM234.1 267.6h.7v.7h-.7zM231.4 274.3h.7v.7h-.7zM233.1 270.5h.7v.7h-.7zM229.4 276.4h.7v.7h-.7zM232.0 275.1h.7v.7h-.7zM233.6 279.6h.7v.7h-.7zM231.8 281.6h.7v.7h-.7zM232.5 264.0h.7v.7h-.7zM231.6 272.9h.7v.7h-.7zM234.8 259.7h.7v.7h-.7zM237.5 281.6h.7v.7h-.7zM233.7 280.5h.7v.7h-.7zM230.2 276.1h.7v.7h-.7zM227.2 276.4h.7v.7h-.7zM231.4 280.6h.7v.7h-.7zM233.4 265.2h.7v.7h-.7zM234.5 270.9h.7v.7h-.7zM230.8 275.8h.7v.7h-.7zM227.6 275.3h.7v.7h-.7zM232.8 284.9h.7v.7h-.7zM235.2 279.4h.7v.7h-.7zM231.3 277.7h.7v.7h-.7zM231.1 263.0h.7v.7h-.7zM233.3 262.6h.7v.7h-.7zM234.2 264.7h.7v.7h-.7zM232.8 276.6h.7v.7h-.7zM234.4 277.3h.7v.7h-.7zM232.2 271.0h.7v.7h-.7zM232.1 281.2h.7v.7h-.7zM231.9 270.5h.7v.7h-.7zM231.9 277.6h.7v.7h-.7zM238.1 270.2h.7v.7h-.7zM235.3 273.9h.7v.7h-.7zM230.0 272.0h.7v.7h-.7zM232.1 285.4h.7v.7h-.7zM235.2 277.6h.7v.7h-.7zM232.0 272.5h.7v.7h-.7zM229.9 263.7h.7v.7h-.7zM233.9 275.3h.7v.7h-.7zM234.5 276.5h.7v.7h-.7zM231.9 283.4h.7v.7h-.7zM232.6 273.4h.7v.7h-.7zM233.3 277.7h.7v.7h-.7zM233.1 284.4h.7v.7h-.7zM232.0 273.3h.7v.7h-.7zM235.3 274.0h.7v.7h-.7zM235.3 267.7h.7v.7h-.7zM234.7 274.0h.7v.7h-.7zM232.9 271.0h.7v.7h-.7zM235.2 280.3h.7v.7h-.7zM231.9 279.6h.7v.7h-.7zM233.9 271.0h.7v.7h-.7zM226.8 268.7h.7v.7h-.7zM229.4 277.0h.7v.7h-.7zM232.8 264.5h.7v.7h-.7zM234.2 259.5h.7v.7h-.7zM232.1 263.6h.7v.7h-.7zM231.1 268.3h.7v.7h-.7zM232.2 270.8h.7v.7h-.7zM231.4 276.5h.7v.7h-.7zM230.3 267.7h.7v.7h-.7zM230.3 268.4h.7v.7h-.7zM233.0 284.2h.7v.7h-.7zM233.3 272.1h.7v.7h-.7zM229.2 262.1h.7v.7h-.7zM234.1 273.2h.7v.7h-.7zM232.5 282.6h.7v.7h-.7zM237.4 277.4h.7v.7h-.7zM231.3 266.5h.7v.7h-.7zM235.0 265.0h.7v.7h-.7zM231.9 274.3h.7v.7h-.7zM231.4 281.3h.7v.7h-.7zM230.9 268.9h.7v.7h-.7zM234.6 273.5h.7v.7h-.7zM230.0 270.8h.7v.7h-.7zM232.1 271.7h.7v.7h-.7zM237.1 268.6h.7v.7h-.7zM236.9 270.2h.7v.7h-.7zM233.0 278.5h.7v.7h-.7zM233.0 264.3h.7v.7h-.7zM227.4 272.3h.7v.7h-.7zM236.0 271.9h.7v.7h-.7zM234.9 279.2h.7v.7h-.7zM232.9 273.0h.7v.7h-.7zM233.0 281.2h.7v.7h-.7zM232.8 273.4h.7v.7h-.7zM235.3 274.3h.7v.7h-.7zM235.2 272.5h.7v.7h-.7zM231.3 276.4h.7v.7h-.7zM233.7 266.5h.7v.7h-.7zM233.0 277.0h.7v.7h-.7zM230.5 272.9h.7v.7h-.7zM232.0 275.1h.7v.7h-.7zM231.6 275.3h.7v.7h-.7zM233.6 273.7h.7v.7h-.7zM236.7 267.3h.7v.7h-.7zM228.4 275.3h.7v.7h-.7zM237.6 275.9h.7v.7h-.7zM231.4 284.7h.7v.7h-.7zM235.3 271.3h.7v.7h-.7zM233.6 272.5h.7v.7h-.7zM235.5 274.7h.7v.7h-.7zM229.8 279.7h.7v.7h-.7zM230.6 277.1h.7v.7h-.7zM238.9 273.0h.7v.7h-.7zM230.8 280.6h.7v.7h-.7zM234.8 283.7h.7v.7h-.7zM229.7 272.7h.7v.7h-.7zM235.6 268.3h.7v.7h-.7zM233.0 276.1h.7v.7h-.7zM235.5 277.1h.7v.7h-.7zM233.8 274.4h.7v.7h-.7zM237.4 273.4h.7v.7h-.7zM230.7 276.2h.7v.7h-.7zM229.1 278.5h.7v.7h-.7zM236.3 275.8h.7v.7h-.7zM230.7 271.8h.7v.7h-.7zM232.0 280.6h.7v.7h-.7zM229.0 280.2h.7v.7h-.7zM230.1 269.3h.7v.7h-.7zM232.5 274.2h.7v.7h-.7zM239.1 272.8h.7v.7h-.7zM234.7 267.1h.7v.7h-.7zM231.3 282.6h.7v.7h-.7zM233.7 275.6h.7v.7h-.7zM231.7 275.5h.7v.7h-.7zM236.6 269.3h.7v.7h-.7zM233.5 264.2h.7v.7h-.7zM233.3 270.0h.7v.7h-.7zM231.1 272.8h.7v.7h-.7zM235.3 275.9h.7v.7h-.7zM236.6 266.4h.7v.7h-.7zM231.8 274.5h.7v.7h-.7zM235.5 274.6h.7v.7h-.7zM229.1 278.0h.7v.7h-.7zM233.1 278.6h.7v.7h-.7zM233.0 274.7h.7v.7h-.7zM232.1 269.0h.7v.7h-.7zM238.1 267.7h.7v.7h-.7zM232.7 282.0h.7v.7h-.7zM230.9 265.3h.7v.7h-.7zM233.3 274.8h.7v.7h-.7zM232.3 273.4h.7v.7h-.7zM235.4 269.7h.7v.7h-.7zM235.6 272.4h.7v.7h-.7zM232.1 278.1h.7v.7h-.7zM233.7 279.6h.7v.7h-.7zM235.7 273.8h.7v.7h-.7zM230.8 264.1h.7v.7h-.7zM230.1 269.7h.7v.7h-.7zM235.5 265.7h.7v.7h-.7zM230.7 277.4h.7v.7h-.7zM230.3 271.9h.7v.7h-.7zM233.6 280.6h.7v.7h-.7zM231.1 264.9h.7v.7h-.7zM231.2 264.0h.7v.7h-.7zM236.2 277.2h.7v.7h-.7zM226.6 270.5h.7v.7h-.7zM228.1 268.6h.7v.7h-.7zM235.2 282.5h.7v.7h-.7zM235.6 276.5h.7v.7h-.7zM231.8 281.2h.7v.7h-.7zM235.9 276.3h.7v.7h-.7zM239.2 273.9h.7v.7h-.7zM229.3 267.8h.7v.7h-.7zM232.7 276.1h.7v.7h-.7zM232.7 278.8h.7v.7h-.7zM230.8 280.7h.7v.7h-.7zM231.5 265.5h.7v.7h-.7zM232.1 268.5h.7v.7h-.7zM231.8 281.5h.7v.7h-.7zM234.7 271.7h.7v.7h-.7zM232.6 276.0h.7v.7h-.7zM227.9 266.1h.7v.7h-.7zM235.5 260.6h.7v.7h-.7zM231.9 273.7h.7v.7h-.7zM234.5 278.2h.7v.7h-.7zM235.8 275.7h.7v.7h-.7zM233.2 277.0h.7v.7h-.7zM233.9 265.9h.7v.7h-.7zM230.8 273.2h.7v.7h-.7zM237.4 277.6h.7v.7h-.7zM231.7 273.3h.7v.7h-.7zM238.9 274.2h.7v.7h-.7zM231.9 275.0h.7v.7h-.7zM232.7 268.3h.7v.7h-.7zM233.1 268.6h.7v.7h-.7zM232.1 282.0h.7v.7h-.7zM230.8 274.3h.7v.7h-.7zM231.8 274.8h.7v.7h-.7zM233.4 276.3h.7v.7h-.7zM235.3 270.0h.7v.7h-.7zM233.1 264.9h.7v.7h-.7zM237.1 269.5h.7v.7h-.7zM230.8 272.6h.7v.7h-.7zM234.2 265.2h.7v.7h-.7zM232.1 266.6h.7v.7h-.7zM231.7 281.0h.7v.7h-.7zM229.9 271.5h.7v.7h-.7zM233.8 264.7h.7v.7h-.7zM232.2 267.7h.7v.7h-.7zM236.7 275.4h.7v.7h-.7zM236.5 266.4h.7v.7h-.7zM236.5 262.2h.7v.7h-.7zM235.1 271.3h.7v.7h-.7zM227.9 269.2h.7v.7h-.7zM228.8 262.8h.7v.7h-.7zM234.0 272.9h.7v.7h-.7z" fill="#2a3fc0" opacity="0.80"/>
<path d="M240.3 274.7h.7v.7h-.7zM228.8 260.5h.7v.7h-.7zM241.7 267.0h.7v.7h-.7zM239.3 267.7h.7v.7h-.7zM227.4 281.0h.7v.7h-.7zM239.5 268.9h.7v.7h-.7zM231.4 286.5h.7v.7h-.7zM231.7 290.7h.7v.7h-.7zM225.6 262.2h.7v.7h-.7zM232.0 256.9h.7v.7h-.7zM226.7 277.6h.7v.7h-.7zM229.7 285.5h.7v.7h-.7zM232.2 258.2h.7v.7h-.7zM226.3 274.0h.7v.7h-.7zM226.4 267.7h.7v.7h-.7zM229.7 287.6h.7v.7h-.7zM228.3 262.0h.7v.7h-.7zM226.0 261.5h.7v.7h-.7zM226.0 268.8h.7v.7h-.7zM240.6 275.6h.7v.7h-.7zM235.9 258.0h.7v.7h-.7zM228.0 260.5h.7v.7h-.7zM227.9 259.7h.7v.7h-.7zM234.8 287.7h.7v.7h-.7zM241.7 272.3h.7v.7h-.7zM230.9 258.0h.7v.7h-.7zM235.4 290.2h.7v.7h-.7zM229.9 286.2h.7v.7h-.7zM226.8 278.9h.7v.7h-.7zM235.5 253.4h.7v.7h-.7zM229.4 258.4h.7v.7h-.7zM230.0 256.3h.7v.7h-.7zM237.4 260.6h.7v.7h-.7zM239.8 267.7h.7v.7h-.7zM226.4 279.7h.7v.7h-.7zM239.3 271.6h.7v.7h-.7zM230.8 290.0h.7v.7h-.7zM232.4 257.3h.7v.7h-.7zM237.0 259.8h.7v.7h-.7zM227.2 264.0h.7v.7h-.7zM229.6 259.1h.7v.7h-.7zM239.6 266.9h.7v.7h-.7zM233.5 287.3h.7v.7h-.7zM225.5 271.1h.7v.7h-.7zM232.2 287.7h.7v.7h-.7zM230.5 288.8h.7v.7h-.7zM226.1 277.0h.7v.7h-.7zM226.2 279.2h.7v.7h-.7zM225.5 265.0h.7v.7h-.7zM227.4 283.8h.7v.7h-.7zM238.8 263.4h.7v.7h-.7zM238.1 260.5h.7v.7h-.7zM239.1 275.8h.7v.7h-.7zM224.9 282.5h.7v.7h-.7zM227.7 263.7h.7v.7h-.7zM240.4 266.1h.7v.7h-.7zM226.0 272.5h.7v.7h-.7zM238.0 255.8h.7v.7h-.7zM234.8 289.4h.7v.7h-.7zM240.6 267.8h.7v.7h-.7zM229.2 260.2h.7v.7h-.7zM225.1 267.5h.7v.7h-.7zM224.3 266.1h.7v.7h-.7zM240.8 274.5h.7v.7h-.7zM226.1 271.9h.7v.7h-.7zM230.1 259.1h.7v.7h-.7zM237.1 283.4h.7v.7h-.7zM226.3 270.9h.7v.7h-.7zM230.9 257.1h.7v.7h-.7zM229.5 259.5h.7v.7h-.7zM230.2 258.6h.7v.7h-.7zM225.9 258.8h.7v.7h-.7zM230.6 257.8h.7v.7h-.7zM236.2 259.6h.7v.7h-.7zM226.5 281.7h.7v.7h-.7zM225.3 267.6h.7v.7h-.7zM234.7 256.7h.7v.7h-.7zM236.5 259.4h.7v.7h-.7zM226.2 275.4h.7v.7h-.7zM240.6 264.6h.7v.7h-.7zM238.2 261.0h.7v.7h-.7z" fill="#5a6ad8" opacity="0.80"/>
<path d="M223.0 266.7h.7v.7h-.7zM242.7 262.8h.7v.7h-.7zM226.5 253.0h.7v.7h-.7zM244.9 266.9h.7v.7h-.7zM221.8 259.8h.7v.7h-.7zM223.1 261.7h.7v.7h-.7z" fill="#9aa4e8" opacity="0.80"/>
<ellipse cx="232.5" cy="272.0" rx="2.6" ry="6.3" fill="#2a9ccc" opacity="0.75" filter="url(#blur1)"/>
<ellipse cx="232.3" cy="271.5" rx="1.43" ry="3.9200000000000004" fill="#6cc43a" opacity="0.9" filter="url(#blur06)"/>
<ellipse cx="272.6" cy="272" rx="9.2" ry="16.5" fill="#8fa0e8" opacity="0.35" filter="url(#blur2)"/>
<ellipse cx="272.6" cy="272.5" rx="6.0" ry="12.0" fill="#3450d0" opacity="0.50" filter="url(#blur2)"/>
<path d="M272.2 274.4h.7v.7h-.7zM267.6 278.3h.7v.7h-.7zM278.0 268.3h.7v.7h-.7zM271.4 268.2h.7v.7h-.7zM277.2 262.6h.7v.7h-.7zM271.3 280.9h.7v.7h-.7zM273.7 271.8h.7v.7h-.7zM273.4 265.6h.7v.7h-.7zM269.9 279.1h.7v.7h-.7zM273.5 272.1h.7v.7h-.7zM275.9 277.9h.7v.7h-.7zM270.3 269.8h.7v.7h-.7zM266.7 275.5h.7v.7h-.7zM265.7 273.1h.7v.7h-.7zM266.3 272.3h.7v.7h-.7zM271.6 263.5h.7v.7h-.7zM272.6 257.8h.7v.7h-.7zM268.0 283.9h.7v.7h-.7zM272.9 266.7h.7v.7h-.7zM270.3 270.6h.7v.7h-.7zM271.3 283.3h.7v.7h-.7zM271.8 261.2h.7v.7h-.7zM275.2 270.1h.7v.7h-.7zM270.7 281.6h.7v.7h-.7zM267.3 277.2h.7v.7h-.7zM278.3 276.5h.7v.7h-.7zM269.8 268.6h.7v.7h-.7zM271.3 274.5h.7v.7h-.7zM270.4 275.4h.7v.7h-.7zM270.0 277.8h.7v.7h-.7zM273.3 279.0h.7v.7h-.7zM271.1 270.5h.7v.7h-.7zM273.4 284.0h.7v.7h-.7zM280.0 271.5h.7v.7h-.7zM277.8 276.7h.7v.7h-.7zM273.3 278.7h.7v.7h-.7zM270.6 271.8h.7v.7h-.7zM273.3 280.0h.7v.7h-.7zM268.4 279.6h.7v.7h-.7zM278.2 273.7h.7v.7h-.7zM274.9 278.6h.7v.7h-.7zM276.0 278.9h.7v.7h-.7zM272.4 267.8h.7v.7h-.7zM278.1 271.4h.7v.7h-.7zM273.1 281.5h.7v.7h-.7zM273.0 273.8h.7v.7h-.7zM275.3 280.8h.7v.7h-.7zM276.8 272.9h.7v.7h-.7zM269.1 263.2h.7v.7h-.7zM269.5 270.5h.7v.7h-.7zM272.5 271.3h.7v.7h-.7zM273.7 268.9h.7v.7h-.7zM274.4 272.2h.7v.7h-.7zM275.4 272.6h.7v.7h-.7zM273.4 265.7h.7v.7h-.7zM268.3 270.9h.7v.7h-.7zM271.9 269.9h.7v.7h-.7zM272.2 267.3h.7v.7h-.7zM269.1 274.3h.7v.7h-.7zM270.4 281.1h.7v.7h-.7zM272.2 279.2h.7v.7h-.7zM270.9 270.6h.7v.7h-.7zM268.1 278.0h.7v.7h-.7zM274.0 264.6h.7v.7h-.7zM277.5 274.6h.7v.7h-.7zM276.5 270.4h.7v.7h-.7zM275.1 283.2h.7v.7h-.7zM270.7 265.3h.7v.7h-.7zM268.6 272.2h.7v.7h-.7zM273.7 274.2h.7v.7h-.7zM273.3 282.9h.7v.7h-.7zM267.9 270.5h.7v.7h-.7zM274.9 259.1h.7v.7h-.7zM271.7 263.6h.7v.7h-.7zM275.5 270.4h.7v.7h-.7zM276.9 271.5h.7v.7h-.7zM270.4 280.7h.7v.7h-.7zM274.5 277.8h.7v.7h-.7zM275.6 276.7h.7v.7h-.7zM270.9 269.6h.7v.7h-.7zM278.4 273.3h.7v.7h-.7zM274.7 263.5h.7v.7h-.7zM275.0 279.4h.7v.7h-.7zM268.6 269.8h.7v.7h-.7zM267.7 274.0h.7v.7h-.7zM273.0 270.3h.7v.7h-.7zM271.0 275.5h.7v.7h-.7zM273.1 264.4h.7v.7h-.7zM270.6 282.8h.7v.7h-.7zM271.8 278.5h.7v.7h-.7zM266.3 265.1h.7v.7h-.7zM278.0 273.6h.7v.7h-.7zM272.9 280.4h.7v.7h-.7zM269.2 280.1h.7v.7h-.7zM276.1 283.1h.7v.7h-.7zM278.5 275.9h.7v.7h-.7zM278.8 276.9h.7v.7h-.7zM269.5 265.9h.7v.7h-.7zM270.6 264.3h.7v.7h-.7zM272.3 274.9h.7v.7h-.7zM273.5 257.8h.7v.7h-.7zM268.0 272.3h.7v.7h-.7zM275.5 269.0h.7v.7h-.7zM272.9 275.0h.7v.7h-.7zM277.9 277.8h.7v.7h-.7zM276.5 262.7h.7v.7h-.7zM271.0 274.7h.7v.7h-.7zM275.9 265.8h.7v.7h-.7zM272.9 281.6h.7v.7h-.7zM276.7 265.8h.7v.7h-.7zM268.6 266.9h.7v.7h-.7zM271.8 274.6h.7v.7h-.7zM278.4 268.4h.7v.7h-.7zM269.1 267.7h.7v.7h-.7zM275.3 280.9h.7v.7h-.7zM270.8 257.6h.7v.7h-.7zM269.9 267.6h.7v.7h-.7zM273.4 266.7h.7v.7h-.7zM272.1 275.5h.7v.7h-.7zM275.4 266.8h.7v.7h-.7zM274.4 279.3h.7v.7h-.7zM273.9 266.2h.7v.7h-.7zM270.8 279.1h.7v.7h-.7zM271.2 278.0h.7v.7h-.7zM275.2 272.4h.7v.7h-.7zM275.5 267.1h.7v.7h-.7zM279.7 273.4h.7v.7h-.7zM277.8 260.7h.7v.7h-.7zM267.9 264.0h.7v.7h-.7zM274.2 268.3h.7v.7h-.7zM276.5 266.8h.7v.7h-.7zM273.2 278.9h.7v.7h-.7zM269.4 285.5h.7v.7h-.7zM274.8 263.4h.7v.7h-.7zM269.4 275.7h.7v.7h-.7zM270.8 269.2h.7v.7h-.7zM271.8 275.0h.7v.7h-.7zM275.4 273.6h.7v.7h-.7zM276.3 272.0h.7v.7h-.7zM278.0 272.6h.7v.7h-.7zM278.2 263.1h.7v.7h-.7zM277.8 281.0h.7v.7h-.7zM270.5 272.7h.7v.7h-.7zM269.8 275.8h.7v.7h-.7zM269.8 266.2h.7v.7h-.7zM275.8 265.4h.7v.7h-.7zM269.6 264.1h.7v.7h-.7zM272.2 286.3h.7v.7h-.7zM275.5 264.2h.7v.7h-.7zM270.7 282.5h.7v.7h-.7zM274.0 277.7h.7v.7h-.7zM272.7 275.5h.7v.7h-.7zM274.5 274.0h.7v.7h-.7zM273.3 262.5h.7v.7h-.7zM272.6 269.4h.7v.7h-.7zM269.7 284.2h.7v.7h-.7zM272.7 268.0h.7v.7h-.7zM274.2 276.0h.7v.7h-.7zM276.3 273.6h.7v.7h-.7zM267.0 282.2h.7v.7h-.7zM276.3 282.9h.7v.7h-.7zM276.3 273.8h.7v.7h-.7zM274.6 264.8h.7v.7h-.7zM266.1 276.0h.7v.7h-.7zM273.2 266.0h.7v.7h-.7zM272.4 277.4h.7v.7h-.7zM266.7 268.5h.7v.7h-.7zM271.7 267.2h.7v.7h-.7zM269.4 262.5h.7v.7h-.7zM266.3 271.4h.7v.7h-.7zM274.2 284.3h.7v.7h-.7zM268.4 277.2h.7v.7h-.7zM274.4 273.2h.7v.7h-.7zM271.8 267.4h.7v.7h-.7zM275.3 270.7h.7v.7h-.7zM269.4 270.2h.7v.7h-.7zM270.7 265.0h.7v.7h-.7zM268.2 270.5h.7v.7h-.7zM276.3 280.4h.7v.7h-.7zM271.2 276.4h.7v.7h-.7zM271.5 264.7h.7v.7h-.7zM271.5 276.5h.7v.7h-.7zM265.5 267.4h.7v.7h-.7zM273.8 265.4h.7v.7h-.7zM275.2 271.9h.7v.7h-.7zM276.6 275.0h.7v.7h-.7zM274.9 270.3h.7v.7h-.7zM270.5 275.4h.7v.7h-.7zM275.2 270.2h.7v.7h-.7zM273.2 271.6h.7v.7h-.7zM275.8 274.1h.7v.7h-.7zM279.1 271.6h.7v.7h-.7zM274.3 264.7h.7v.7h-.7zM273.1 281.8h.7v.7h-.7zM276.6 278.0h.7v.7h-.7zM274.4 281.2h.7v.7h-.7zM268.6 266.6h.7v.7h-.7zM271.5 275.7h.7v.7h-.7zM267.7 269.3h.7v.7h-.7zM274.0 272.6h.7v.7h-.7zM276.4 278.7h.7v.7h-.7zM273.3 264.8h.7v.7h-.7zM277.3 273.5h.7v.7h-.7zM274.3 283.1h.7v.7h-.7zM272.4 268.6h.7v.7h-.7zM271.5 259.0h.7v.7h-.7zM266.0 268.6h.7v.7h-.7zM273.2 280.5h.7v.7h-.7zM275.2 276.2h.7v.7h-.7zM268.2 263.9h.7v.7h-.7zM275.3 279.7h.7v.7h-.7zM268.6 268.1h.7v.7h-.7zM278.4 267.9h.7v.7h-.7zM271.5 278.6h.7v.7h-.7zM270.4 281.0h.7v.7h-.7zM269.0 273.5h.7v.7h-.7zM266.3 263.1h.7v.7h-.7zM271.4 273.9h.7v.7h-.7zM269.6 265.8h.7v.7h-.7zM270.3 273.1h.7v.7h-.7zM269.5 269.1h.7v.7h-.7zM273.3 277.5h.7v.7h-.7zM270.4 278.0h.7v.7h-.7zM275.6 279.8h.7v.7h-.7zM275.2 272.5h.7v.7h-.7zM275.6 264.7h.7v.7h-.7zM271.5 270.6h.7v.7h-.7zM271.8 264.5h.7v.7h-.7zM275.3 277.5h.7v.7h-.7zM272.1 264.0h.7v.7h-.7zM270.9 284.8h.7v.7h-.7zM276.8 277.3h.7v.7h-.7zM273.3 271.0h.7v.7h-.7zM271.9 282.6h.7v.7h-.7zM276.9 272.0h.7v.7h-.7zM274.2 266.7h.7v.7h-.7zM271.9 270.7h.7v.7h-.7zM269.6 261.6h.7v.7h-.7zM268.8 270.3h.7v.7h-.7zM274.3 261.3h.7v.7h-.7zM271.5 263.9h.7v.7h-.7zM268.4 272.2h.7v.7h-.7zM269.3 282.0h.7v.7h-.7zM272.1 275.6h.7v.7h-.7zM269.2 266.1h.7v.7h-.7zM271.9 279.3h.7v.7h-.7zM266.6 273.1h.7v.7h-.7zM269.2 274.1h.7v.7h-.7zM267.2 266.4h.7v.7h-.7zM276.3 263.1h.7v.7h-.7zM269.5 280.9h.7v.7h-.7zM273.3 270.3h.7v.7h-.7zM268.0 262.4h.7v.7h-.7zM269.7 275.3h.7v.7h-.7zM270.0 265.8h.7v.7h-.7zM273.2 268.9h.7v.7h-.7zM273.4 280.6h.7v.7h-.7zM273.6 278.4h.7v.7h-.7zM268.2 265.7h.7v.7h-.7zM270.9 268.6h.7v.7h-.7zM268.4 276.7h.7v.7h-.7zM273.4 266.1h.7v.7h-.7zM271.2 267.0h.7v.7h-.7zM272.3 276.7h.7v.7h-.7zM267.1 276.5h.7v.7h-.7zM271.0 267.3h.7v.7h-.7zM269.8 264.4h.7v.7h-.7zM275.4 265.0h.7v.7h-.7zM274.9 274.1h.7v.7h-.7zM269.8 284.9h.7v.7h-.7zM270.6 273.0h.7v.7h-.7zM272.4 271.9h.7v.7h-.7zM270.0 272.9h.7v.7h-.7zM270.4 276.6h.7v.7h-.7zM273.0 268.2h.7v.7h-.7zM278.4 278.1h.7v.7h-.7zM276.0 277.2h.7v.7h-.7zM268.3 275.3h.7v.7h-.7zM273.5 271.6h.7v.7h-.7zM276.5 274.0h.7v.7h-.7zM270.0 264.8h.7v.7h-.7zM273.4 278.6h.7v.7h-.7zM274.9 275.1h.7v.7h-.7zM266.4 263.0h.7v.7h-.7zM270.8 274.6h.7v.7h-.7zM272.9 275.7h.7v.7h-.7zM268.0 273.4h.7v.7h-.7zM277.1 275.2h.7v.7h-.7zM273.1 282.6h.7v.7h-.7zM268.2 280.1h.7v.7h-.7zM273.0 265.8h.7v.7h-.7zM265.8 278.9h.7v.7h-.7zM270.8 274.5h.7v.7h-.7zM269.8 273.0h.7v.7h-.7zM273.9 276.1h.7v.7h-.7zM276.2 262.7h.7v.7h-.7zM274.8 269.3h.7v.7h-.7zM271.6 270.8h.7v.7h-.7zM275.8 266.4h.7v.7h-.7zM275.7 273.0h.7v.7h-.7zM271.7 274.6h.7v.7h-.7zM270.1 271.1h.7v.7h-.7zM267.6 263.5h.7v.7h-.7zM277.2 268.5h.7v.7h-.7zM273.9 264.6h.7v.7h-.7zM276.2 272.8h.7v.7h-.7zM269.5 260.5h.7v.7h-.7zM271.2 265.6h.7v.7h-.7zM270.5 274.2h.7v.7h-.7zM274.5 277.0h.7v.7h-.7zM272.8 279.8h.7v.7h-.7zM270.4 274.5h.7v.7h-.7zM269.0 274.0h.7v.7h-.7zM275.1 275.3h.7v.7h-.7zM275.5 271.8h.7v.7h-.7zM269.6 274.5h.7v.7h-.7zM273.6 257.7h.7v.7h-.7zM272.4 276.6h.7v.7h-.7zM277.9 269.3h.7v.7h-.7zM270.8 266.1h.7v.7h-.7zM273.1 268.8h.7v.7h-.7zM272.5 263.5h.7v.7h-.7zM274.8 274.9h.7v.7h-.7zM271.2 275.5h.7v.7h-.7zM270.6 273.6h.7v.7h-.7zM266.5 271.1h.7v.7h-.7zM271.5 272.5h.7v.7h-.7zM270.0 279.5h.7v.7h-.7zM272.5 284.1h.7v.7h-.7zM268.7 276.0h.7v.7h-.7zM275.7 271.0h.7v.7h-.7zM269.6 266.5h.7v.7h-.7zM274.3 284.4h.7v.7h-.7zM275.7 269.2h.7v.7h-.7zM268.7 266.9h.7v.7h-.7zM273.6 278.9h.7v.7h-.7zM275.0 261.4h.7v.7h-.7zM273.5 278.3h.7v.7h-.7zM276.4 273.1h.7v.7h-.7zM276.6 279.7h.7v.7h-.7zM270.4 269.4h.7v.7h-.7zM277.0 259.6h.7v.7h-.7zM272.2 270.6h.7v.7h-.7zM271.9 282.8h.7v.7h-.7zM268.7 264.4h.7v.7h-.7zM272.7 277.1h.7v.7h-.7zM267.7 279.4h.7v.7h-.7zM272.8 273.8h.7v.7h-.7zM273.1 281.9h.7v.7h-.7zM271.5 274.9h.7v.7h-.7zM267.0 266.8h.7v.7h-.7zM267.5 270.0h.7v.7h-.7zM275.6 271.1h.7v.7h-.7zM278.2 274.4h.7v.7h-.7zM279.4 279.2h.7v.7h-.7zM271.4 281.5h.7v.7h-.7zM278.8 269.7h.7v.7h-.7zM274.6 273.1h.7v.7h-.7zM274.5 272.0h.7v.7h-.7zM275.1 274.0h.7v.7h-.7zM275.6 284.0h.7v.7h-.7zM269.7 268.4h.7v.7h-.7zM274.2 270.8h.7v.7h-.7zM267.6 266.4h.7v.7h-.7zM271.5 282.2h.7v.7h-.7zM275.6 262.4h.7v.7h-.7zM271.1 261.5h.7v.7h-.7zM271.0 269.2h.7v.7h-.7zM269.4 265.3h.7v.7h-.7zM276.0 274.7h.7v.7h-.7zM273.8 267.4h.7v.7h-.7zM274.7 270.5h.7v.7h-.7zM273.3 265.5h.7v.7h-.7zM272.0 274.0h.7v.7h-.7zM279.8 268.4h.7v.7h-.7zM269.9 272.3h.7v.7h-.7zM273.0 275.6h.7v.7h-.7zM270.2 262.7h.7v.7h-.7zM270.9 283.9h.7v.7h-.7zM279.4 279.7h.7v.7h-.7zM271.2 273.5h.7v.7h-.7zM271.9 262.8h.7v.7h-.7zM265.7 274.0h.7v.7h-.7zM279.2 268.1h.7v.7h-.7zM271.7 271.2h.7v.7h-.7zM275.6 280.7h.7v.7h-.7zM274.0 261.4h.7v.7h-.7zM274.0 270.6h.7v.7h-.7zM279.5 269.7h.7v.7h-.7zM274.8 274.4h.7v.7h-.7zM267.0 280.2h.7v.7h-.7zM278.3 270.5h.7v.7h-.7zM276.8 264.9h.7v.7h-.7zM269.5 277.0h.7v.7h-.7zM269.5 268.3h.7v.7h-.7zM273.8 264.3h.7v.7h-.7zM266.6 266.1h.7v.7h-.7zM269.0 274.8h.7v.7h-.7zM271.6 273.7h.7v.7h-.7zM271.8 264.5h.7v.7h-.7zM279.4 269.0h.7v.7h-.7zM272.2 284.5h.7v.7h-.7zM270.5 274.1h.7v.7h-.7zM268.4 280.5h.7v.7h-.7zM268.7 269.7h.7v.7h-.7zM266.5 270.6h.7v.7h-.7zM271.5 270.3h.7v.7h-.7zM265.7 279.5h.7v.7h-.7zM270.1 272.4h.7v.7h-.7zM274.0 270.2h.7v.7h-.7zM273.0 271.8h.7v.7h-.7zM280.1 270.6h.7v.7h-.7zM276.9 273.9h.7v.7h-.7zM273.5 279.5h.7v.7h-.7zM268.3 266.6h.7v.7h-.7zM274.9 278.8h.7v.7h-.7zM274.7 274.2h.7v.7h-.7zM276.2 277.8h.7v.7h-.7zM275.8 274.6h.7v.7h-.7zM268.6 264.1h.7v.7h-.7zM271.5 270.1h.7v.7h-.7zM274.5 284.8h.7v.7h-.7zM271.0 268.0h.7v.7h-.7zM268.1 273.2h.7v.7h-.7zM267.2 269.2h.7v.7h-.7zM277.3 268.0h.7v.7h-.7zM280.0 270.9h.7v.7h-.7zM266.5 270.0h.7v.7h-.7zM269.2 273.5h.7v.7h-.7zM267.8 279.2h.7v.7h-.7zM270.8 278.7h.7v.7h-.7zM272.8 276.4h.7v.7h-.7zM270.5 277.5h.7v.7h-.7zM274.3 270.1h.7v.7h-.7zM277.3 271.7h.7v.7h-.7zM269.5 272.8h.7v.7h-.7zM271.9 262.1h.7v.7h-.7zM274.4 265.2h.7v.7h-.7zM272.5 281.1h.7v.7h-.7zM277.5 262.0h.7v.7h-.7zM274.4 278.8h.7v.7h-.7zM270.1 275.3h.7v.7h-.7zM271.9 272.6h.7v.7h-.7zM271.2 261.6h.7v.7h-.7zM279.3 276.2h.7v.7h-.7zM270.0 274.9h.7v.7h-.7zM268.7 273.3h.7v.7h-.7zM265.6 265.0h.7v.7h-.7zM275.0 267.8h.7v.7h-.7zM272.3 272.6h.7v.7h-.7zM278.5 277.3h.7v.7h-.7zM266.5 272.5h.7v.7h-.7zM272.2 270.7h.7v.7h-.7zM273.7 268.8h.7v.7h-.7zM268.7 268.3h.7v.7h-.7zM274.2 279.4h.7v.7h-.7zM270.8 258.5h.7v.7h-.7zM265.1 268.3h.7v.7h-.7zM274.0 267.1h.7v.7h-.7zM272.6 266.0h.7v.7h-.7zM275.6 271.5h.7v.7h-.7zM273.1 275.2h.7v.7h-.7zM272.0 278.7h.7v.7h-.7zM275.2 272.8h.7v.7h-.7zM274.5 279.9h.7v.7h-.7zM279.0 265.4h.7v.7h-.7zM275.9 272.8h.7v.7h-.7zM273.4 261.5h.7v.7h-.7zM273.3 279.7h.7v.7h-.7zM279.3 278.3h.7v.7h-.7zM272.1 265.9h.7v.7h-.7zM278.4 270.3h.7v.7h-.7zM271.7 271.2h.7v.7h-.7zM266.5 268.2h.7v.7h-.7zM275.0 263.5h.7v.7h-.7zM265.8 266.2h.7v.7h-.7zM270.7 267.6h.7v.7h-.7zM273.0 281.2h.7v.7h-.7zM270.4 279.3h.7v.7h-.7zM273.2 272.4h.7v.7h-.7zM276.2 267.8h.7v.7h-.7zM264.7 272.5h.7v.7h-.7zM269.4 262.8h.7v.7h-.7zM270.1 264.7h.7v.7h-.7zM273.3 285.1h.7v.7h-.7zM277.6 276.6h.7v.7h-.7zM274.0 270.3h.7v.7h-.7zM274.4 271.6h.7v.7h-.7zM276.2 274.2h.7v.7h-.7zM265.1 268.1h.7v.7h-.7zM274.7 272.8h.7v.7h-.7zM278.0 264.0h.7v.7h-.7zM268.9 269.4h.7v.7h-.7zM278.1 277.3h.7v.7h-.7zM270.1 258.4h.7v.7h-.7zM271.5 265.6h.7v.7h-.7zM270.1 274.6h.7v.7h-.7zM273.5 268.3h.7v.7h-.7zM272.7 280.8h.7v.7h-.7zM272.2 275.4h.7v.7h-.7zM271.3 260.8h.7v.7h-.7zM273.4 279.5h.7v.7h-.7zM277.7 262.4h.7v.7h-.7zM274.6 279.2h.7v.7h-.7zM267.1 274.6h.7v.7h-.7zM268.6 271.5h.7v.7h-.7zM268.7 264.3h.7v.7h-.7zM266.3 272.2h.7v.7h-.7zM268.7 273.8h.7v.7h-.7zM270.4 279.9h.7v.7h-.7zM271.2 276.3h.7v.7h-.7zM273.6 279.5h.7v.7h-.7zM270.4 273.9h.7v.7h-.7zM271.7 272.2h.7v.7h-.7zM277.4 279.7h.7v.7h-.7zM274.1 274.3h.7v.7h-.7zM270.7 270.9h.7v.7h-.7zM273.8 272.1h.7v.7h-.7zM267.7 272.5h.7v.7h-.7zM273.8 283.5h.7v.7h-.7zM268.4 268.9h.7v.7h-.7zM276.7 262.4h.7v.7h-.7zM273.8 285.6h.7v.7h-.7zM276.6 266.9h.7v.7h-.7zM270.6 272.2h.7v.7h-.7zM269.2 265.9h.7v.7h-.7zM272.1 267.8h.7v.7h-.7zM269.3 273.4h.7v.7h-.7zM273.8 265.9h.7v.7h-.7zM274.0 271.0h.7v.7h-.7zM268.9 275.1h.7v.7h-.7zM274.2 284.5h.7v.7h-.7zM271.0 278.2h.7v.7h-.7zM277.9 265.7h.7v.7h-.7zM274.6 271.6h.7v.7h-.7zM270.5 276.5h.7v.7h-.7zM273.2 278.8h.7v.7h-.7zM272.7 263.7h.7v.7h-.7zM269.5 279.4h.7v.7h-.7zM278.9 272.7h.7v.7h-.7zM270.1 272.7h.7v.7h-.7zM273.1 269.0h.7v.7h-.7zM274.4 280.1h.7v.7h-.7zM267.1 267.1h.7v.7h-.7zM267.8 272.6h.7v.7h-.7zM270.5 266.0h.7v.7h-.7zM275.0 275.1h.7v.7h-.7zM271.8 271.2h.7v.7h-.7zM271.8 258.4h.7v.7h-.7zM271.8 277.5h.7v.7h-.7zM275.8 269.9h.7v.7h-.7zM267.0 273.8h.7v.7h-.7zM273.0 267.3h.7v.7h-.7zM270.9 280.8h.7v.7h-.7zM271.2 257.4h.7v.7h-.7zM267.2 263.4h.7v.7h-.7zM273.0 272.7h.7v.7h-.7zM272.6 270.6h.7v.7h-.7zM270.3 260.4h.7v.7h-.7zM266.1 273.1h.7v.7h-.7zM271.3 259.3h.7v.7h-.7zM280.0 267.9h.7v.7h-.7zM270.0 278.7h.7v.7h-.7zM273.6 273.4h.7v.7h-.7zM272.0 264.7h.7v.7h-.7zM269.1 268.8h.7v.7h-.7zM273.8 279.2h.7v.7h-.7zM272.3 263.8h.7v.7h-.7zM274.7 261.0h.7v.7h-.7zM271.6 278.4h.7v.7h-.7zM269.3 272.7h.7v.7h-.7zM274.7 270.0h.7v.7h-.7zM271.2 266.1h.7v.7h-.7zM272.5 280.9h.7v.7h-.7zM275.4 263.7h.7v.7h-.7zM278.4 278.9h.7v.7h-.7zM276.6 269.4h.7v.7h-.7zM274.4 281.5h.7v.7h-.7zM268.3 268.7h.7v.7h-.7zM271.1 262.4h.7v.7h-.7zM270.6 276.4h.7v.7h-.7zM271.8 281.1h.7v.7h-.7zM266.8 270.4h.7v.7h-.7zM275.1 273.4h.7v.7h-.7zM270.1 261.2h.7v.7h-.7zM271.8 279.5h.7v.7h-.7zM271.4 261.2h.7v.7h-.7zM269.9 271.8h.7v.7h-.7zM269.9 271.2h.7v.7h-.7zM272.5 276.3h.7v.7h-.7zM278.6 280.2h.7v.7h-.7zM269.6 282.9h.7v.7h-.7zM271.5 270.2h.7v.7h-.7zM269.9 260.4h.7v.7h-.7zM272.7 274.3h.7v.7h-.7zM268.8 281.3h.7v.7h-.7zM269.8 272.4h.7v.7h-.7zM269.4 262.6h.7v.7h-.7zM275.7 258.3h.7v.7h-.7zM279.4 277.2h.7v.7h-.7zM274.8 284.2h.7v.7h-.7zM274.5 264.7h.7v.7h-.7zM277.0 275.2h.7v.7h-.7zM267.3 265.7h.7v.7h-.7zM268.3 273.0h.7v.7h-.7zM277.3 276.1h.7v.7h-.7zM265.7 274.8h.7v.7h-.7zM270.8 262.1h.7v.7h-.7zM272.9 284.1h.7v.7h-.7zM270.4 265.5h.7v.7h-.7zM278.1 264.4h.7v.7h-.7zM276.7 270.2h.7v.7h-.7zM271.8 268.4h.7v.7h-.7zM266.5 272.8h.7v.7h-.7zM270.2 266.1h.7v.7h-.7zM270.4 270.0h.7v.7h-.7zM264.9 274.5h.7v.7h-.7zM277.0 268.3h.7v.7h-.7zM275.3 271.5h.7v.7h-.7zM271.6 276.4h.7v.7h-.7zM266.2 271.9h.7v.7h-.7zM270.8 258.5h.7v.7h-.7zM272.1 274.3h.7v.7h-.7zM275.9 266.7h.7v.7h-.7zM271.4 285.9h.7v.7h-.7zM265.2 274.2h.7v.7h-.7zM274.0 265.2h.7v.7h-.7zM273.1 268.0h.7v.7h-.7zM268.2 266.3h.7v.7h-.7zM269.7 274.5h.7v.7h-.7zM267.8 264.1h.7v.7h-.7zM273.0 273.3h.7v.7h-.7zM272.6 270.9h.7v.7h-.7zM274.6 279.3h.7v.7h-.7zM276.6 273.2h.7v.7h-.7zM278.3 270.3h.7v.7h-.7zM269.7 270.4h.7v.7h-.7zM272.4 285.0h.7v.7h-.7zM268.9 274.2h.7v.7h-.7zM275.1 271.1h.7v.7h-.7zM274.5 268.1h.7v.7h-.7zM274.9 278.1h.7v.7h-.7zM270.7 269.6h.7v.7h-.7zM274.8 285.4h.7v.7h-.7zM275.1 270.9h.7v.7h-.7zM273.5 262.9h.7v.7h-.7zM272.9 267.4h.7v.7h-.7zM273.5 273.1h.7v.7h-.7zM271.2 273.5h.7v.7h-.7zM279.5 267.4h.7v.7h-.7zM271.3 258.0h.7v.7h-.7zM270.1 272.4h.7v.7h-.7zM275.3 275.9h.7v.7h-.7zM271.7 275.3h.7v.7h-.7zM269.7 272.8h.7v.7h-.7zM274.1 270.7h.7v.7h-.7zM270.1 268.1h.7v.7h-.7zM266.7 266.3h.7v.7h-.7zM269.8 278.2h.7v.7h-.7zM268.2 263.3h.7v.7h-.7zM272.0 283.8h.7v.7h-.7zM274.6 266.4h.7v.7h-.7zM274.3 272.1h.7v.7h-.7zM271.1 279.2h.7v.7h-.7zM265.0 273.2h.7v.7h-.7zM273.3 264.8h.7v.7h-.7zM271.5 282.1h.7v.7h-.7zM270.3 275.1h.7v.7h-.7zM269.4 284.1h.7v.7h-.7zM271.3 261.4h.7v.7h-.7zM273.1 261.9h.7v.7h-.7zM272.8 278.0h.7v.7h-.7zM274.1 283.1h.7v.7h-.7zM273.9 272.1h.7v.7h-.7zM277.5 264.7h.7v.7h-.7zM271.2 268.5h.7v.7h-.7zM271.4 276.9h.7v.7h-.7zM275.9 273.2h.7v.7h-.7zM268.6 276.6h.7v.7h-.7zM272.0 269.8h.7v.7h-.7zM271.2 265.7h.7v.7h-.7zM276.6 266.6h.7v.7h-.7zM270.2 273.5h.7v.7h-.7zM270.6 274.8h.7v.7h-.7zM280.5 270.4h.7v.7h-.7zM267.5 281.7h.7v.7h-.7zM266.0 266.6h.7v.7h-.7zM279.1 265.4h.7v.7h-.7zM274.9 261.3h.7v.7h-.7zM266.1 275.2h.7v.7h-.7zM273.9 285.3h.7v.7h-.7zM271.9 272.0h.7v.7h-.7zM277.4 278.3h.7v.7h-.7z" fill="#2a3fc0" opacity="0.80"/>
<path d="M271.8 291.0h.7v.7h-.7zM267.9 256.6h.7v.7h-.7zM281.6 270.1h.7v.7h-.7zM263.8 271.0h.7v.7h-.7zM271.9 289.4h.7v.7h-.7zM280.5 275.8h.7v.7h-.7zM263.2 260.0h.7v.7h-.7zM264.7 277.8h.7v.7h-.7zM276.0 285.7h.7v.7h-.7zM269.4 254.2h.7v.7h-.7zM281.2 271.3h.7v.7h-.7zM273.3 289.9h.7v.7h-.7zM266.1 259.2h.7v.7h-.7zM276.1 257.8h.7v.7h-.7zM267.6 284.4h.7v.7h-.7zM262.5 265.3h.7v.7h-.7zM264.5 272.1h.7v.7h-.7zM261.6 272.5h.7v.7h-.7zM280.8 279.4h.7v.7h-.7zM280.2 266.2h.7v.7h-.7zM278.2 291.1h.7v.7h-.7zM276.8 288.8h.7v.7h-.7zM274.6 287.3h.7v.7h-.7zM264.4 265.6h.7v.7h-.7zM272.1 255.3h.7v.7h-.7zM271.7 287.9h.7v.7h-.7zM264.6 263.5h.7v.7h-.7zM271.2 288.7h.7v.7h-.7zM264.2 267.6h.7v.7h-.7zM278.0 253.7h.7v.7h-.7zM276.5 287.3h.7v.7h-.7zM271.8 252.4h.7v.7h-.7zM279.9 264.3h.7v.7h-.7zM265.3 255.7h.7v.7h-.7zM262.7 272.1h.7v.7h-.7zM265.2 282.8h.7v.7h-.7zM278.6 258.2h.7v.7h-.7zM277.5 285.5h.7v.7h-.7zM267.9 287.9h.7v.7h-.7zM278.1 260.7h.7v.7h-.7zM276.4 253.7h.7v.7h-.7zM271.5 290.3h.7v.7h-.7zM282.2 260.8h.7v.7h-.7zM261.1 270.4h.7v.7h-.7zM263.7 258.5h.7v.7h-.7zM268.5 257.9h.7v.7h-.7zM276.3 286.6h.7v.7h-.7zM281.6 263.4h.7v.7h-.7zM278.8 284.1h.7v.7h-.7zM272.9 289.2h.7v.7h-.7zM271.5 287.5h.7v.7h-.7zM268.2 285.9h.7v.7h-.7zM274.4 254.4h.7v.7h-.7zM280.7 273.3h.7v.7h-.7zM265.3 282.8h.7v.7h-.7zM269.5 258.1h.7v.7h-.7zM273.4 253.1h.7v.7h-.7zM266.1 255.9h.7v.7h-.7zM266.3 260.4h.7v.7h-.7zM262.7 273.0h.7v.7h-.7zM281.5 275.9h.7v.7h-.7zM282.5 266.6h.7v.7h-.7zM264.0 279.7h.7v.7h-.7zM266.0 286.0h.7v.7h-.7zM280.9 275.4h.7v.7h-.7zM281.9 262.5h.7v.7h-.7zM266.0 283.7h.7v.7h-.7zM272.6 291.0h.7v.7h-.7zM263.6 277.5h.7v.7h-.7zM281.9 267.1h.7v.7h-.7zM281.3 266.5h.7v.7h-.7zM278.3 259.6h.7v.7h-.7zM270.3 255.5h.7v.7h-.7zM266.8 258.9h.7v.7h-.7zM264.3 268.6h.7v.7h-.7zM266.2 259.2h.7v.7h-.7zM261.8 272.1h.7v.7h-.7zM276.8 254.5h.7v.7h-.7zM280.0 260.7h.7v.7h-.7zM274.5 255.3h.7v.7h-.7zM278.6 256.5h.7v.7h-.7zM271.7 291.8h.7v.7h-.7zM274.2 293.0h.7v.7h-.7zM269.9 289.8h.7v.7h-.7zM264.2 285.0h.7v.7h-.7zM281.9 281.7h.7v.7h-.7zM282.2 268.1h.7v.7h-.7zM279.9 261.1h.7v.7h-.7zM263.7 262.9h.7v.7h-.7zM282.9 272.6h.7v.7h-.7zM270.4 257.5h.7v.7h-.7zM278.4 259.4h.7v.7h-.7zM274.8 256.1h.7v.7h-.7zM278.1 287.8h.7v.7h-.7z" fill="#5a6ad8" opacity="0.80"/>
<path d="M274.7 293.9h.7v.7h-.7zM261.4 261.7h.7v.7h-.7zM256.3 258.8h.7v.7h-.7zM282.2 257.9h.7v.7h-.7zM272.7 249.7h.7v.7h-.7zM260.8 269.9h.7v.7h-.7zM270.6 300.8h.7v.7h-.7zM281.0 255.7h.7v.7h-.7zM284.5 268.7h.7v.7h-.7zM267.7 250.8h.7v.7h-.7zM266.1 250.6h.7v.7h-.7zM262.3 257.0h.7v.7h-.7zM284.1 254.5h.7v.7h-.7z" fill="#9aa4e8" opacity="0.80"/>
<ellipse cx="272.3" cy="271.5" rx="3.2" ry="6.75" fill="#2a9ccc" opacity="0.75" filter="url(#blur1)"/>
<ellipse cx="272.1" cy="271" rx="1.76" ry="4.2" fill="#6cc43a" opacity="0.9" filter="url(#blur06)"/>
<ellipse cx="315.5" cy="276" rx="3.9099999999999997" ry="9.9" fill="#8fa0e8" opacity="0.16" filter="url(#blur2)"/>
<ellipse cx="315.5" cy="276.5" rx="2.55" ry="7.2" fill="#3450d0" opacity="0.23" filter="url(#blur2)"/>
<path d="M315.0 271.8h.7v.7h-.7zM315.0 274.8h.7v.7h-.7zM314.4 277.8h.7v.7h-.7zM315.5 281.1h.7v.7h-.7zM315.9 269.6h.7v.7h-.7zM312.9 275.6h.7v.7h-.7zM313.2 276.3h.7v.7h-.7zM316.0 284.8h.7v.7h-.7zM314.8 280.0h.7v.7h-.7zM316.0 278.0h.7v.7h-.7zM315.2 280.7h.7v.7h-.7zM317.5 274.3h.7v.7h-.7zM317.5 272.5h.7v.7h-.7zM314.3 281.6h.7v.7h-.7zM318.0 280.6h.7v.7h-.7zM314.4 280.8h.7v.7h-.7zM318.4 278.1h.7v.7h-.7zM316.1 275.6h.7v.7h-.7zM315.5 277.9h.7v.7h-.7zM316.0 273.8h.7v.7h-.7zM312.2 277.1h.7v.7h-.7zM315.2 275.0h.7v.7h-.7zM316.4 281.4h.7v.7h-.7zM317.1 277.5h.7v.7h-.7zM315.9 276.7h.7v.7h-.7zM316.9 272.4h.7v.7h-.7zM313.5 272.3h.7v.7h-.7zM316.8 269.5h.7v.7h-.7zM315.4 275.3h.7v.7h-.7zM315.3 275.2h.7v.7h-.7zM315.0 274.9h.7v.7h-.7zM316.1 269.4h.7v.7h-.7zM312.7 274.0h.7v.7h-.7zM316.3 282.3h.7v.7h-.7zM317.4 276.0h.7v.7h-.7zM317.0 274.2h.7v.7h-.7zM317.4 271.9h.7v.7h-.7zM317.9 270.5h.7v.7h-.7zM314.1 269.3h.7v.7h-.7zM318.4 277.4h.7v.7h-.7zM317.1 277.8h.7v.7h-.7zM316.3 279.2h.7v.7h-.7zM314.0 278.4h.7v.7h-.7zM316.8 278.0h.7v.7h-.7zM314.4 279.7h.7v.7h-.7zM316.8 280.0h.7v.7h-.7zM312.7 279.0h.7v.7h-.7zM318.7 274.5h.7v.7h-.7zM314.1 277.4h.7v.7h-.7zM318.6 273.9h.7v.7h-.7zM317.1 273.3h.7v.7h-.7zM315.4 280.8h.7v.7h-.7zM315.0 278.9h.7v.7h-.7zM313.6 279.4h.7v.7h-.7zM317.0 275.0h.7v.7h-.7zM316.3 281.5h.7v.7h-.7zM315.0 276.5h.7v.7h-.7zM314.4 280.8h.7v.7h-.7zM314.5 275.9h.7v.7h-.7zM313.6 273.1h.7v.7h-.7zM314.8 281.7h.7v.7h-.7zM318.9 275.9h.7v.7h-.7zM314.0 276.8h.7v.7h-.7zM314.7 267.9h.7v.7h-.7zM315.3 276.2h.7v.7h-.7zM315.1 276.9h.7v.7h-.7zM317.6 275.4h.7v.7h-.7zM316.1 268.3h.7v.7h-.7zM315.8 278.2h.7v.7h-.7zM316.4 280.6h.7v.7h-.7zM317.0 274.3h.7v.7h-.7zM314.6 272.4h.7v.7h-.7zM316.3 274.9h.7v.7h-.7zM313.8 275.1h.7v.7h-.7zM316.9 277.9h.7v.7h-.7zM313.9 276.9h.7v.7h-.7zM314.1 272.6h.7v.7h-.7zM315.6 269.0h.7v.7h-.7zM313.6 274.3h.7v.7h-.7zM314.8 269.2h.7v.7h-.7zM316.4 271.8h.7v.7h-.7zM314.9 280.0h.7v.7h-.7zM314.2 276.9h.7v.7h-.7zM317.3 281.9h.7v.7h-.7zM313.9 282.1h.7v.7h-.7zM313.3 275.4h.7v.7h-.7zM315.4 275.6h.7v.7h-.7zM315.0 276.2h.7v.7h-.7zM317.1 283.5h.7v.7h-.7zM315.9 284.5h.7v.7h-.7zM313.6 279.7h.7v.7h-.7zM314.9 281.7h.7v.7h-.7zM316.0 283.5h.7v.7h-.7zM314.7 275.5h.7v.7h-.7zM315.3 277.5h.7v.7h-.7zM314.0 268.2h.7v.7h-.7zM316.6 277.5h.7v.7h-.7zM313.8 276.1h.7v.7h-.7zM316.5 272.7h.7v.7h-.7zM316.4 280.6h.7v.7h-.7zM317.2 269.6h.7v.7h-.7zM312.6 273.3h.7v.7h-.7zM315.3 270.9h.7v.7h-.7zM315.0 278.0h.7v.7h-.7zM316.6 269.3h.7v.7h-.7zM316.6 275.7h.7v.7h-.7zM316.7 274.7h.7v.7h-.7zM315.1 279.6h.7v.7h-.7zM316.7 275.7h.7v.7h-.7zM315.7 271.6h.7v.7h-.7zM316.7 273.5h.7v.7h-.7zM314.3 271.9h.7v.7h-.7zM313.7 278.5h.7v.7h-.7zM316.7 276.4h.7v.7h-.7zM316.6 276.1h.7v.7h-.7zM317.8 278.7h.7v.7h-.7zM314.8 278.8h.7v.7h-.7zM317.2 274.2h.7v.7h-.7zM315.9 277.7h.7v.7h-.7zM317.1 274.9h.7v.7h-.7zM315.3 275.8h.7v.7h-.7zM316.4 271.2h.7v.7h-.7zM315.3 273.8h.7v.7h-.7zM314.8 274.9h.7v.7h-.7zM315.1 277.7h.7v.7h-.7zM317.9 270.6h.7v.7h-.7zM318.1 274.1h.7v.7h-.7zM314.3 277.2h.7v.7h-.7zM315.0 282.5h.7v.7h-.7z" fill="#2a3fc0" opacity="0.36"/>
<path d="M312.5 270.0h.7v.7h-.7zM311.9 274.2h.7v.7h-.7zM317.2 266.1h.7v.7h-.7zM312.4 284.6h.7v.7h-.7zM318.9 271.5h.7v.7h-.7zM319.9 271.6h.7v.7h-.7zM312.1 268.2h.7v.7h-.7zM318.0 267.5h.7v.7h-.7zM315.6 286.8h.7v.7h-.7zM311.5 272.5h.7v.7h-.7zM312.1 278.6h.7v.7h-.7zM316.8 287.1h.7v.7h-.7zM311.7 275.9h.7v.7h-.7zM317.6 268.5h.7v.7h-.7zM318.6 284.6h.7v.7h-.7zM312.1 274.4h.7v.7h-.7zM311.1 274.8h.7v.7h-.7zM311.1 270.9h.7v.7h-.7zM312.8 266.3h.7v.7h-.7z" fill="#5a6ad8" opacity="0.36"/>
<path d="M315.2 259.8h.7v.7h-.7zM320.4 272.1h.7v.7h-.7z" fill="#9aa4e8" opacity="0.36"/>
<path d="M225.8 315.3h.7v.7h-.7z" fill="#8a84d0" opacity="0.7"/>
<path d="M238.0 321.4h.7v.7h-.7z" fill="#8a84d0" opacity="0.7"/>
<path d="M237.4 314.5h.7v.7h-.7z" fill="#8a84d0" opacity="0.7"/>
<path d="M232.7 313.1h.7v.7h-.7z" fill="#8a84d0" opacity="0.7"/>
<path d="M223.8 312.1h.7v.7h-.7z" fill="#8a84d0" opacity="0.7"/>
<path d="M236.1 315.4h.7v.7h-.7z" fill="#8a84d0" opacity="0.7"/>
<path d="M229.2 309.3h.7v.7h-.7z" fill="#8a84d0" opacity="0.7"/>
<path d="M230.5 311.5h.7v.7h-.7z" fill="#8a84d0" opacity="0.7"/>
<path d="M231.1 316.5h.7v.7h-.7z" fill="#8a84d0" opacity="0.7"/>
<path d="M218.6 313.8h.7v.7h-.7z" fill="#8a84d0" opacity="0.7"/>
<path d="M223.0 309.9h.7v.7h-.7z" fill="#8a84d0" opacity="0.7"/>
<path d="M224.2 319.4h.7v.7h-.7z" fill="#8a84d0" opacity="0.7"/>
<path d="M234.6 316.6h.7v.7h-.7z" fill="#8a84d0" opacity="0.7"/>
<path d="M226.9 307.5h.7v.7h-.7z" fill="#8a84d0" opacity="0.7"/>
<path d="M228.9 315.2h.7v.7h-.7z" fill="#8a84d0" opacity="0.7"/>
<path d="M230.6 317.4h.7v.7h-.7z" fill="#8a84d0" opacity="0.7"/>
<path d="M229.0 322.6h.7v.7h-.7z" fill="#8a84d0" opacity="0.7"/>
<path d="M234.5 323.5h.7v.7h-.7z" fill="#8a84d0" opacity="0.7"/>
<path d="M232.3 313.1h.7v.7h-.7z" fill="#8a84d0" opacity="0.7"/>
<path d="M226.4 318.0h.7v.7h-.7z" fill="#8a84d0" opacity="0.7"/>
<path d="M236.6 315.0h.7v.7h-.7z" fill="#8a84d0" opacity="0.7"/>
<path d="M233.2 313.0h.7v.7h-.7z" fill="#8a84d0" opacity="0.7"/>
<path d="M228.7 312.9h.7v.7h-.7z" fill="#8a84d0" opacity="0.7"/>
<path d="M220.7 309.5h.7v.7h-.7z" fill="#8a84d0" opacity="0.7"/>
<path d="M231.2 314.8h.7v.7h-.7z" fill="#8a84d0" opacity="0.7"/>
<path d="M236.8 317.2h.7v.7h-.7z" fill="#8a84d0" opacity="0.7"/>
<path d="M233.2 314.4h.7v.7h-.7z" fill="#8a84d0" opacity="0.7"/>
<path d="M218.7 314.4h.7v.7h-.7z" fill="#8a84d0" opacity="0.7"/>
<path d="M226.1 316.5h.7v.7h-.7z" fill="#8a84d0" opacity="0.7"/>
<path d="M229.4 312.6h.7v.7h-.7z" fill="#8a84d0" opacity="0.7"/>
<path d="M228.0 312.8h.7v.7h-.7z" fill="#8a84d0" opacity="0.7"/>
<path d="M220.3 306.8h.7v.7h-.7z" fill="#8a84d0" opacity="0.7"/>
<path d="M237.5 316.2h.7v.7h-.7z" fill="#8a84d0" opacity="0.7"/>
<path d="M228.5 312.6h.7v.7h-.7z" fill="#8a84d0" opacity="0.7"/>
<path d="M228.9 329.4h.7v.7h-.7z" fill="#8a84d0" opacity="0.7"/>
<path d="M233.7 314.2h.7v.7h-.7z" fill="#8a84d0" opacity="0.7"/>
<path d="M227.2 303.2h.7v.7h-.7z" fill="#8a84d0" opacity="0.7"/>
<path d="M231.6 320.7h.7v.7h-.7z" fill="#8a84d0" opacity="0.7"/>
<path d="M236.0 315.4h.7v.7h-.7z" fill="#8a84d0" opacity="0.7"/>
<path d="M227.6 308.7h.7v.7h-.7z" fill="#8a84d0" opacity="0.7"/>
<path d="M231.3 312.3h.7v.7h-.7z" fill="#8a84d0" opacity="0.7"/>
<path d="M224.7 321.9h.7v.7h-.7z" fill="#8a84d0" opacity="0.7"/>
<path d="M225.8 311.6h.7v.7h-.7z" fill="#8a84d0" opacity="0.7"/>
<path d="M217.9 322.1h.7v.7h-.7z" fill="#8a84d0" opacity="0.7"/>
<path d="M230.0 313.8h.7v.7h-.7z" fill="#8a84d0" opacity="0.7"/>
<path d="M275.8 310.2h.7v.7h-.7z" fill="#8a84d0" opacity="0.7"/>
<path d="M270.8 315.5h.7v.7h-.7z" fill="#8a84d0" opacity="0.7"/>
<path d="M269.7 315.7h.7v.7h-.7z" fill="#8a84d0" opacity="0.7"/>
<path d="M280.9 317.7h.7v.7h-.7z" fill="#8a84d0" opacity="0.7"/>
<path d="M282.0 319.2h.7v.7h-.7z" fill="#8a84d0" opacity="0.7"/>
<path d="M283.7 315.5h.7v.7h-.7z" fill="#8a84d0" opacity="0.7"/>
<path d="M276.6 309.1h.7v.7h-.7z" fill="#8a84d0" opacity="0.7"/>
<path d="M273.2 310.8h.7v.7h-.7z" fill="#8a84d0" opacity="0.7"/>
<path d="M273.8 309.3h.7v.7h-.7z" fill="#8a84d0" opacity="0.7"/>
<path d="M276.0 326.2h.7v.7h-.7z" fill="#8a84d0" opacity="0.7"/>
<path d="M270.0 316.9h.7v.7h-.7z" fill="#8a84d0" opacity="0.7"/>
<path d="M277.7 310.8h.7v.7h-.7z" fill="#8a84d0" opacity="0.7"/>
<path d="M272.6 311.7h.7v.7h-.7z" fill="#8a84d0" opacity="0.7"/>
<path d="M276.6 311.2h.7v.7h-.7z" fill="#8a84d0" opacity="0.7"/>
<path d="M288.5 318.2h.7v.7h-.7z" fill="#8a84d0" opacity="0.7"/>
<path d="M280.5 324.3h.7v.7h-.7z" fill="#8a84d0" opacity="0.7"/>
<path d="M281.8 313.7h.7v.7h-.7z" fill="#8a84d0" opacity="0.7"/>
<path d="M276.2 314.4h.7v.7h-.7z" fill="#8a84d0" opacity="0.7"/>
<path d="M275.7 318.7h.7v.7h-.7z" fill="#8a84d0" opacity="0.7"/>
<path d="M263.3 306.3h.7v.7h-.7z" fill="#8a84d0" opacity="0.7"/>
<path d="M272.4 316.3h.7v.7h-.7z" fill="#8a84d0" opacity="0.7"/>
<path d="M271.5 313.3h.7v.7h-.7z" fill="#8a84d0" opacity="0.7"/>
<path d="M280.3 317.3h.7v.7h-.7z" fill="#8a84d0" opacity="0.7"/>
<path d="M273.6 312.6h.7v.7h-.7z" fill="#8a84d0" opacity="0.7"/>
<path d="M266.1 316.4h.7v.7h-.7z" fill="#8a84d0" opacity="0.7"/>
<path d="M274.8 309.6h.7v.7h-.7z" fill="#8a84d0" opacity="0.7"/>
<path d="M276.8 312.4h.7v.7h-.7z" fill="#8a84d0" opacity="0.7"/>
<path d="M272.2 306.4h.7v.7h-.7z" fill="#8a84d0" opacity="0.7"/>
<path d="M279.0 310.5h.7v.7h-.7z" fill="#8a84d0" opacity="0.7"/>
<path d="M275.7 315.1h.7v.7h-.7z" fill="#8a84d0" opacity="0.7"/>
<path d="M270.9 313.7h.7v.7h-.7z" fill="#8a84d0" opacity="0.7"/>
<path d="M272.7 312.8h.7v.7h-.7z" fill="#8a84d0" opacity="0.7"/>
<path d="M275.0 311.0h.7v.7h-.7z" fill="#8a84d0" opacity="0.7"/>
<path d="M277.7 314.5h.7v.7h-.7z" fill="#8a84d0" opacity="0.7"/>
<path d="M267.5 315.8h.7v.7h-.7z" fill="#8a84d0" opacity="0.7"/>
<path d="M313.2 316.1h.7v.7h-.7z" fill="#8a84d0" opacity="0.7"/>
<path d="M302.6 315.5h.7v.7h-.7z" fill="#8a84d0" opacity="0.7"/>
<path d="M303.0 311.8h.7v.7h-.7z" fill="#8a84d0" opacity="0.7"/>
<path d="M332.9 316.9h.7v.7h-.7z" fill="#8a84d0" opacity="0.7"/>
<path d="M321.1 310.5h.7v.7h-.7z" fill="#8a84d0" opacity="0.7"/>
<path d="M309.0 313.4h.7v.7h-.7z" fill="#8a84d0" opacity="0.7"/>
<path d="M317.5 313.3h.7v.7h-.7z" fill="#8a84d0" opacity="0.7"/>
<path d="M311.5 309.6h.7v.7h-.7z" fill="#8a84d0" opacity="0.7"/>
<path d="M313.0 321.4h.7v.7h-.7z" fill="#8a84d0" opacity="0.7"/>
<path d="M315.3 312.1h.7v.7h-.7z" fill="#8a84d0" opacity="0.7"/>
<path d="M313.9 309.3h.7v.7h-.7z" fill="#8a84d0" opacity="0.7"/>
<path d="M308.0 314.6h.7v.7h-.7z" fill="#8a84d0" opacity="0.7"/>
</g>
<rect x="213.40" y="251.30" width="39.00" height="38.90" fill="none" stroke="#8a8a8a" stroke-width="0.8"/>
<rect x="255.30" y="251.30" width="39.40" height="38.90" fill="none" stroke="#8a8a8a" stroke-width="0.8"/>
<rect x="296.80" y="251.30" width="40.40" height="39.50" fill="none" stroke="#8a8a8a" stroke-width="0.8"/>
<rect x="213.40" y="302.50" width="39.00" height="39.10" fill="none" stroke="#8a8a8a" stroke-width="0.8"/>
<rect x="256.60" y="302.50" width="39.30" height="39.10" fill="none" stroke="#8a8a8a" stroke-width="0.8"/>
<rect x="298.10" y="302.50" width="39.30" height="39.10" fill="none" stroke="#8a8a8a" stroke-width="0.8"/>
<rect x="218.50" y="254.50" width="20.40" height="12.80" fill="none" stroke="#3a3a3a" stroke-width="0.7"/>
<rect x="238.90" y="254.50" width="13.50" height="12.80" fill="none" stroke="#3a3a3a" stroke-width="0.7"/>
<rect x="259.50" y="253.70" width="21.30" height="13.80" fill="none" stroke="#3a3a3a" stroke-width="0.7"/>
<rect x="280.80" y="253.70" width="13.90" height="13.80" fill="none" stroke="#3a3a3a" stroke-width="0.7"/>
<rect x="301.00" y="253.70" width="20.30" height="14.50" fill="none" stroke="#3a3a3a" stroke-width="0.7"/>
<rect x="322.70" y="253.70" width="14.50" height="14.50" fill="none" stroke="#3a3a3a" stroke-width="0.7"/>
<rect x="236.70" y="318.00" width="15.70" height="23.60" fill="none" stroke="#3a3a3a" stroke-width="0.7"/>
<rect x="279.40" y="318.00" width="16.50" height="23.60" fill="none" stroke="#3a3a3a" stroke-width="0.7"/>
<rect x="321.30" y="318.00" width="16.10" height="23.60" fill="none" stroke="#3a3a3a" stroke-width="0.7"/>
<text x="222.60" y="261.30" font-size="6.8" fill="#222" textLength="12.00" lengthAdjust="spacingAndGlyphs">18.0</text>
<text x="240.80" y="261.80" font-size="6.8" fill="#222" textLength="10.70" lengthAdjust="spacingAndGlyphs">1.20</text>
<text x="260.00" y="261.60" font-size="6.8" fill="#222" textLength="12.50" lengthAdjust="spacingAndGlyphs">19.3</text>
<text x="282.00" y="261.60" font-size="6.8" fill="#222" textLength="12.10" lengthAdjust="spacingAndGlyphs">1.07</text>
<text x="302.80" y="261.60" font-size="6.8" fill="#222" textLength="11.60" lengthAdjust="spacingAndGlyphs">3.41</text>
<text x="324.00" y="261.60" font-size="6.8" fill="#222" textLength="12.50" lengthAdjust="spacingAndGlyphs">0.35</text>
<text x="214.90" y="275.70" font-size="6.8" fill="#222" textLength="12.30" lengthAdjust="spacingAndGlyphs">HPC</text>
<text x="240.80" y="275.70" font-size="6.8" fill="#222" textLength="10.00" lengthAdjust="spacingAndGlyphs">LSK</text>
<text x="238.10" y="332.00" font-size="6.8" fill="#222" textLength="12.50" lengthAdjust="spacingAndGlyphs">HSC</text>
<text x="238.10" y="339.20" font-size="6.8" fill="#222" textLength="12.50" lengthAdjust="spacingAndGlyphs">11.8</text>
<text x="282.00" y="339.60" font-size="6.8" fill="#222" textLength="12.10" lengthAdjust="spacingAndGlyphs">11.9</text>
<text x="326.20" y="339.50" font-size="6.8" fill="#222" textLength="9.00" lengthAdjust="spacingAndGlyphs">0.0</text>
<line x1="210.30" y1="294.20" x2="210.30" y2="252.50" stroke="#111" stroke-width="0.9"/>
<polygon points="210.30,252.50 212.05,257.70 208.55,257.70" fill="#111"/>
<line x1="210.30" y1="294.20" x2="255.00" y2="294.20" stroke="#111" stroke-width="0.9"/>
<polygon points="255.00,294.20 249.80,295.95 249.80,292.45" fill="#111"/>
<line x1="210.80" y1="346.20" x2="210.80" y2="304.00" stroke="#111" stroke-width="0.9"/>
<polygon points="210.80,304.00 212.55,309.20 209.05,309.20" fill="#111"/>
<line x1="210.80" y1="346.20" x2="256.00" y2="346.20" stroke="#111" stroke-width="0.9"/>
<polygon points="256.00,346.20 250.80,347.95 250.80,344.45" fill="#111"/>
<text x="205.60" y="272.30" font-size="8.3" text-anchor="middle" fill="#444" textLength="36.30" lengthAdjust="spacingAndGlyphs" transform="rotate(-90 205.60 272.30)">cKit-APC-Cy7</text>
<text x="206.20" y="325.20" font-size="8.7" text-anchor="middle" fill="#444" textLength="38.00" lengthAdjust="spacingAndGlyphs" transform="rotate(-90 206.20 325.20)">CD48-PE-Cy7</text>
<text x="215.10" y="301.30" font-size="7.6" textLength="23.00" lengthAdjust="spacingAndGlyphs">Sca1-PE</text>
<text x="211.10" y="355.10" font-size="8.4" textLength="34.60" lengthAdjust="spacingAndGlyphs">CD150-APC</text>
<line x1="30.00" y1="82.70" x2="162.60" y2="82.70" stroke="#2e2e2e" stroke-width="1.1"/>
<line x1="184.00" y1="82.70" x2="231.20" y2="82.70" stroke="#2e2e2e" stroke-width="1.1"/>
<line x1="259.00" y1="82.60" x2="306.00" y2="82.60" stroke="#2e2e2e" stroke-width="1.1"/>
<line x1="335.00" y1="82.60" x2="382.00" y2="82.60" stroke="#2e2e2e" stroke-width="1.1"/>
<line x1="33.00" y1="194.10" x2="73.20" y2="194.10" stroke="#2e2e2e" stroke-width="1.1"/>
<line x1="370.00" y1="193.80" x2="409.80" y2="193.80" stroke="#2e2e2e" stroke-width="1.1"/>
<line x1="440.70" y1="194.10" x2="490.40" y2="194.10" stroke="#2e2e2e" stroke-width="1.1"/>
<line x1="32.80" y1="340.30" x2="84.60" y2="340.30" stroke="#2e2e2e" stroke-width="1.1"/>
<line x1="126.60" y1="340.50" x2="193.00" y2="340.50" stroke="#2e2e2e" stroke-width="1.1"/>
<line x1="367.70" y1="340.40" x2="433.00" y2="340.40" stroke="#2e2e2e" stroke-width="1.1"/>
<line x1="463.80" y1="340.50" x2="507.90" y2="340.50" stroke="#2e2e2e" stroke-width="1.1"/>
<line x1="49.00" y1="465.50" x2="278.75" y2="465.50" stroke="#2e2e2e" stroke-width="1.1"/>
<line x1="338.20" y1="465.50" x2="486.50" y2="465.50" stroke="#2e2e2e" stroke-width="1.1"/>
<line x1="28.00" y1="587.00" x2="513.50" y2="587.00" stroke="#2e2e2e" stroke-width="1.1"/>
<rect x="0.5" y="0.5" width="519" height="644" fill="none" stroke="#000" stroke-width="1.2"/>
</svg>
</body></html>
